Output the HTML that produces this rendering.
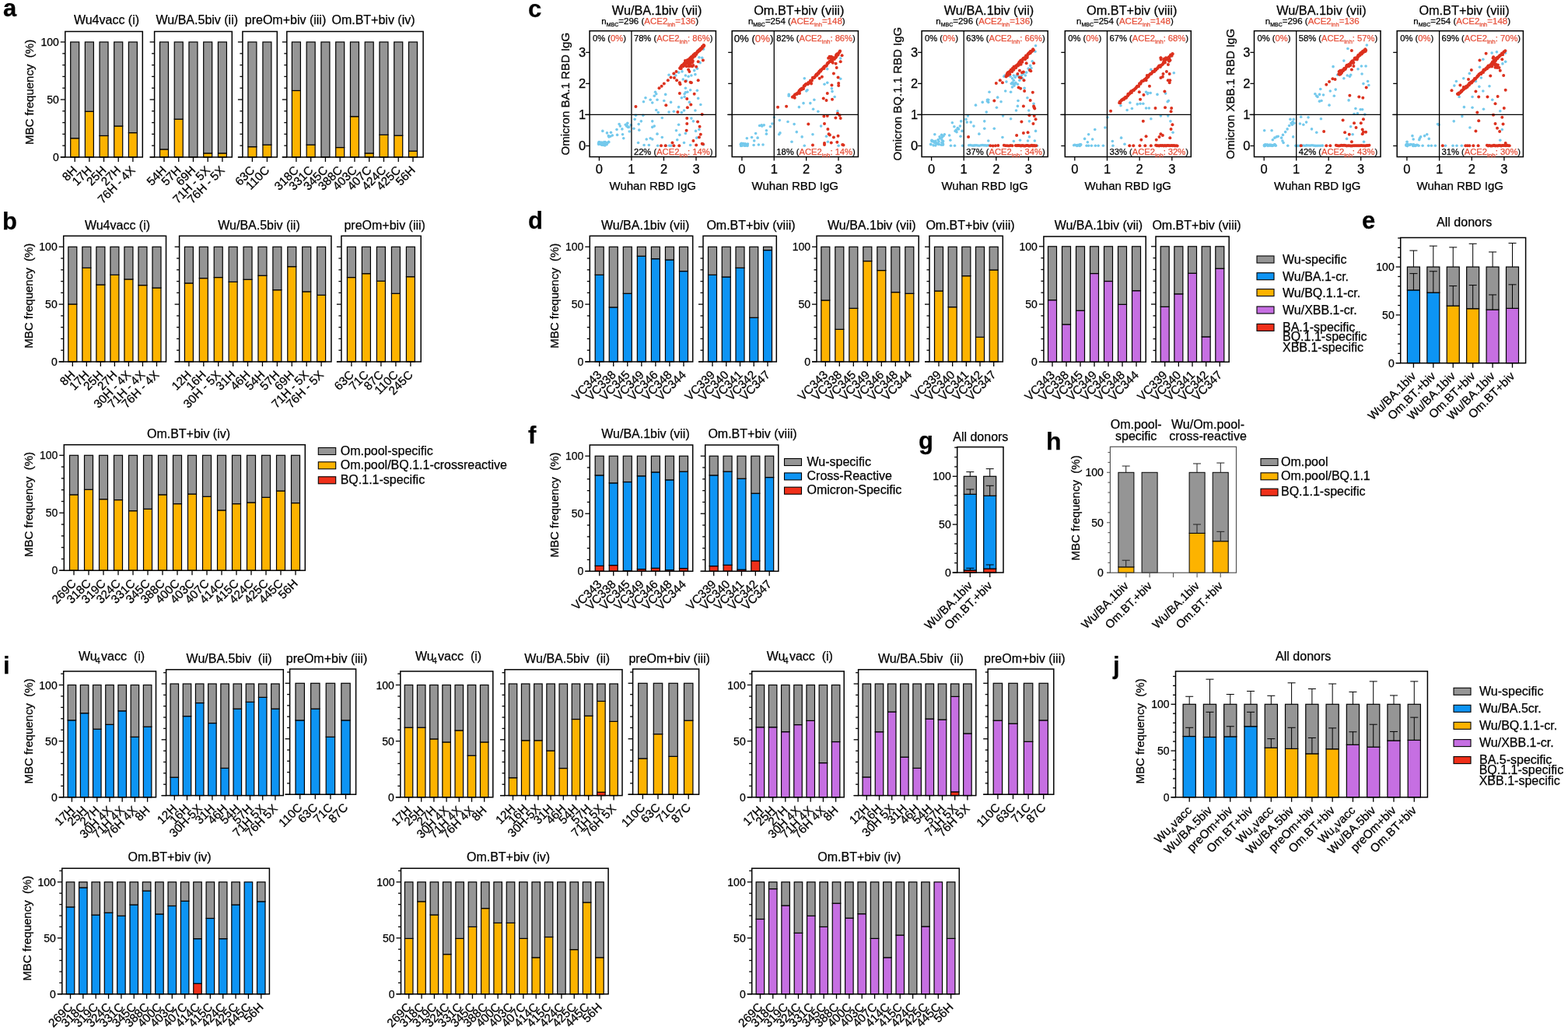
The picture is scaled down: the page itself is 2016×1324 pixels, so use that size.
<!DOCTYPE html>
<html><head><meta charset="utf-8"><title>Figure</title>
<style>html,body{margin:0;padding:0;background:#fff;overflow:hidden;width:2016px;height:1324px;} svg{display:block;} text{font-family:'Liberation Sans', Arial, sans-serif;stroke:#000;stroke-width:0.25px;} tspan[fill]{stroke:#e6503a;}</style>
</head><body>
<svg width="2016" height="1324" viewBox="0 0 2016 1324">
<rect width="2016" height="1324" fill="#fff"/>
<text x="4" y="21" font-size="31" font-weight="bold">a</text>
<rect x="90.7" y="177.73" width="11" height="24.27" fill="#fdb300" stroke="#000" stroke-width="1.2"/>
<rect x="90.7" y="54" width="11" height="123.73" fill="#959595" stroke="#000" stroke-width="1.2"/>
<rect x="109.37" y="143.24" width="11" height="58.76" fill="#fdb300" stroke="#000" stroke-width="1.2"/>
<rect x="109.37" y="54" width="11" height="89.24" fill="#959595" stroke="#000" stroke-width="1.2"/>
<rect x="128.04" y="174.47" width="11" height="27.53" fill="#fdb300" stroke="#000" stroke-width="1.2"/>
<rect x="128.04" y="54" width="11" height="120.47" fill="#959595" stroke="#000" stroke-width="1.2"/>
<rect x="146.71" y="162.04" width="11" height="39.96" fill="#fdb300" stroke="#000" stroke-width="1.2"/>
<rect x="146.71" y="54" width="11" height="108.04" fill="#959595" stroke="#000" stroke-width="1.2"/>
<rect x="165.38" y="170.62" width="11" height="31.38" fill="#fdb300" stroke="#000" stroke-width="1.2"/>
<rect x="165.38" y="54" width="11" height="116.62" fill="#959595" stroke="#000" stroke-width="1.2"/>
<rect x="83.8" y="40.5" width="99.5" height="161.5" fill="none" stroke="#000" stroke-width="1.5"/>
<line x1="77.8" y1="202" x2="83.8" y2="202" stroke="#000" stroke-width="1.3"/>
<text x="75.8" y="207.04" font-size="14" text-anchor="end">0</text>
<line x1="80.3" y1="187.2" x2="83.8" y2="187.2" stroke="#000" stroke-width="1.3"/>
<line x1="80.3" y1="172.4" x2="83.8" y2="172.4" stroke="#000" stroke-width="1.3"/>
<line x1="80.3" y1="157.6" x2="83.8" y2="157.6" stroke="#000" stroke-width="1.3"/>
<line x1="80.3" y1="142.8" x2="83.8" y2="142.8" stroke="#000" stroke-width="1.3"/>
<line x1="77.8" y1="128" x2="83.8" y2="128" stroke="#000" stroke-width="1.3"/>
<text x="75.8" y="133.04" font-size="14" text-anchor="end">50</text>
<line x1="80.3" y1="113.2" x2="83.8" y2="113.2" stroke="#000" stroke-width="1.3"/>
<line x1="80.3" y1="98.4" x2="83.8" y2="98.4" stroke="#000" stroke-width="1.3"/>
<line x1="80.3" y1="83.6" x2="83.8" y2="83.6" stroke="#000" stroke-width="1.3"/>
<line x1="80.3" y1="68.8" x2="83.8" y2="68.8" stroke="#000" stroke-width="1.3"/>
<line x1="77.8" y1="54" x2="83.8" y2="54" stroke="#000" stroke-width="1.3"/>
<text x="75.8" y="59.04" font-size="14" text-anchor="end">100</text>
<line x1="77.8" y1="202" x2="83.8" y2="202" stroke="#000" stroke-width="1.3"/>
<line x1="96.2" y1="202" x2="96.2" y2="208" stroke="#000" stroke-width="1.3"/>
<line x1="114.87" y1="202" x2="114.87" y2="208" stroke="#000" stroke-width="1.3"/>
<line x1="133.54" y1="202" x2="133.54" y2="208" stroke="#000" stroke-width="1.3"/>
<line x1="152.21" y1="202" x2="152.21" y2="208" stroke="#000" stroke-width="1.3"/>
<line x1="170.88" y1="202" x2="170.88" y2="208" stroke="#000" stroke-width="1.3"/>
<text transform="translate(100.1,219.7) rotate(-45)" font-size="15.3" text-anchor="end">8H</text>
<text transform="translate(118.77,219.7) rotate(-45)" font-size="15.3" text-anchor="end">17H</text>
<text transform="translate(137.44,219.7) rotate(-45)" font-size="15.3" text-anchor="end">25H</text>
<text transform="translate(156.11,219.7) rotate(-45)" font-size="15.3" text-anchor="end">27H</text>
<text transform="translate(174.78,219.7) rotate(-45)" font-size="15.3" text-anchor="end">76H - 4X</text>
<rect x="205.5" y="191.94" width="11" height="10.06" fill="#fdb300" stroke="#000" stroke-width="1.2"/>
<rect x="205.5" y="54" width="11" height="137.94" fill="#959595" stroke="#000" stroke-width="1.2"/>
<rect x="224.23" y="153.16" width="11" height="48.84" fill="#fdb300" stroke="#000" stroke-width="1.2"/>
<rect x="224.23" y="54" width="11" height="99.16" fill="#959595" stroke="#000" stroke-width="1.2"/>
<rect x="242.96" y="54" width="11" height="148" fill="#959595" stroke="#000" stroke-width="1.2"/>
<rect x="261.69" y="196.97" width="11" height="5.03" fill="#fdb300" stroke="#000" stroke-width="1.2"/>
<rect x="261.69" y="54" width="11" height="142.97" fill="#959595" stroke="#000" stroke-width="1.2"/>
<rect x="280.42" y="196.97" width="11" height="5.03" fill="#fdb300" stroke="#000" stroke-width="1.2"/>
<rect x="280.42" y="54" width="11" height="142.97" fill="#959595" stroke="#000" stroke-width="1.2"/>
<rect x="198.6" y="40.5" width="99.7" height="161.5" fill="none" stroke="#000" stroke-width="1.5"/>
<line x1="192.6" y1="202" x2="198.6" y2="202" stroke="#000" stroke-width="1.3"/>
<line x1="195.1" y1="187.2" x2="198.6" y2="187.2" stroke="#000" stroke-width="1.3"/>
<line x1="195.1" y1="172.4" x2="198.6" y2="172.4" stroke="#000" stroke-width="1.3"/>
<line x1="195.1" y1="157.6" x2="198.6" y2="157.6" stroke="#000" stroke-width="1.3"/>
<line x1="195.1" y1="142.8" x2="198.6" y2="142.8" stroke="#000" stroke-width="1.3"/>
<line x1="192.6" y1="128" x2="198.6" y2="128" stroke="#000" stroke-width="1.3"/>
<line x1="195.1" y1="113.2" x2="198.6" y2="113.2" stroke="#000" stroke-width="1.3"/>
<line x1="195.1" y1="98.4" x2="198.6" y2="98.4" stroke="#000" stroke-width="1.3"/>
<line x1="195.1" y1="83.6" x2="198.6" y2="83.6" stroke="#000" stroke-width="1.3"/>
<line x1="195.1" y1="68.8" x2="198.6" y2="68.8" stroke="#000" stroke-width="1.3"/>
<line x1="192.6" y1="54" x2="198.6" y2="54" stroke="#000" stroke-width="1.3"/>
<line x1="192.6" y1="202" x2="198.6" y2="202" stroke="#000" stroke-width="1.3"/>
<line x1="211" y1="202" x2="211" y2="208" stroke="#000" stroke-width="1.3"/>
<line x1="229.73" y1="202" x2="229.73" y2="208" stroke="#000" stroke-width="1.3"/>
<line x1="248.46" y1="202" x2="248.46" y2="208" stroke="#000" stroke-width="1.3"/>
<line x1="267.19" y1="202" x2="267.19" y2="208" stroke="#000" stroke-width="1.3"/>
<line x1="285.92" y1="202" x2="285.92" y2="208" stroke="#000" stroke-width="1.3"/>
<text transform="translate(214.9,219.7) rotate(-45)" font-size="15.3" text-anchor="end">54H</text>
<text transform="translate(233.63,219.7) rotate(-45)" font-size="15.3" text-anchor="end">57H</text>
<text transform="translate(252.36,219.7) rotate(-45)" font-size="15.3" text-anchor="end">69H</text>
<text transform="translate(271.09,219.7) rotate(-45)" font-size="15.3" text-anchor="end">71H - 5X</text>
<text transform="translate(289.82,219.7) rotate(-45)" font-size="15.3" text-anchor="end">76H - 5X</text>
<rect x="318.9" y="188.68" width="11" height="13.32" fill="#fdb300" stroke="#000" stroke-width="1.2"/>
<rect x="318.9" y="54" width="11" height="134.68" fill="#959595" stroke="#000" stroke-width="1.2"/>
<rect x="337.9" y="186.16" width="11" height="15.84" fill="#fdb300" stroke="#000" stroke-width="1.2"/>
<rect x="337.9" y="54" width="11" height="132.16" fill="#959595" stroke="#000" stroke-width="1.2"/>
<rect x="311.9" y="40.5" width="44.4" height="161.5" fill="none" stroke="#000" stroke-width="1.5"/>
<line x1="305.9" y1="202" x2="311.9" y2="202" stroke="#000" stroke-width="1.3"/>
<line x1="308.4" y1="187.2" x2="311.9" y2="187.2" stroke="#000" stroke-width="1.3"/>
<line x1="308.4" y1="172.4" x2="311.9" y2="172.4" stroke="#000" stroke-width="1.3"/>
<line x1="308.4" y1="157.6" x2="311.9" y2="157.6" stroke="#000" stroke-width="1.3"/>
<line x1="308.4" y1="142.8" x2="311.9" y2="142.8" stroke="#000" stroke-width="1.3"/>
<line x1="305.9" y1="128" x2="311.9" y2="128" stroke="#000" stroke-width="1.3"/>
<line x1="308.4" y1="113.2" x2="311.9" y2="113.2" stroke="#000" stroke-width="1.3"/>
<line x1="308.4" y1="98.4" x2="311.9" y2="98.4" stroke="#000" stroke-width="1.3"/>
<line x1="308.4" y1="83.6" x2="311.9" y2="83.6" stroke="#000" stroke-width="1.3"/>
<line x1="308.4" y1="68.8" x2="311.9" y2="68.8" stroke="#000" stroke-width="1.3"/>
<line x1="305.9" y1="54" x2="311.9" y2="54" stroke="#000" stroke-width="1.3"/>
<line x1="305.9" y1="202" x2="311.9" y2="202" stroke="#000" stroke-width="1.3"/>
<line x1="324.4" y1="202" x2="324.4" y2="208" stroke="#000" stroke-width="1.3"/>
<line x1="343.4" y1="202" x2="343.4" y2="208" stroke="#000" stroke-width="1.3"/>
<text transform="translate(328.3,219.7) rotate(-45)" font-size="15.3" text-anchor="end">63C</text>
<text transform="translate(347.3,219.7) rotate(-45)" font-size="15.3" text-anchor="end">110C</text>
<rect x="375.4" y="116.46" width="11" height="85.54" fill="#fdb300" stroke="#000" stroke-width="1.2"/>
<rect x="375.4" y="54" width="11" height="62.46" fill="#959595" stroke="#000" stroke-width="1.2"/>
<rect x="394.16" y="186.16" width="11" height="15.84" fill="#fdb300" stroke="#000" stroke-width="1.2"/>
<rect x="394.16" y="54" width="11" height="132.16" fill="#959595" stroke="#000" stroke-width="1.2"/>
<rect x="412.92" y="54" width="11" height="148" fill="#959595" stroke="#000" stroke-width="1.2"/>
<rect x="431.68" y="189.57" width="11" height="12.43" fill="#fdb300" stroke="#000" stroke-width="1.2"/>
<rect x="431.68" y="54" width="11" height="135.57" fill="#959595" stroke="#000" stroke-width="1.2"/>
<rect x="450.44" y="149.76" width="11" height="52.24" fill="#fdb300" stroke="#000" stroke-width="1.2"/>
<rect x="450.44" y="54" width="11" height="95.76" fill="#959595" stroke="#000" stroke-width="1.2"/>
<rect x="469.2" y="196.97" width="11" height="5.03" fill="#fdb300" stroke="#000" stroke-width="1.2"/>
<rect x="469.2" y="54" width="11" height="142.97" fill="#959595" stroke="#000" stroke-width="1.2"/>
<rect x="487.96" y="173.29" width="11" height="28.71" fill="#fdb300" stroke="#000" stroke-width="1.2"/>
<rect x="487.96" y="54" width="11" height="119.29" fill="#959595" stroke="#000" stroke-width="1.2"/>
<rect x="506.72" y="174.18" width="11" height="27.82" fill="#fdb300" stroke="#000" stroke-width="1.2"/>
<rect x="506.72" y="54" width="11" height="120.18" fill="#959595" stroke="#000" stroke-width="1.2"/>
<rect x="525.48" y="194.16" width="11" height="7.84" fill="#fdb300" stroke="#000" stroke-width="1.2"/>
<rect x="525.48" y="54" width="11" height="140.16" fill="#959595" stroke="#000" stroke-width="1.2"/>
<rect x="368.8" y="40.5" width="175.3" height="161.5" fill="none" stroke="#000" stroke-width="1.5"/>
<line x1="362.8" y1="202" x2="368.8" y2="202" stroke="#000" stroke-width="1.3"/>
<line x1="365.3" y1="187.2" x2="368.8" y2="187.2" stroke="#000" stroke-width="1.3"/>
<line x1="365.3" y1="172.4" x2="368.8" y2="172.4" stroke="#000" stroke-width="1.3"/>
<line x1="365.3" y1="157.6" x2="368.8" y2="157.6" stroke="#000" stroke-width="1.3"/>
<line x1="365.3" y1="142.8" x2="368.8" y2="142.8" stroke="#000" stroke-width="1.3"/>
<line x1="362.8" y1="128" x2="368.8" y2="128" stroke="#000" stroke-width="1.3"/>
<line x1="365.3" y1="113.2" x2="368.8" y2="113.2" stroke="#000" stroke-width="1.3"/>
<line x1="365.3" y1="98.4" x2="368.8" y2="98.4" stroke="#000" stroke-width="1.3"/>
<line x1="365.3" y1="83.6" x2="368.8" y2="83.6" stroke="#000" stroke-width="1.3"/>
<line x1="365.3" y1="68.8" x2="368.8" y2="68.8" stroke="#000" stroke-width="1.3"/>
<line x1="362.8" y1="54" x2="368.8" y2="54" stroke="#000" stroke-width="1.3"/>
<line x1="362.8" y1="202" x2="368.8" y2="202" stroke="#000" stroke-width="1.3"/>
<line x1="380.9" y1="202" x2="380.9" y2="208" stroke="#000" stroke-width="1.3"/>
<line x1="399.66" y1="202" x2="399.66" y2="208" stroke="#000" stroke-width="1.3"/>
<line x1="418.42" y1="202" x2="418.42" y2="208" stroke="#000" stroke-width="1.3"/>
<line x1="437.18" y1="202" x2="437.18" y2="208" stroke="#000" stroke-width="1.3"/>
<line x1="455.94" y1="202" x2="455.94" y2="208" stroke="#000" stroke-width="1.3"/>
<line x1="474.7" y1="202" x2="474.7" y2="208" stroke="#000" stroke-width="1.3"/>
<line x1="493.46" y1="202" x2="493.46" y2="208" stroke="#000" stroke-width="1.3"/>
<line x1="512.22" y1="202" x2="512.22" y2="208" stroke="#000" stroke-width="1.3"/>
<line x1="530.98" y1="202" x2="530.98" y2="208" stroke="#000" stroke-width="1.3"/>
<text transform="translate(384.8,219.7) rotate(-45)" font-size="15.3" text-anchor="end">318C</text>
<text transform="translate(403.56,219.7) rotate(-45)" font-size="15.3" text-anchor="end">331C</text>
<text transform="translate(422.32,219.7) rotate(-45)" font-size="15.3" text-anchor="end">345C</text>
<text transform="translate(441.08,219.7) rotate(-45)" font-size="15.3" text-anchor="end">388C</text>
<text transform="translate(459.84,219.7) rotate(-45)" font-size="15.3" text-anchor="end">403C</text>
<text transform="translate(478.6,219.7) rotate(-45)" font-size="15.3" text-anchor="end">407C</text>
<text transform="translate(497.36,219.7) rotate(-45)" font-size="15.3" text-anchor="end">424C</text>
<text transform="translate(516.12,219.7) rotate(-45)" font-size="15.3" text-anchor="end">425C</text>
<text transform="translate(534.88,219.7) rotate(-45)" font-size="15.3" text-anchor="end">56H</text>
<text x="137" y="31" font-size="16" text-anchor="middle">Wu4vacc (i)</text>
<text x="253.3" y="31" font-size="16" text-anchor="middle">Wu/BA.5biv (ii)</text>
<text x="367" y="31" font-size="16" text-anchor="middle">preOm+biv (iii)</text>
<text x="480" y="31" font-size="16" text-anchor="middle">Om.BT+biv (iv)</text>
<text transform="translate(42.5,118.4) rotate(-90)" font-size="15" text-anchor="middle" xml:space="preserve">MBC frequency  (%)</text>
<text x="3" y="295" font-size="31" font-weight="bold">b</text>
<rect x="87.8" y="391" width="11" height="74" fill="#fdb300" stroke="#000" stroke-width="1.2"/>
<rect x="87.8" y="317.3" width="11" height="73.7" fill="#959595" stroke="#000" stroke-width="1.2"/>
<rect x="105.83" y="344.33" width="11" height="120.67" fill="#fdb300" stroke="#000" stroke-width="1.2"/>
<rect x="105.83" y="317.3" width="11" height="27.03" fill="#959595" stroke="#000" stroke-width="1.2"/>
<rect x="123.86" y="366.04" width="11" height="98.96" fill="#fdb300" stroke="#000" stroke-width="1.2"/>
<rect x="123.86" y="317.3" width="11" height="48.74" fill="#959595" stroke="#000" stroke-width="1.2"/>
<rect x="141.89" y="353.34" width="11" height="111.66" fill="#fdb300" stroke="#000" stroke-width="1.2"/>
<rect x="141.89" y="317.3" width="11" height="36.04" fill="#959595" stroke="#000" stroke-width="1.2"/>
<rect x="159.92" y="358.95" width="11" height="106.05" fill="#fdb300" stroke="#000" stroke-width="1.2"/>
<rect x="159.92" y="317.3" width="11" height="41.65" fill="#959595" stroke="#000" stroke-width="1.2"/>
<rect x="177.95" y="366.63" width="11" height="98.37" fill="#fdb300" stroke="#000" stroke-width="1.2"/>
<rect x="177.95" y="317.3" width="11" height="49.33" fill="#959595" stroke="#000" stroke-width="1.2"/>
<rect x="195.98" y="370.03" width="11" height="94.97" fill="#fdb300" stroke="#000" stroke-width="1.2"/>
<rect x="195.98" y="317.3" width="11" height="52.73" fill="#959595" stroke="#000" stroke-width="1.2"/>
<rect x="81.7" y="303.3" width="131.8" height="161.7" fill="none" stroke="#000" stroke-width="1.5"/>
<line x1="75.7" y1="465" x2="81.7" y2="465" stroke="#000" stroke-width="1.3"/>
<text x="73.7" y="470.04" font-size="14" text-anchor="end">0</text>
<line x1="78.2" y1="450.23" x2="81.7" y2="450.23" stroke="#000" stroke-width="1.3"/>
<line x1="78.2" y1="435.46" x2="81.7" y2="435.46" stroke="#000" stroke-width="1.3"/>
<line x1="78.2" y1="420.69" x2="81.7" y2="420.69" stroke="#000" stroke-width="1.3"/>
<line x1="78.2" y1="405.92" x2="81.7" y2="405.92" stroke="#000" stroke-width="1.3"/>
<line x1="75.7" y1="391.15" x2="81.7" y2="391.15" stroke="#000" stroke-width="1.3"/>
<text x="73.7" y="396.19" font-size="14" text-anchor="end">50</text>
<line x1="78.2" y1="376.38" x2="81.7" y2="376.38" stroke="#000" stroke-width="1.3"/>
<line x1="78.2" y1="361.61" x2="81.7" y2="361.61" stroke="#000" stroke-width="1.3"/>
<line x1="78.2" y1="346.84" x2="81.7" y2="346.84" stroke="#000" stroke-width="1.3"/>
<line x1="78.2" y1="332.07" x2="81.7" y2="332.07" stroke="#000" stroke-width="1.3"/>
<line x1="75.7" y1="317.3" x2="81.7" y2="317.3" stroke="#000" stroke-width="1.3"/>
<text x="73.7" y="322.34" font-size="14" text-anchor="end">100</text>
<line x1="75.7" y1="465" x2="81.7" y2="465" stroke="#000" stroke-width="1.3"/>
<line x1="93.3" y1="465" x2="93.3" y2="471" stroke="#000" stroke-width="1.3"/>
<line x1="111.33" y1="465" x2="111.33" y2="471" stroke="#000" stroke-width="1.3"/>
<line x1="129.36" y1="465" x2="129.36" y2="471" stroke="#000" stroke-width="1.3"/>
<line x1="147.39" y1="465" x2="147.39" y2="471" stroke="#000" stroke-width="1.3"/>
<line x1="165.42" y1="465" x2="165.42" y2="471" stroke="#000" stroke-width="1.3"/>
<line x1="183.45" y1="465" x2="183.45" y2="471" stroke="#000" stroke-width="1.3"/>
<line x1="201.48" y1="465" x2="201.48" y2="471" stroke="#000" stroke-width="1.3"/>
<text transform="translate(97.2,482.7) rotate(-45)" font-size="15.3" text-anchor="end">8H</text>
<text transform="translate(115.23,482.7) rotate(-45)" font-size="15.3" text-anchor="end">17H</text>
<text transform="translate(133.26,482.7) rotate(-45)" font-size="15.3" text-anchor="end">25H</text>
<text transform="translate(151.29,482.7) rotate(-45)" font-size="15.3" text-anchor="end">27H</text>
<text transform="translate(169.32,482.7) rotate(-45)" font-size="15.3" text-anchor="end">30H - 4X</text>
<text transform="translate(187.35,482.7) rotate(-45)" font-size="15.3" text-anchor="end">71H - 4X</text>
<text transform="translate(205.38,482.7) rotate(-45)" font-size="15.3" text-anchor="end">76H - 4X</text>
<rect x="237.4" y="363.97" width="11" height="101.03" fill="#fdb300" stroke="#000" stroke-width="1.2"/>
<rect x="237.4" y="317.3" width="11" height="46.67" fill="#959595" stroke="#000" stroke-width="1.2"/>
<rect x="256.31" y="357.62" width="11" height="107.38" fill="#fdb300" stroke="#000" stroke-width="1.2"/>
<rect x="256.31" y="317.3" width="11" height="40.32" fill="#959595" stroke="#000" stroke-width="1.2"/>
<rect x="275.22" y="356.59" width="11" height="108.41" fill="#fdb300" stroke="#000" stroke-width="1.2"/>
<rect x="275.22" y="317.3" width="11" height="39.29" fill="#959595" stroke="#000" stroke-width="1.2"/>
<rect x="294.13" y="362.35" width="11" height="102.65" fill="#fdb300" stroke="#000" stroke-width="1.2"/>
<rect x="294.13" y="317.3" width="11" height="45.05" fill="#959595" stroke="#000" stroke-width="1.2"/>
<rect x="313.04" y="359.25" width="11" height="105.75" fill="#fdb300" stroke="#000" stroke-width="1.2"/>
<rect x="313.04" y="317.3" width="11" height="41.95" fill="#959595" stroke="#000" stroke-width="1.2"/>
<rect x="331.95" y="354.23" width="11" height="110.77" fill="#fdb300" stroke="#000" stroke-width="1.2"/>
<rect x="331.95" y="317.3" width="11" height="36.93" fill="#959595" stroke="#000" stroke-width="1.2"/>
<rect x="350.86" y="372.69" width="11" height="92.31" fill="#fdb300" stroke="#000" stroke-width="1.2"/>
<rect x="350.86" y="317.3" width="11" height="55.39" fill="#959595" stroke="#000" stroke-width="1.2"/>
<rect x="369.77" y="342.7" width="11" height="122.3" fill="#fdb300" stroke="#000" stroke-width="1.2"/>
<rect x="369.77" y="317.3" width="11" height="25.4" fill="#959595" stroke="#000" stroke-width="1.2"/>
<rect x="388.68" y="374.9" width="11" height="90.1" fill="#fdb300" stroke="#000" stroke-width="1.2"/>
<rect x="388.68" y="317.3" width="11" height="57.6" fill="#959595" stroke="#000" stroke-width="1.2"/>
<rect x="407.59" y="379.33" width="11" height="85.67" fill="#fdb300" stroke="#000" stroke-width="1.2"/>
<rect x="407.59" y="317.3" width="11" height="62.03" fill="#959595" stroke="#000" stroke-width="1.2"/>
<rect x="230.6" y="303.3" width="195.3" height="161.7" fill="none" stroke="#000" stroke-width="1.5"/>
<line x1="224.6" y1="465" x2="230.6" y2="465" stroke="#000" stroke-width="1.3"/>
<line x1="227.1" y1="450.23" x2="230.6" y2="450.23" stroke="#000" stroke-width="1.3"/>
<line x1="227.1" y1="435.46" x2="230.6" y2="435.46" stroke="#000" stroke-width="1.3"/>
<line x1="227.1" y1="420.69" x2="230.6" y2="420.69" stroke="#000" stroke-width="1.3"/>
<line x1="227.1" y1="405.92" x2="230.6" y2="405.92" stroke="#000" stroke-width="1.3"/>
<line x1="224.6" y1="391.15" x2="230.6" y2="391.15" stroke="#000" stroke-width="1.3"/>
<line x1="227.1" y1="376.38" x2="230.6" y2="376.38" stroke="#000" stroke-width="1.3"/>
<line x1="227.1" y1="361.61" x2="230.6" y2="361.61" stroke="#000" stroke-width="1.3"/>
<line x1="227.1" y1="346.84" x2="230.6" y2="346.84" stroke="#000" stroke-width="1.3"/>
<line x1="227.1" y1="332.07" x2="230.6" y2="332.07" stroke="#000" stroke-width="1.3"/>
<line x1="224.6" y1="317.3" x2="230.6" y2="317.3" stroke="#000" stroke-width="1.3"/>
<line x1="224.6" y1="465" x2="230.6" y2="465" stroke="#000" stroke-width="1.3"/>
<line x1="242.9" y1="465" x2="242.9" y2="471" stroke="#000" stroke-width="1.3"/>
<line x1="261.81" y1="465" x2="261.81" y2="471" stroke="#000" stroke-width="1.3"/>
<line x1="280.72" y1="465" x2="280.72" y2="471" stroke="#000" stroke-width="1.3"/>
<line x1="299.63" y1="465" x2="299.63" y2="471" stroke="#000" stroke-width="1.3"/>
<line x1="318.54" y1="465" x2="318.54" y2="471" stroke="#000" stroke-width="1.3"/>
<line x1="337.45" y1="465" x2="337.45" y2="471" stroke="#000" stroke-width="1.3"/>
<line x1="356.36" y1="465" x2="356.36" y2="471" stroke="#000" stroke-width="1.3"/>
<line x1="375.27" y1="465" x2="375.27" y2="471" stroke="#000" stroke-width="1.3"/>
<line x1="394.18" y1="465" x2="394.18" y2="471" stroke="#000" stroke-width="1.3"/>
<line x1="413.09" y1="465" x2="413.09" y2="471" stroke="#000" stroke-width="1.3"/>
<text transform="translate(246.8,482.7) rotate(-45)" font-size="15.3" text-anchor="end">12H</text>
<text transform="translate(265.71,482.7) rotate(-45)" font-size="15.3" text-anchor="end">16H</text>
<text transform="translate(284.62,482.7) rotate(-45)" font-size="15.3" text-anchor="end">30H - 5X</text>
<text transform="translate(303.53,482.7) rotate(-45)" font-size="15.3" text-anchor="end">31H</text>
<text transform="translate(322.44,482.7) rotate(-45)" font-size="15.3" text-anchor="end">46H</text>
<text transform="translate(341.35,482.7) rotate(-45)" font-size="15.3" text-anchor="end">54H</text>
<text transform="translate(360.26,482.7) rotate(-45)" font-size="15.3" text-anchor="end">57H</text>
<text transform="translate(379.17,482.7) rotate(-45)" font-size="15.3" text-anchor="end">69H</text>
<text transform="translate(398.08,482.7) rotate(-45)" font-size="15.3" text-anchor="end">71H - 5X</text>
<text transform="translate(416.99,482.7) rotate(-45)" font-size="15.3" text-anchor="end">76H - 5X</text>
<rect x="446.4" y="356.59" width="11" height="108.41" fill="#fdb300" stroke="#000" stroke-width="1.2"/>
<rect x="446.4" y="317.3" width="11" height="39.29" fill="#959595" stroke="#000" stroke-width="1.2"/>
<rect x="465.4" y="351.71" width="11" height="113.29" fill="#fdb300" stroke="#000" stroke-width="1.2"/>
<rect x="465.4" y="317.3" width="11" height="34.41" fill="#959595" stroke="#000" stroke-width="1.2"/>
<rect x="484.4" y="361.31" width="11" height="103.69" fill="#fdb300" stroke="#000" stroke-width="1.2"/>
<rect x="484.4" y="317.3" width="11" height="44.01" fill="#959595" stroke="#000" stroke-width="1.2"/>
<rect x="503.4" y="377.27" width="11" height="87.73" fill="#fdb300" stroke="#000" stroke-width="1.2"/>
<rect x="503.4" y="317.3" width="11" height="59.97" fill="#959595" stroke="#000" stroke-width="1.2"/>
<rect x="522.4" y="355.7" width="11" height="109.3" fill="#fdb300" stroke="#000" stroke-width="1.2"/>
<rect x="522.4" y="317.3" width="11" height="38.4" fill="#959595" stroke="#000" stroke-width="1.2"/>
<rect x="438.9" y="303.3" width="102.3" height="161.7" fill="none" stroke="#000" stroke-width="1.5"/>
<line x1="432.9" y1="465" x2="438.9" y2="465" stroke="#000" stroke-width="1.3"/>
<line x1="435.4" y1="450.23" x2="438.9" y2="450.23" stroke="#000" stroke-width="1.3"/>
<line x1="435.4" y1="435.46" x2="438.9" y2="435.46" stroke="#000" stroke-width="1.3"/>
<line x1="435.4" y1="420.69" x2="438.9" y2="420.69" stroke="#000" stroke-width="1.3"/>
<line x1="435.4" y1="405.92" x2="438.9" y2="405.92" stroke="#000" stroke-width="1.3"/>
<line x1="432.9" y1="391.15" x2="438.9" y2="391.15" stroke="#000" stroke-width="1.3"/>
<line x1="435.4" y1="376.38" x2="438.9" y2="376.38" stroke="#000" stroke-width="1.3"/>
<line x1="435.4" y1="361.61" x2="438.9" y2="361.61" stroke="#000" stroke-width="1.3"/>
<line x1="435.4" y1="346.84" x2="438.9" y2="346.84" stroke="#000" stroke-width="1.3"/>
<line x1="435.4" y1="332.07" x2="438.9" y2="332.07" stroke="#000" stroke-width="1.3"/>
<line x1="432.9" y1="317.3" x2="438.9" y2="317.3" stroke="#000" stroke-width="1.3"/>
<line x1="432.9" y1="465" x2="438.9" y2="465" stroke="#000" stroke-width="1.3"/>
<line x1="451.9" y1="465" x2="451.9" y2="471" stroke="#000" stroke-width="1.3"/>
<line x1="470.9" y1="465" x2="470.9" y2="471" stroke="#000" stroke-width="1.3"/>
<line x1="489.9" y1="465" x2="489.9" y2="471" stroke="#000" stroke-width="1.3"/>
<line x1="508.9" y1="465" x2="508.9" y2="471" stroke="#000" stroke-width="1.3"/>
<line x1="527.9" y1="465" x2="527.9" y2="471" stroke="#000" stroke-width="1.3"/>
<text transform="translate(455.8,482.7) rotate(-45)" font-size="15.3" text-anchor="end">63C</text>
<text transform="translate(474.8,482.7) rotate(-45)" font-size="15.3" text-anchor="end">71C</text>
<text transform="translate(493.8,482.7) rotate(-45)" font-size="15.3" text-anchor="end">87C</text>
<text transform="translate(512.8,482.7) rotate(-45)" font-size="15.3" text-anchor="end">110C</text>
<text transform="translate(531.8,482.7) rotate(-45)" font-size="15.3" text-anchor="end">245C</text>
<text x="151" y="295" font-size="16" text-anchor="middle">Wu4vacc (i)</text>
<text x="333" y="295" font-size="16" text-anchor="middle">Wu/BA.5biv (ii)</text>
<text x="494.7" y="295" font-size="16" text-anchor="middle">preOm+biv (iii)</text>
<text transform="translate(41.5,380.2) rotate(-90)" font-size="15" text-anchor="middle" xml:space="preserve">MBC frequency  (%)</text>
<rect x="89.5" y="635.92" width="11" height="97.38" fill="#fdb300" stroke="#000" stroke-width="1.2"/>
<rect x="89.5" y="585.3" width="11" height="50.62" fill="#959595" stroke="#000" stroke-width="1.2"/>
<rect x="108.5" y="629.26" width="11" height="104.04" fill="#fdb300" stroke="#000" stroke-width="1.2"/>
<rect x="108.5" y="585.3" width="11" height="43.96" fill="#959595" stroke="#000" stroke-width="1.2"/>
<rect x="127.5" y="641.69" width="11" height="91.61" fill="#fdb300" stroke="#000" stroke-width="1.2"/>
<rect x="127.5" y="585.3" width="11" height="56.39" fill="#959595" stroke="#000" stroke-width="1.2"/>
<rect x="146.5" y="642.58" width="11" height="90.72" fill="#fdb300" stroke="#000" stroke-width="1.2"/>
<rect x="146.5" y="585.3" width="11" height="57.28" fill="#959595" stroke="#000" stroke-width="1.2"/>
<rect x="165.5" y="656.64" width="11" height="76.66" fill="#fdb300" stroke="#000" stroke-width="1.2"/>
<rect x="165.5" y="585.3" width="11" height="71.34" fill="#959595" stroke="#000" stroke-width="1.2"/>
<rect x="184.5" y="654.27" width="11" height="79.03" fill="#fdb300" stroke="#000" stroke-width="1.2"/>
<rect x="184.5" y="585.3" width="11" height="68.97" fill="#959595" stroke="#000" stroke-width="1.2"/>
<rect x="203.5" y="635.92" width="11" height="97.38" fill="#fdb300" stroke="#000" stroke-width="1.2"/>
<rect x="203.5" y="585.3" width="11" height="50.62" fill="#959595" stroke="#000" stroke-width="1.2"/>
<rect x="222.5" y="647.61" width="11" height="85.69" fill="#fdb300" stroke="#000" stroke-width="1.2"/>
<rect x="222.5" y="585.3" width="11" height="62.31" fill="#959595" stroke="#000" stroke-width="1.2"/>
<rect x="241.5" y="635.03" width="11" height="98.27" fill="#fdb300" stroke="#000" stroke-width="1.2"/>
<rect x="241.5" y="585.3" width="11" height="49.73" fill="#959595" stroke="#000" stroke-width="1.2"/>
<rect x="260.5" y="638.28" width="11" height="95.02" fill="#fdb300" stroke="#000" stroke-width="1.2"/>
<rect x="260.5" y="585.3" width="11" height="52.98" fill="#959595" stroke="#000" stroke-width="1.2"/>
<rect x="279.5" y="655.9" width="11" height="77.4" fill="#fdb300" stroke="#000" stroke-width="1.2"/>
<rect x="279.5" y="585.3" width="11" height="70.6" fill="#959595" stroke="#000" stroke-width="1.2"/>
<rect x="298.5" y="647.61" width="11" height="85.69" fill="#fdb300" stroke="#000" stroke-width="1.2"/>
<rect x="298.5" y="585.3" width="11" height="62.31" fill="#959595" stroke="#000" stroke-width="1.2"/>
<rect x="317.5" y="645.98" width="11" height="87.32" fill="#fdb300" stroke="#000" stroke-width="1.2"/>
<rect x="317.5" y="585.3" width="11" height="60.68" fill="#959595" stroke="#000" stroke-width="1.2"/>
<rect x="336.5" y="639.32" width="11" height="93.98" fill="#fdb300" stroke="#000" stroke-width="1.2"/>
<rect x="336.5" y="585.3" width="11" height="54.02" fill="#959595" stroke="#000" stroke-width="1.2"/>
<rect x="355.5" y="631.03" width="11" height="102.27" fill="#fdb300" stroke="#000" stroke-width="1.2"/>
<rect x="355.5" y="585.3" width="11" height="45.73" fill="#959595" stroke="#000" stroke-width="1.2"/>
<rect x="374.5" y="646.57" width="11" height="86.73" fill="#fdb300" stroke="#000" stroke-width="1.2"/>
<rect x="374.5" y="585.3" width="11" height="61.27" fill="#959595" stroke="#000" stroke-width="1.2"/>
<rect x="82.3" y="571.7" width="310" height="161.6" fill="none" stroke="#000" stroke-width="1.5"/>
<line x1="76.3" y1="733.3" x2="82.3" y2="733.3" stroke="#000" stroke-width="1.3"/>
<text x="74.3" y="738.34" font-size="14" text-anchor="end">0</text>
<line x1="78.8" y1="718.5" x2="82.3" y2="718.5" stroke="#000" stroke-width="1.3"/>
<line x1="78.8" y1="703.7" x2="82.3" y2="703.7" stroke="#000" stroke-width="1.3"/>
<line x1="78.8" y1="688.9" x2="82.3" y2="688.9" stroke="#000" stroke-width="1.3"/>
<line x1="78.8" y1="674.1" x2="82.3" y2="674.1" stroke="#000" stroke-width="1.3"/>
<line x1="76.3" y1="659.3" x2="82.3" y2="659.3" stroke="#000" stroke-width="1.3"/>
<text x="74.3" y="664.34" font-size="14" text-anchor="end">50</text>
<line x1="78.8" y1="644.5" x2="82.3" y2="644.5" stroke="#000" stroke-width="1.3"/>
<line x1="78.8" y1="629.7" x2="82.3" y2="629.7" stroke="#000" stroke-width="1.3"/>
<line x1="78.8" y1="614.9" x2="82.3" y2="614.9" stroke="#000" stroke-width="1.3"/>
<line x1="78.8" y1="600.1" x2="82.3" y2="600.1" stroke="#000" stroke-width="1.3"/>
<line x1="76.3" y1="585.3" x2="82.3" y2="585.3" stroke="#000" stroke-width="1.3"/>
<text x="74.3" y="590.34" font-size="14" text-anchor="end">100</text>
<line x1="76.3" y1="733.3" x2="82.3" y2="733.3" stroke="#000" stroke-width="1.3"/>
<line x1="95" y1="733.3" x2="95" y2="739.3" stroke="#000" stroke-width="1.3"/>
<line x1="114" y1="733.3" x2="114" y2="739.3" stroke="#000" stroke-width="1.3"/>
<line x1="133" y1="733.3" x2="133" y2="739.3" stroke="#000" stroke-width="1.3"/>
<line x1="152" y1="733.3" x2="152" y2="739.3" stroke="#000" stroke-width="1.3"/>
<line x1="171" y1="733.3" x2="171" y2="739.3" stroke="#000" stroke-width="1.3"/>
<line x1="190" y1="733.3" x2="190" y2="739.3" stroke="#000" stroke-width="1.3"/>
<line x1="209" y1="733.3" x2="209" y2="739.3" stroke="#000" stroke-width="1.3"/>
<line x1="228" y1="733.3" x2="228" y2="739.3" stroke="#000" stroke-width="1.3"/>
<line x1="247" y1="733.3" x2="247" y2="739.3" stroke="#000" stroke-width="1.3"/>
<line x1="266" y1="733.3" x2="266" y2="739.3" stroke="#000" stroke-width="1.3"/>
<line x1="285" y1="733.3" x2="285" y2="739.3" stroke="#000" stroke-width="1.3"/>
<line x1="304" y1="733.3" x2="304" y2="739.3" stroke="#000" stroke-width="1.3"/>
<line x1="323" y1="733.3" x2="323" y2="739.3" stroke="#000" stroke-width="1.3"/>
<line x1="342" y1="733.3" x2="342" y2="739.3" stroke="#000" stroke-width="1.3"/>
<line x1="361" y1="733.3" x2="361" y2="739.3" stroke="#000" stroke-width="1.3"/>
<line x1="380" y1="733.3" x2="380" y2="739.3" stroke="#000" stroke-width="1.3"/>
<text transform="translate(98.9,751) rotate(-45)" font-size="15.3" text-anchor="end">269C</text>
<text transform="translate(117.9,751) rotate(-45)" font-size="15.3" text-anchor="end">318C</text>
<text transform="translate(136.9,751) rotate(-45)" font-size="15.3" text-anchor="end">319C</text>
<text transform="translate(155.9,751) rotate(-45)" font-size="15.3" text-anchor="end">324C</text>
<text transform="translate(174.9,751) rotate(-45)" font-size="15.3" text-anchor="end">331C</text>
<text transform="translate(193.9,751) rotate(-45)" font-size="15.3" text-anchor="end">345C</text>
<text transform="translate(212.9,751) rotate(-45)" font-size="15.3" text-anchor="end">388C</text>
<text transform="translate(231.9,751) rotate(-45)" font-size="15.3" text-anchor="end">400C</text>
<text transform="translate(250.9,751) rotate(-45)" font-size="15.3" text-anchor="end">403C</text>
<text transform="translate(269.9,751) rotate(-45)" font-size="15.3" text-anchor="end">407C</text>
<text transform="translate(288.9,751) rotate(-45)" font-size="15.3" text-anchor="end">414C</text>
<text transform="translate(307.9,751) rotate(-45)" font-size="15.3" text-anchor="end">415C</text>
<text transform="translate(326.9,751) rotate(-45)" font-size="15.3" text-anchor="end">424C</text>
<text transform="translate(345.9,751) rotate(-45)" font-size="15.3" text-anchor="end">425C</text>
<text transform="translate(364.9,751) rotate(-45)" font-size="15.3" text-anchor="end">445C</text>
<text transform="translate(383.9,751) rotate(-45)" font-size="15.3" text-anchor="end">56H</text>
<text x="242.5" y="563" font-size="16" text-anchor="middle">Om.BT+biv (iv)</text>
<text transform="translate(42.1,648.5) rotate(-90)" font-size="15" text-anchor="middle" xml:space="preserve">MBC frequency  (%)</text>
<rect x="409.3" y="575.5" width="22.4" height="9" fill="#959595" stroke="#000" stroke-width="1.1"/>
<text x="437.7" y="584.5" font-size="16">Om.pool-specific</text>
<rect x="409.3" y="593.8" width="22.4" height="9" fill="#fdb300" stroke="#000" stroke-width="1.1"/>
<text x="437.7" y="602.8" font-size="16">Om.pool/BQ.1.1-crossreactive</text>
<rect x="409.3" y="612.8" width="22.4" height="9" fill="#f0301a" stroke="#000" stroke-width="1.1"/>
<text x="437.7" y="621.8" font-size="16">BQ.1.1-specific</text>
<text x="679" y="21.5" font-size="31" font-weight="bold">c</text>
<circle cx="774.81" cy="168.39" r="1.8" fill="#74c9ec"/>
<circle cx="780.45" cy="170.9" r="1.8" fill="#74c9ec"/>
<circle cx="785.46" cy="170.27" r="1.8" fill="#74c9ec"/>
<circle cx="782.96" cy="175.91" r="1.8" fill="#74c9ec"/>
<circle cx="787.34" cy="174.03" r="1.8" fill="#74c9ec"/>
<circle cx="793.61" cy="173.41" r="1.8" fill="#74c9ec"/>
<circle cx="792.99" cy="166.51" r="1.8" fill="#74c9ec"/>
<circle cx="796.12" cy="159.61" r="1.8" fill="#74c9ec"/>
<circle cx="799.88" cy="165.88" r="1.8" fill="#74c9ec"/>
<circle cx="800.51" cy="172.78" r="1.8" fill="#74c9ec"/>
<circle cx="801.76" cy="177.79" r="1.8" fill="#74c9ec"/>
<circle cx="804.27" cy="160.24" r="1.8" fill="#74c9ec"/>
<circle cx="806.78" cy="158.36" r="1.8" fill="#74c9ec"/>
<circle cx="808.66" cy="163.38" r="1.8" fill="#74c9ec"/>
<circle cx="809.28" cy="169.02" r="1.8" fill="#74c9ec"/>
<circle cx="811.17" cy="160.87" r="1.8" fill="#74c9ec"/>
<circle cx="816.18" cy="153.35" r="1.8" fill="#74c9ec"/>
<circle cx="817.43" cy="148.33" r="1.8" fill="#74c9ec"/>
<circle cx="814.93" cy="165.26" r="1.8" fill="#74c9ec"/>
<circle cx="821.2" cy="159.61" r="1.8" fill="#74c9ec"/>
<circle cx="821.82" cy="167.14" r="1.8" fill="#74c9ec"/>
<circle cx="824.33" cy="155.85" r="1.8" fill="#74c9ec"/>
<circle cx="826.84" cy="148.33" r="1.8" fill="#74c9ec"/>
<circle cx="820.57" cy="183.44" r="1.8" fill="#74c9ec"/>
<circle cx="828.09" cy="186.57" r="1.8" fill="#74c9ec"/>
<circle cx="831.23" cy="179.05" r="1.8" fill="#74c9ec"/>
<circle cx="834.36" cy="186.57" r="1.8" fill="#74c9ec"/>
<circle cx="836.24" cy="177.79" r="1.8" fill="#74c9ec"/>
<circle cx="838.75" cy="179.05" r="1.8" fill="#74c9ec"/>
<circle cx="838.75" cy="155.85" r="1.8" fill="#74c9ec"/>
<circle cx="841.26" cy="162.12" r="1.8" fill="#74c9ec"/>
<circle cx="838.75" cy="163.38" r="1.8" fill="#74c9ec"/>
<circle cx="845.02" cy="172.15" r="1.8" fill="#74c9ec"/>
<circle cx="845.64" cy="187.2" r="1.8" fill="#74c9ec"/>
<circle cx="851.29" cy="151.47" r="1.8" fill="#74c9ec"/>
<circle cx="851.29" cy="176.54" r="1.8" fill="#74c9ec"/>
<circle cx="856.3" cy="187.2" r="1.8" fill="#74c9ec"/>
<circle cx="860.69" cy="187.2" r="1.8" fill="#74c9ec"/>
<circle cx="862.57" cy="187.2" r="1.8" fill="#74c9ec"/>
<circle cx="869.47" cy="167.76" r="1.8" fill="#74c9ec"/>
<circle cx="872.6" cy="160.24" r="1.8" fill="#74c9ec"/>
<circle cx="873.85" cy="173.41" r="1.8" fill="#74c9ec"/>
<circle cx="870.72" cy="179.68" r="1.8" fill="#74c9ec"/>
<circle cx="879.5" cy="183.44" r="1.8" fill="#74c9ec"/>
<circle cx="881.38" cy="171.53" r="1.8" fill="#74c9ec"/>
<circle cx="887.64" cy="186.57" r="1.8" fill="#74c9ec"/>
<circle cx="888.9" cy="152.09" r="1.8" fill="#74c9ec"/>
<circle cx="891.41" cy="155.85" r="1.8" fill="#74c9ec"/>
<circle cx="894.54" cy="168.39" r="1.8" fill="#74c9ec"/>
<circle cx="895.79" cy="177.17" r="1.8" fill="#74c9ec"/>
<circle cx="898.93" cy="166.51" r="1.8" fill="#74c9ec"/>
<circle cx="904.57" cy="185.94" r="1.8" fill="#74c9ec"/>
<circle cx="827.46" cy="130.78" r="1.8" fill="#74c9ec"/>
<circle cx="829.97" cy="125.76" r="1.8" fill="#74c9ec"/>
<circle cx="836.24" cy="128.27" r="1.8" fill="#74c9ec"/>
<circle cx="838.75" cy="132.03" r="1.8" fill="#74c9ec"/>
<circle cx="841.26" cy="123.26" r="1.8" fill="#74c9ec"/>
<circle cx="842.51" cy="118.24" r="1.8" fill="#74c9ec"/>
<circle cx="843.76" cy="120.75" r="1.8" fill="#74c9ec"/>
<circle cx="845.02" cy="128.27" r="1.8" fill="#74c9ec"/>
<circle cx="843.76" cy="141.44" r="1.8" fill="#74c9ec"/>
<circle cx="846.27" cy="144.57" r="1.8" fill="#74c9ec"/>
<circle cx="853.79" cy="129.52" r="1.8" fill="#74c9ec"/>
<circle cx="855.67" cy="121.38" r="1.8" fill="#74c9ec"/>
<circle cx="862.57" cy="131.41" r="1.8" fill="#74c9ec"/>
<circle cx="860.06" cy="143.94" r="1.8" fill="#74c9ec"/>
<circle cx="866.33" cy="143.32" r="1.8" fill="#74c9ec"/>
<circle cx="872.6" cy="137.67" r="1.8" fill="#74c9ec"/>
<circle cx="876.36" cy="144.57" r="1.8" fill="#74c9ec"/>
<circle cx="879.5" cy="142.06" r="1.8" fill="#74c9ec"/>
<circle cx="880.12" cy="120.75" r="1.8" fill="#74c9ec"/>
<circle cx="881.38" cy="118.87" r="1.8" fill="#74c9ec"/>
<circle cx="880.12" cy="124.51" r="1.8" fill="#74c9ec"/>
<circle cx="883.88" cy="118.24" r="1.8" fill="#74c9ec"/>
<circle cx="886.39" cy="131.41" r="1.8" fill="#74c9ec"/>
<circle cx="896.42" cy="116.36" r="1.8" fill="#74c9ec"/>
<circle cx="897.68" cy="126.39" r="1.8" fill="#74c9ec"/>
<circle cx="900.81" cy="134.54" r="1.8" fill="#74c9ec"/>
<circle cx="860.06" cy="96.3" r="1.8" fill="#74c9ec"/>
<circle cx="868.84" cy="96.93" r="1.8" fill="#74c9ec"/>
<circle cx="876.99" cy="91.91" r="1.8" fill="#74c9ec"/>
<circle cx="878.24" cy="101.94" r="1.8" fill="#74c9ec"/>
<circle cx="882.63" cy="103.82" r="1.8" fill="#74c9ec"/>
<circle cx="885.14" cy="98.18" r="1.8" fill="#74c9ec"/>
<circle cx="893.91" cy="95.67" r="1.8" fill="#74c9ec"/>
<circle cx="898.93" cy="73.73" r="1.8" fill="#74c9ec"/>
<circle cx="902.69" cy="74.36" r="1.8" fill="#74c9ec"/>
<circle cx="904.57" cy="63.08" r="1.8" fill="#74c9ec"/>
<circle cx="806.15" cy="161.5" r="1.8" fill="#74c9ec"/>
<circle cx="807.4" cy="163.38" r="1.8" fill="#74c9ec"/>
<circle cx="805.52" cy="162.12" r="1.8" fill="#74c9ec"/>
<circle cx="797.37" cy="162.12" r="1.8" fill="#74c9ec"/>
<circle cx="782.33" cy="174.66" r="1.8" fill="#74c9ec"/>
<circle cx="784.84" cy="175.29" r="1.8" fill="#74c9ec"/>
<circle cx="773.63" cy="182.94" r="1.8" fill="#74c9ec"/>
<circle cx="778.14" cy="182.55" r="1.8" fill="#74c9ec"/>
<circle cx="776.56" cy="184.02" r="1.8" fill="#74c9ec"/>
<circle cx="769.96" cy="184.73" r="1.8" fill="#74c9ec"/>
<circle cx="769.68" cy="184.36" r="1.8" fill="#74c9ec"/>
<circle cx="770.13" cy="182.64" r="1.8" fill="#74c9ec"/>
<circle cx="775.02" cy="186.33" r="1.8" fill="#74c9ec"/>
<circle cx="770.87" cy="183.3" r="1.8" fill="#74c9ec"/>
<circle cx="777.82" cy="186.94" r="1.8" fill="#74c9ec"/>
<circle cx="777.12" cy="184.17" r="1.8" fill="#74c9ec"/>
<circle cx="782.63" cy="182.42" r="1.8" fill="#74c9ec"/>
<circle cx="781" cy="183.63" r="1.8" fill="#74c9ec"/>
<circle cx="771.15" cy="182.77" r="1.8" fill="#74c9ec"/>
<circle cx="773.42" cy="186.28" r="1.8" fill="#74c9ec"/>
<circle cx="771.66" cy="185.1" r="1.8" fill="#74c9ec"/>
<circle cx="777.98" cy="184.05" r="1.8" fill="#74c9ec"/>
<circle cx="776.72" cy="182.5" r="1.8" fill="#74c9ec"/>
<circle cx="769.99" cy="183.22" r="1.8" fill="#74c9ec"/>
<circle cx="778.55" cy="184.33" r="1.8" fill="#74c9ec"/>
<circle cx="773.5" cy="185.12" r="1.8" fill="#74c9ec"/>
<circle cx="775.41" cy="183.69" r="1.8" fill="#74c9ec"/>
<circle cx="780.12" cy="185.69" r="1.8" fill="#74c9ec"/>
<circle cx="772.53" cy="185.06" r="1.8" fill="#74c9ec"/>
<circle cx="776.41" cy="186.57" r="1.8" fill="#74c9ec"/>
<circle cx="779.22" cy="183.63" r="1.8" fill="#74c9ec"/>
<circle cx="782.68" cy="182.77" r="1.8" fill="#74c9ec"/>
<circle cx="774.93" cy="185.98" r="1.8" fill="#74c9ec"/>
<circle cx="771.26" cy="184.63" r="1.8" fill="#74c9ec"/>
<circle cx="769.71" cy="185.53" r="1.8" fill="#74c9ec"/>
<circle cx="779.71" cy="185.06" r="1.8" fill="#74c9ec"/>
<circle cx="866.33" cy="95.05" r="1.8" fill="#74c9ec"/>
<circle cx="872.6" cy="93.17" r="1.8" fill="#74c9ec"/>
<circle cx="881.38" cy="96.93" r="1.8" fill="#74c9ec"/>
<circle cx="888.9" cy="96.93" r="1.8" fill="#74c9ec"/>
<circle cx="892.66" cy="90.66" r="1.8" fill="#74c9ec"/>
<circle cx="896.42" cy="88.15" r="1.8" fill="#74c9ec"/>
<circle cx="900.18" cy="80.63" r="1.8" fill="#74c9ec"/>
<circle cx="881.38" cy="113.23" r="1.8" fill="#74c9ec"/>
<circle cx="887.64" cy="115.73" r="1.8" fill="#74c9ec"/>
<circle cx="876.36" cy="125.76" r="1.8" fill="#74c9ec"/>
<circle cx="893.91" cy="142.06" r="1.8" fill="#74c9ec"/>
<circle cx="817.43" cy="137.05" r="2.0" fill="#dc311e"/>
<circle cx="847.52" cy="113.23" r="2.0" fill="#dc311e"/>
<circle cx="850.66" cy="110.72" r="2.0" fill="#dc311e"/>
<circle cx="853.79" cy="107.58" r="2.0" fill="#dc311e"/>
<circle cx="858.81" cy="103.2" r="2.0" fill="#dc311e"/>
<circle cx="862.57" cy="99.43" r="2.0" fill="#dc311e"/>
<circle cx="866.96" cy="100.06" r="2.0" fill="#dc311e"/>
<circle cx="870.09" cy="103.2" r="2.0" fill="#dc311e"/>
<circle cx="873.85" cy="106.33" r="2.0" fill="#dc311e"/>
<circle cx="874.48" cy="108.21" r="2.0" fill="#dc311e"/>
<circle cx="881.38" cy="104.45" r="2.0" fill="#dc311e"/>
<circle cx="887.64" cy="105.7" r="2.0" fill="#dc311e"/>
<circle cx="888.9" cy="106.33" r="2.0" fill="#dc311e"/>
<circle cx="897.68" cy="103.2" r="2.0" fill="#dc311e"/>
<circle cx="886.39" cy="91.91" r="2.0" fill="#dc311e"/>
<circle cx="885.14" cy="89.4" r="2.0" fill="#dc311e"/>
<circle cx="895.17" cy="85.64" r="2.0" fill="#dc311e"/>
<circle cx="897.68" cy="79.37" r="2.0" fill="#dc311e"/>
<circle cx="903.94" cy="77.49" r="2.0" fill="#dc311e"/>
<circle cx="873.85" cy="120.12" r="2.0" fill="#dc311e"/>
<circle cx="883.26" cy="127.02" r="2.0" fill="#dc311e"/>
<circle cx="892.66" cy="120.75" r="2.0" fill="#dc311e"/>
<circle cx="856.3" cy="135.17" r="2.0" fill="#dc311e"/>
<circle cx="883.88" cy="138.3" r="2.0" fill="#dc311e"/>
<circle cx="888.27" cy="134.54" r="2.0" fill="#dc311e"/>
<circle cx="871.35" cy="143.94" r="2.0" fill="#dc311e"/>
<circle cx="902.69" cy="147.08" r="2.0" fill="#dc311e"/>
<circle cx="883.26" cy="152.09" r="2.0" fill="#dc311e"/>
<circle cx="883.26" cy="158.99" r="2.0" fill="#dc311e"/>
<circle cx="882.63" cy="167.76" r="2.0" fill="#dc311e"/>
<circle cx="897.05" cy="156.48" r="2.0" fill="#dc311e"/>
<circle cx="899.56" cy="162.75" r="2.0" fill="#dc311e"/>
<circle cx="900.81" cy="172.78" r="2.0" fill="#dc311e"/>
<circle cx="898.93" cy="176.54" r="2.0" fill="#dc311e"/>
<circle cx="891.41" cy="180.93" r="2.0" fill="#dc311e"/>
<circle cx="902.69" cy="184.69" r="2.0" fill="#dc311e"/>
<circle cx="903.94" cy="185.32" r="2.0" fill="#dc311e"/>
<circle cx="895.17" cy="186.57" r="2.0" fill="#dc311e"/>
<circle cx="850.03" cy="187.2" r="2.0" fill="#dc311e"/>
<circle cx="855.67" cy="187.2" r="2.0" fill="#dc311e"/>
<circle cx="864.45" cy="183.44" r="2.0" fill="#dc311e"/>
<circle cx="866.33" cy="187.2" r="2.0" fill="#dc311e"/>
<circle cx="873.23" cy="187.2" r="2.0" fill="#dc311e"/>
<circle cx="904.57" cy="58.06" r="2.0" fill="#dc311e"/>
<circle cx="866.33" cy="94.42" r="2.0" fill="#dc311e"/>
<circle cx="869.47" cy="91.91" r="2.0" fill="#dc311e"/>
<circle cx="874.23" cy="87.67" r="2.0" fill="#dc311e"/>
<circle cx="874.4" cy="87.6" r="2.0" fill="#dc311e"/>
<circle cx="875.1" cy="87.93" r="2.0" fill="#dc311e"/>
<circle cx="875.38" cy="85.79" r="2.0" fill="#dc311e"/>
<circle cx="875.82" cy="87.95" r="2.0" fill="#dc311e"/>
<circle cx="875.91" cy="85.74" r="2.0" fill="#dc311e"/>
<circle cx="876.1" cy="84.99" r="2.0" fill="#dc311e"/>
<circle cx="876.65" cy="84.13" r="2.0" fill="#dc311e"/>
<circle cx="877.12" cy="84" r="2.0" fill="#dc311e"/>
<circle cx="878.31" cy="83.29" r="2.0" fill="#dc311e"/>
<circle cx="878.45" cy="85.14" r="2.0" fill="#dc311e"/>
<circle cx="879.22" cy="82.82" r="2.0" fill="#dc311e"/>
<circle cx="879.16" cy="84.57" r="2.0" fill="#dc311e"/>
<circle cx="879.41" cy="81.72" r="2.0" fill="#dc311e"/>
<circle cx="879.95" cy="82.13" r="2.0" fill="#dc311e"/>
<circle cx="880.43" cy="80.64" r="2.0" fill="#dc311e"/>
<circle cx="880.99" cy="81.93" r="2.0" fill="#dc311e"/>
<circle cx="881.77" cy="80.98" r="2.0" fill="#dc311e"/>
<circle cx="882.21" cy="79.53" r="2.0" fill="#dc311e"/>
<circle cx="882.77" cy="81.31" r="2.0" fill="#dc311e"/>
<circle cx="882.83" cy="79" r="2.0" fill="#dc311e"/>
<circle cx="883.53" cy="78.19" r="2.0" fill="#dc311e"/>
<circle cx="883.56" cy="77.98" r="2.0" fill="#dc311e"/>
<circle cx="883.85" cy="77.28" r="2.0" fill="#dc311e"/>
<circle cx="884.36" cy="77.23" r="2.0" fill="#dc311e"/>
<circle cx="885.59" cy="77.23" r="2.0" fill="#dc311e"/>
<circle cx="885.42" cy="76.63" r="2.0" fill="#dc311e"/>
<circle cx="885.74" cy="78.26" r="2.0" fill="#dc311e"/>
<circle cx="886.54" cy="75.74" r="2.0" fill="#dc311e"/>
<circle cx="886.63" cy="75.3" r="2.0" fill="#dc311e"/>
<circle cx="887.81" cy="74.52" r="2.0" fill="#dc311e"/>
<circle cx="888.39" cy="74.61" r="2.0" fill="#dc311e"/>
<circle cx="888.43" cy="73.58" r="2.0" fill="#dc311e"/>
<circle cx="889.32" cy="75.24" r="2.0" fill="#dc311e"/>
<circle cx="889.06" cy="73.17" r="2.0" fill="#dc311e"/>
<circle cx="890.03" cy="73.68" r="2.0" fill="#dc311e"/>
<circle cx="890.04" cy="72.46" r="2.0" fill="#dc311e"/>
<circle cx="891.15" cy="73.74" r="2.0" fill="#dc311e"/>
<circle cx="891.43" cy="72.08" r="2.0" fill="#dc311e"/>
<circle cx="891.59" cy="70.95" r="2.0" fill="#dc311e"/>
<circle cx="891.55" cy="70.6" r="2.0" fill="#dc311e"/>
<circle cx="892.67" cy="71.6" r="2.0" fill="#dc311e"/>
<circle cx="893.37" cy="72.34" r="2.0" fill="#dc311e"/>
<circle cx="893.25" cy="69.24" r="2.0" fill="#dc311e"/>
<circle cx="893.54" cy="68.98" r="2.0" fill="#dc311e"/>
<circle cx="894.7" cy="69.76" r="2.0" fill="#dc311e"/>
<circle cx="894.9" cy="68.57" r="2.0" fill="#dc311e"/>
<circle cx="895.36" cy="69.67" r="2.0" fill="#dc311e"/>
<circle cx="895.91" cy="67.47" r="2.0" fill="#dc311e"/>
<circle cx="896.4" cy="67.32" r="2.0" fill="#dc311e"/>
<circle cx="897.04" cy="66.72" r="2.0" fill="#dc311e"/>
<circle cx="897.47" cy="66.53" r="2.0" fill="#dc311e"/>
<circle cx="897.1" cy="65.61" r="2.0" fill="#dc311e"/>
<circle cx="898.24" cy="65.15" r="2.0" fill="#dc311e"/>
<circle cx="898.87" cy="65.45" r="2.0" fill="#dc311e"/>
<circle cx="898.89" cy="64.04" r="2.0" fill="#dc311e"/>
<circle cx="899.76" cy="64.85" r="2.0" fill="#dc311e"/>
<circle cx="900.18" cy="64.31" r="2.0" fill="#dc311e"/>
<circle cx="900.53" cy="62.97" r="2.0" fill="#dc311e"/>
<circle cx="900.45" cy="62.78" r="2.0" fill="#dc311e"/>
<circle cx="900.87" cy="62.34" r="2.0" fill="#dc311e"/>
<circle cx="901.97" cy="62.09" r="2.0" fill="#dc311e"/>
<circle cx="902.1" cy="62.67" r="2.0" fill="#dc311e"/>
<circle cx="902.89" cy="61.62" r="2.0" fill="#dc311e"/>
<circle cx="902.95" cy="60.19" r="2.0" fill="#dc311e"/>
<circle cx="903.06" cy="59.74" r="2.0" fill="#dc311e"/>
<circle cx="903.51" cy="60.51" r="2.0" fill="#dc311e"/>
<circle cx="904.35" cy="59.57" r="2.0" fill="#dc311e"/>
<circle cx="904.8" cy="59.4" r="2.0" fill="#dc311e"/>
<circle cx="905.26" cy="58.44" r="2.0" fill="#dc311e"/>
<circle cx="888.84" cy="80.71" r="2.0" fill="#dc311e"/>
<circle cx="886.46" cy="83.24" r="2.0" fill="#dc311e"/>
<circle cx="890.42" cy="80.06" r="2.0" fill="#dc311e"/>
<circle cx="887.03" cy="80.68" r="2.0" fill="#dc311e"/>
<circle cx="885.9" cy="82.56" r="2.0" fill="#dc311e"/>
<circle cx="885.23" cy="80.96" r="2.0" fill="#dc311e"/>
<circle cx="885.52" cy="85.06" r="2.0" fill="#dc311e"/>
<circle cx="888.01" cy="84.4" r="2.0" fill="#dc311e"/>
<circle cx="890.75" cy="78.22" r="2.0" fill="#dc311e"/>
<circle cx="886.44" cy="85.07" r="2.0" fill="#dc311e"/>
<circle cx="889.6" cy="76.99" r="2.0" fill="#dc311e"/>
<circle cx="881.49" cy="80.05" r="2.0" fill="#dc311e"/>
<circle cx="880.94" cy="78.03" r="2.0" fill="#dc311e"/>
<circle cx="880.95" cy="82.33" r="2.0" fill="#dc311e"/>
<circle cx="888.97" cy="84.61" r="2.0" fill="#dc311e"/>
<circle cx="881.87" cy="82.8" r="2.0" fill="#dc311e"/>
<circle cx="887.57" cy="77.05" r="2.0" fill="#dc311e"/>
<circle cx="890.08" cy="85.32" r="2.0" fill="#dc311e"/>
<circle cx="882.6" cy="85.17" r="2.0" fill="#dc311e"/>
<circle cx="884.62" cy="80.5" r="2.0" fill="#dc311e"/>
<circle cx="891.29" cy="83.96" r="2.0" fill="#dc311e"/>
<circle cx="881.94" cy="79.94" r="2.0" fill="#dc311e"/>
<circle cx="885.94" cy="79.01" r="2.0" fill="#dc311e"/>
<circle cx="882.33" cy="78.81" r="2.0" fill="#dc311e"/>
<circle cx="888.27" cy="75.81" r="2.0" fill="#dc311e"/>
<rect x="758.1" y="39.7" width="162.3" height="161.9" fill="none" stroke="#000" stroke-width="1.5"/>
<line x1="811.93" y1="39.7" x2="811.93" y2="201.6" stroke="#000" stroke-width="1.3"/>
<line x1="752.1" y1="147.47" x2="920.4" y2="147.47" stroke="#000" stroke-width="1.3"/>
<line x1="753.1" y1="187.5" x2="758.1" y2="187.5" stroke="#000" stroke-width="1.3"/>
<text x="753.1" y="193" font-size="16.5" text-anchor="end">0</text>
<line x1="770.4" y1="201.6" x2="770.4" y2="206.6" stroke="#000" stroke-width="1.3"/>
<text x="770.4" y="222.6" font-size="16.5" text-anchor="middle">0</text>
<line x1="753.1" y1="147.47" x2="758.1" y2="147.47" stroke="#000" stroke-width="1.3"/>
<text x="753.1" y="152.97" font-size="16.5" text-anchor="end">1</text>
<line x1="811.93" y1="201.6" x2="811.93" y2="206.6" stroke="#000" stroke-width="1.3"/>
<text x="811.93" y="222.6" font-size="16.5" text-anchor="middle">1</text>
<line x1="753.1" y1="107.43" x2="758.1" y2="107.43" stroke="#000" stroke-width="1.3"/>
<text x="753.1" y="112.93" font-size="16.5" text-anchor="end">2</text>
<line x1="853.47" y1="201.6" x2="853.47" y2="206.6" stroke="#000" stroke-width="1.3"/>
<text x="853.47" y="222.6" font-size="16.5" text-anchor="middle">2</text>
<line x1="753.1" y1="67.4" x2="758.1" y2="67.4" stroke="#000" stroke-width="1.3"/>
<text x="753.1" y="72.9" font-size="16.5" text-anchor="end">3</text>
<line x1="895" y1="201.6" x2="895" y2="206.6" stroke="#000" stroke-width="1.3"/>
<text x="895" y="222.6" font-size="16.5" text-anchor="middle">3</text>
<text x="839.25" y="243.5" font-size="15" text-anchor="middle">Wuhan RBD IgG</text>
<text x="844.6" y="19" font-size="16.3" text-anchor="middle">Wu/BA.1biv (vii)</text>
<text x="835.7" y="31" font-size="11.5" text-anchor="middle">n<tspan font-size="7" dy="3">MBC</tspan><tspan dy="-3">=296 (</tspan><tspan fill="#e6503a">ACE2<tspan font-size="7.5" dy="3">inh</tspan><tspan dy="-3">=136</tspan></tspan>)</text>
<text x="762.1" y="52.5" font-size="11.2" xml:space="preserve">0% (<tspan fill="#e6503a">0%</tspan>)</text>
<text x="814.93" y="52.5" font-size="11.2">78% (<tspan fill="#e6503a">ACE2<tspan font-size="8" dy="3">inh</tspan><tspan dy="-3">: 86%</tspan></tspan>)</text>
<text x="814.93" y="198.5" font-size="11.2">22% (<tspan fill="#e6503a">ACE2<tspan font-size="8" dy="3">inh</tspan><tspan dy="-3">: 14%</tspan></tspan>)</text>
<text transform="translate(732.1,120.65) rotate(-90)" font-size="15" text-anchor="middle">Omicron BA.1 RBD IgG</text>
<circle cx="960.31" cy="177.79" r="1.8" fill="#74c9ec"/>
<circle cx="966.58" cy="176.54" r="1.8" fill="#74c9ec"/>
<circle cx="969.72" cy="180.93" r="1.8" fill="#74c9ec"/>
<circle cx="969.09" cy="186.57" r="1.8" fill="#74c9ec"/>
<circle cx="974.11" cy="177.17" r="1.8" fill="#74c9ec"/>
<circle cx="975.36" cy="185.94" r="1.8" fill="#74c9ec"/>
<circle cx="981" cy="185.94" r="1.8" fill="#74c9ec"/>
<circle cx="971.6" cy="171.53" r="1.8" fill="#74c9ec"/>
<circle cx="976.61" cy="161.5" r="1.8" fill="#74c9ec"/>
<circle cx="979.12" cy="160.87" r="1.8" fill="#74c9ec"/>
<circle cx="982.25" cy="160.87" r="1.8" fill="#74c9ec"/>
<circle cx="985.39" cy="167.76" r="1.8" fill="#74c9ec"/>
<circle cx="985.39" cy="172.15" r="1.8" fill="#74c9ec"/>
<circle cx="990.4" cy="162.75" r="1.8" fill="#74c9ec"/>
<circle cx="992.91" cy="158.99" r="1.8" fill="#74c9ec"/>
<circle cx="995.42" cy="150.84" r="1.8" fill="#74c9ec"/>
<circle cx="1002.31" cy="154.6" r="1.8" fill="#74c9ec"/>
<circle cx="1002.94" cy="170.9" r="1.8" fill="#74c9ec"/>
<circle cx="1012.97" cy="156.48" r="1.8" fill="#74c9ec"/>
<circle cx="1021.12" cy="159.61" r="1.8" fill="#74c9ec"/>
<circle cx="1017.99" cy="182.18" r="1.8" fill="#74c9ec"/>
<circle cx="1024.26" cy="169.64" r="1.8" fill="#74c9ec"/>
<circle cx="1031.15" cy="175.91" r="1.8" fill="#74c9ec"/>
<circle cx="1034.29" cy="187.2" r="1.8" fill="#74c9ec"/>
<circle cx="1044.94" cy="172.78" r="1.8" fill="#74c9ec"/>
<circle cx="1055.6" cy="162.12" r="1.8" fill="#74c9ec"/>
<circle cx="1062.5" cy="175.29" r="1.8" fill="#74c9ec"/>
<circle cx="1064.38" cy="182.18" r="1.8" fill="#74c9ec"/>
<circle cx="1078.17" cy="187.2" r="1.8" fill="#74c9ec"/>
<circle cx="1027.39" cy="137.67" r="1.8" fill="#74c9ec"/>
<circle cx="1033.03" cy="132.66" r="1.8" fill="#74c9ec"/>
<circle cx="1041.81" cy="132.66" r="1.8" fill="#74c9ec"/>
<circle cx="1046.82" cy="128.27" r="1.8" fill="#74c9ec"/>
<circle cx="1045.57" cy="140.18" r="1.8" fill="#74c9ec"/>
<circle cx="1051.84" cy="143.32" r="1.8" fill="#74c9ec"/>
<circle cx="1076.91" cy="142.69" r="1.8" fill="#74c9ec"/>
<circle cx="1073.15" cy="124.51" r="1.8" fill="#74c9ec"/>
<circle cx="1069.39" cy="113.85" r="1.8" fill="#74c9ec"/>
<circle cx="1070.02" cy="117.61" r="1.8" fill="#74c9ec"/>
<circle cx="1059.99" cy="108.21" r="1.8" fill="#74c9ec"/>
<circle cx="1063.75" cy="106.33" r="1.8" fill="#74c9ec"/>
<circle cx="1063.75" cy="88.78" r="1.8" fill="#74c9ec"/>
<circle cx="1080.68" cy="101.31" r="1.8" fill="#74c9ec"/>
<circle cx="1080.68" cy="74.99" r="1.8" fill="#74c9ec"/>
<circle cx="1034.29" cy="100.69" r="1.8" fill="#74c9ec"/>
<circle cx="1038.05" cy="115.73" r="1.8" fill="#74c9ec"/>
<circle cx="1014.23" cy="123.26" r="1.8" fill="#74c9ec"/>
<circle cx="1014.23" cy="121.38" r="1.8" fill="#74c9ec"/>
<circle cx="979.75" cy="162.12" r="1.8" fill="#74c9ec"/>
<circle cx="1001.69" cy="172.78" r="1.8" fill="#74c9ec"/>
<circle cx="1036.79" cy="116.99" r="1.8" fill="#74c9ec"/>
<circle cx="958.42" cy="185.55" r="1.8" fill="#74c9ec"/>
<circle cx="952.37" cy="185.19" r="1.8" fill="#74c9ec"/>
<circle cx="959.2" cy="185.8" r="1.8" fill="#74c9ec"/>
<circle cx="952.89" cy="187.4" r="1.8" fill="#74c9ec"/>
<circle cx="961.06" cy="187.35" r="1.8" fill="#74c9ec"/>
<circle cx="953.35" cy="184.96" r="1.8" fill="#74c9ec"/>
<circle cx="952.61" cy="186.7" r="1.8" fill="#74c9ec"/>
<circle cx="955.22" cy="184.5" r="1.8" fill="#74c9ec"/>
<circle cx="956.93" cy="187.15" r="1.8" fill="#74c9ec"/>
<circle cx="961.41" cy="184.94" r="1.8" fill="#74c9ec"/>
<circle cx="953.85" cy="187.17" r="1.8" fill="#74c9ec"/>
<circle cx="958.6" cy="186.43" r="1.8" fill="#74c9ec"/>
<circle cx="953.17" cy="184.26" r="1.8" fill="#74c9ec"/>
<circle cx="959.93" cy="185.5" r="1.8" fill="#74c9ec"/>
<circle cx="952.98" cy="187.24" r="1.8" fill="#74c9ec"/>
<circle cx="959.32" cy="186.78" r="1.8" fill="#74c9ec"/>
<circle cx="953.11" cy="186.96" r="1.8" fill="#74c9ec"/>
<circle cx="952.92" cy="186.98" r="1.8" fill="#74c9ec"/>
<circle cx="957.28" cy="185.21" r="1.8" fill="#74c9ec"/>
<circle cx="958.41" cy="187.2" r="1.8" fill="#74c9ec"/>
<circle cx="955.19" cy="184.5" r="1.8" fill="#74c9ec"/>
<circle cx="958.11" cy="184.87" r="1.8" fill="#74c9ec"/>
<circle cx="1000.06" cy="137.67" r="2.0" fill="#dc311e"/>
<circle cx="1011.09" cy="136.8" r="2.0" fill="#dc311e"/>
<circle cx="1021.75" cy="125.76" r="2.0" fill="#dc311e"/>
<circle cx="1025.51" cy="119.49" r="2.0" fill="#dc311e"/>
<circle cx="1043.06" cy="107.58" r="2.0" fill="#dc311e"/>
<circle cx="1053.72" cy="100.69" r="2.0" fill="#dc311e"/>
<circle cx="1056.85" cy="98.81" r="2.0" fill="#dc311e"/>
<circle cx="1071.9" cy="94.42" r="2.0" fill="#dc311e"/>
<circle cx="1075.66" cy="86.9" r="2.0" fill="#dc311e"/>
<circle cx="1077.54" cy="99.43" r="2.0" fill="#dc311e"/>
<circle cx="1078.17" cy="106.96" r="2.0" fill="#dc311e"/>
<circle cx="1078.17" cy="110.09" r="2.0" fill="#dc311e"/>
<circle cx="1080.68" cy="79.37" r="2.0" fill="#dc311e"/>
<circle cx="1082.56" cy="71.22" r="2.0" fill="#dc311e"/>
<circle cx="1080.05" cy="65.58" r="2.0" fill="#dc311e"/>
<circle cx="1069.39" cy="109.46" r="2.0" fill="#dc311e"/>
<circle cx="1063.75" cy="120.12" r="2.0" fill="#dc311e"/>
<circle cx="1058.73" cy="126.39" r="2.0" fill="#dc311e"/>
<circle cx="1062.5" cy="128.9" r="2.0" fill="#dc311e"/>
<circle cx="1070.02" cy="127.64" r="2.0" fill="#dc311e"/>
<circle cx="1059.36" cy="149.58" r="2.0" fill="#dc311e"/>
<circle cx="1063.75" cy="148.96" r="2.0" fill="#dc311e"/>
<circle cx="1074.41" cy="151.47" r="2.0" fill="#dc311e"/>
<circle cx="1076.91" cy="145.82" r="2.0" fill="#dc311e"/>
<circle cx="1080.68" cy="152.09" r="2.0" fill="#dc311e"/>
<circle cx="1059.99" cy="158.99" r="2.0" fill="#dc311e"/>
<circle cx="1064.38" cy="165.88" r="2.0" fill="#dc311e"/>
<circle cx="1065.63" cy="172.15" r="2.0" fill="#dc311e"/>
<circle cx="1066.88" cy="173.41" r="2.0" fill="#dc311e"/>
<circle cx="1071.9" cy="176.54" r="2.0" fill="#dc311e"/>
<circle cx="1077.54" cy="174.66" r="2.0" fill="#dc311e"/>
<circle cx="1039.3" cy="159.61" r="2.0" fill="#dc311e"/>
<circle cx="1076.29" cy="182.81" r="2.0" fill="#dc311e"/>
<circle cx="1068.76" cy="183.44" r="2.0" fill="#dc311e"/>
<circle cx="1059.99" cy="184.06" r="2.0" fill="#dc311e"/>
<circle cx="1059.99" cy="185.94" r="2.0" fill="#dc311e"/>
<circle cx="1044.94" cy="186.57" r="2.0" fill="#dc311e"/>
<circle cx="1083.18" cy="185.94" r="2.0" fill="#dc311e"/>
<circle cx="1084.44" cy="186.57" r="2.0" fill="#dc311e"/>
<circle cx="1028.02" cy="120.12" r="2.0" fill="#dc311e"/>
<circle cx="1079.42" cy="148.33" r="2.0" fill="#dc311e"/>
<circle cx="1018.85" cy="124.71" r="2.0" fill="#dc311e"/>
<circle cx="1019.71" cy="124.37" r="2.0" fill="#dc311e"/>
<circle cx="1021.04" cy="123.73" r="2.0" fill="#dc311e"/>
<circle cx="1021.23" cy="122.68" r="2.0" fill="#dc311e"/>
<circle cx="1022.07" cy="121.57" r="2.0" fill="#dc311e"/>
<circle cx="1023.14" cy="121.23" r="2.0" fill="#dc311e"/>
<circle cx="1024.29" cy="120.38" r="2.0" fill="#dc311e"/>
<circle cx="1024.56" cy="120.93" r="2.0" fill="#dc311e"/>
<circle cx="1025.29" cy="120.03" r="2.0" fill="#dc311e"/>
<circle cx="1026.65" cy="118.93" r="2.0" fill="#dc311e"/>
<circle cx="1027.15" cy="118.45" r="2.0" fill="#dc311e"/>
<circle cx="1027.55" cy="116.38" r="2.0" fill="#dc311e"/>
<circle cx="1028.05" cy="116.89" r="2.0" fill="#dc311e"/>
<circle cx="1028.91" cy="115.1" r="2.0" fill="#dc311e"/>
<circle cx="1030.39" cy="115.32" r="2.0" fill="#dc311e"/>
<circle cx="1030.53" cy="114.01" r="2.0" fill="#dc311e"/>
<circle cx="1031.21" cy="113.39" r="2.0" fill="#dc311e"/>
<circle cx="1032.79" cy="114.33" r="2.0" fill="#dc311e"/>
<circle cx="1032.84" cy="112.96" r="2.0" fill="#dc311e"/>
<circle cx="1033.72" cy="110.34" r="2.0" fill="#dc311e"/>
<circle cx="1034.61" cy="110.42" r="2.0" fill="#dc311e"/>
<circle cx="1035.41" cy="108.85" r="2.0" fill="#dc311e"/>
<circle cx="1035.76" cy="108.59" r="2.0" fill="#dc311e"/>
<circle cx="1036.47" cy="107.88" r="2.0" fill="#dc311e"/>
<circle cx="1037.8" cy="108.25" r="2.0" fill="#dc311e"/>
<circle cx="1038.64" cy="108.33" r="2.0" fill="#dc311e"/>
<circle cx="1039.14" cy="106.33" r="2.0" fill="#dc311e"/>
<circle cx="1039.67" cy="106.41" r="2.0" fill="#dc311e"/>
<circle cx="1040.34" cy="106.53" r="2.0" fill="#dc311e"/>
<circle cx="1041.69" cy="105.28" r="2.0" fill="#dc311e"/>
<circle cx="1041.97" cy="103.42" r="2.0" fill="#dc311e"/>
<circle cx="1043.44" cy="104.05" r="2.0" fill="#dc311e"/>
<circle cx="1043.96" cy="103.25" r="2.0" fill="#dc311e"/>
<circle cx="1044.84" cy="100.17" r="2.0" fill="#dc311e"/>
<circle cx="1045.04" cy="99.66" r="2.0" fill="#dc311e"/>
<circle cx="1046.52" cy="99.96" r="2.0" fill="#dc311e"/>
<circle cx="1047.08" cy="99.3" r="2.0" fill="#dc311e"/>
<circle cx="1047.22" cy="99.38" r="2.0" fill="#dc311e"/>
<circle cx="1048.49" cy="97.7" r="2.0" fill="#dc311e"/>
<circle cx="1048.82" cy="96.74" r="2.0" fill="#dc311e"/>
<circle cx="1049.6" cy="95.48" r="2.0" fill="#dc311e"/>
<circle cx="1050.5" cy="96.66" r="2.0" fill="#dc311e"/>
<circle cx="1051.56" cy="94.1" r="2.0" fill="#dc311e"/>
<circle cx="1052.52" cy="94.55" r="2.0" fill="#dc311e"/>
<circle cx="1053.25" cy="91.81" r="2.0" fill="#dc311e"/>
<circle cx="1053.63" cy="92.38" r="2.0" fill="#dc311e"/>
<circle cx="1054.72" cy="90.21" r="2.0" fill="#dc311e"/>
<circle cx="1055.19" cy="91.43" r="2.0" fill="#dc311e"/>
<circle cx="1056.36" cy="89.43" r="2.0" fill="#dc311e"/>
<circle cx="1056.92" cy="88.63" r="2.0" fill="#dc311e"/>
<circle cx="1058.12" cy="87.95" r="2.0" fill="#dc311e"/>
<circle cx="1058.93" cy="86.51" r="2.0" fill="#dc311e"/>
<circle cx="1059.59" cy="87.96" r="2.0" fill="#dc311e"/>
<circle cx="1059.8" cy="85.74" r="2.0" fill="#dc311e"/>
<circle cx="1060.52" cy="85.1" r="2.0" fill="#dc311e"/>
<circle cx="1061.6" cy="84.89" r="2.0" fill="#dc311e"/>
<circle cx="1062.67" cy="84.5" r="2.0" fill="#dc311e"/>
<circle cx="1063.32" cy="82.8" r="2.0" fill="#dc311e"/>
<circle cx="1063.87" cy="81.28" r="2.0" fill="#dc311e"/>
<circle cx="1064.65" cy="81.37" r="2.0" fill="#dc311e"/>
<circle cx="1065.06" cy="80.43" r="2.0" fill="#dc311e"/>
<circle cx="1066.53" cy="79.01" r="2.0" fill="#dc311e"/>
<circle cx="1067.3" cy="78.69" r="2.0" fill="#dc311e"/>
<circle cx="1067.95" cy="79.22" r="2.0" fill="#dc311e"/>
<circle cx="1068.37" cy="78.25" r="2.0" fill="#dc311e"/>
<circle cx="1069.36" cy="76.84" r="2.0" fill="#dc311e"/>
<circle cx="1069.82" cy="75.35" r="2.0" fill="#dc311e"/>
<circle cx="1071.15" cy="75.56" r="2.0" fill="#dc311e"/>
<circle cx="1071.33" cy="74.45" r="2.0" fill="#dc311e"/>
<circle cx="1072.04" cy="74.4" r="2.0" fill="#dc311e"/>
<circle cx="1073.51" cy="74.56" r="2.0" fill="#dc311e"/>
<circle cx="1074.31" cy="73.97" r="2.0" fill="#dc311e"/>
<circle cx="1074.88" cy="70.96" r="2.0" fill="#dc311e"/>
<circle cx="1075.38" cy="72.18" r="2.0" fill="#dc311e"/>
<circle cx="1075.99" cy="69.49" r="2.0" fill="#dc311e"/>
<circle cx="1076.6" cy="69.53" r="2.0" fill="#dc311e"/>
<circle cx="1077.54" cy="70.55" r="2.0" fill="#dc311e"/>
<circle cx="1078.27" cy="68.33" r="2.0" fill="#dc311e"/>
<circle cx="1079.34" cy="66.95" r="2.0" fill="#dc311e"/>
<circle cx="1079.71" cy="66.31" r="2.0" fill="#dc311e"/>
<circle cx="1069.99" cy="74.06" r="2.0" fill="#dc311e"/>
<circle cx="1074.6" cy="81.85" r="2.0" fill="#dc311e"/>
<circle cx="1069.45" cy="73.25" r="2.0" fill="#dc311e"/>
<circle cx="1066.55" cy="72.76" r="2.0" fill="#dc311e"/>
<circle cx="1068.23" cy="72.77" r="2.0" fill="#dc311e"/>
<circle cx="1067.07" cy="74.44" r="2.0" fill="#dc311e"/>
<circle cx="1070.8" cy="80.75" r="2.0" fill="#dc311e"/>
<circle cx="1072.84" cy="75.99" r="2.0" fill="#dc311e"/>
<circle cx="1069.05" cy="77.11" r="2.0" fill="#dc311e"/>
<circle cx="1068.63" cy="75.24" r="2.0" fill="#dc311e"/>
<circle cx="1065.08" cy="74.64" r="2.0" fill="#dc311e"/>
<circle cx="1075.3" cy="73.11" r="2.0" fill="#dc311e"/>
<circle cx="1070.06" cy="78.17" r="2.0" fill="#dc311e"/>
<circle cx="1074.11" cy="74.02" r="2.0" fill="#dc311e"/>
<circle cx="1067.43" cy="74.34" r="2.0" fill="#dc311e"/>
<rect x="941.2" y="39.7" width="162.2" height="161.9" fill="none" stroke="#000" stroke-width="1.5"/>
<line x1="995.27" y1="39.7" x2="995.27" y2="201.6" stroke="#000" stroke-width="1.3"/>
<line x1="935.2" y1="147.47" x2="1103.4" y2="147.47" stroke="#000" stroke-width="1.3"/>
<line x1="936.2" y1="187.5" x2="941.2" y2="187.5" stroke="#000" stroke-width="1.3"/>
<line x1="953.9" y1="201.6" x2="953.9" y2="206.6" stroke="#000" stroke-width="1.3"/>
<text x="953.9" y="222.6" font-size="16.5" text-anchor="middle">0</text>
<line x1="936.2" y1="147.47" x2="941.2" y2="147.47" stroke="#000" stroke-width="1.3"/>
<line x1="995.27" y1="201.6" x2="995.27" y2="206.6" stroke="#000" stroke-width="1.3"/>
<text x="995.27" y="222.6" font-size="16.5" text-anchor="middle">1</text>
<line x1="936.2" y1="107.43" x2="941.2" y2="107.43" stroke="#000" stroke-width="1.3"/>
<line x1="1036.63" y1="201.6" x2="1036.63" y2="206.6" stroke="#000" stroke-width="1.3"/>
<text x="1036.63" y="222.6" font-size="16.5" text-anchor="middle">2</text>
<line x1="936.2" y1="67.4" x2="941.2" y2="67.4" stroke="#000" stroke-width="1.3"/>
<line x1="1078" y1="201.6" x2="1078" y2="206.6" stroke="#000" stroke-width="1.3"/>
<text x="1078" y="222.6" font-size="16.5" text-anchor="middle">3</text>
<text x="1022.3" y="243.5" font-size="15" text-anchor="middle">Wuhan RBD IgG</text>
<text x="1027.3" y="19" font-size="16.3" text-anchor="middle">Om.BT+biv (viii)</text>
<text x="1024.3" y="31" font-size="11.5" text-anchor="middle">n<tspan font-size="7" dy="3">MBC</tspan><tspan dy="-3">=254 (</tspan><tspan fill="#e6503a">ACE2<tspan font-size="7.5" dy="3">inh</tspan><tspan dy="-3">=148</tspan></tspan>)</text>
<text x="943.7" y="53.5" font-size="13.2" xml:space="preserve">0% (<tspan fill="#e6503a">0%</tspan>)</text>
<text x="998.27" y="52.5" font-size="11.2">82% (<tspan fill="#e6503a">ACE2<tspan font-size="8" dy="3">inh</tspan><tspan dy="-3">: 86%</tspan></tspan>)</text>
<text x="998.27" y="198.5" font-size="11.2">18% (<tspan fill="#e6503a">ACE2<tspan font-size="8" dy="3">inh</tspan><tspan dy="-3">: 14%</tspan></tspan>)</text>
<circle cx="1201.81" cy="172.78" r="1.8" fill="#74c9ec"/>
<circle cx="1208.08" cy="175.91" r="1.8" fill="#74c9ec"/>
<circle cx="1210.58" cy="173.41" r="1.8" fill="#74c9ec"/>
<circle cx="1213.09" cy="174.66" r="1.8" fill="#74c9ec"/>
<circle cx="1214.34" cy="172.78" r="1.8" fill="#74c9ec"/>
<circle cx="1220.61" cy="174.03" r="1.8" fill="#74c9ec"/>
<circle cx="1221.87" cy="180.3" r="1.8" fill="#74c9ec"/>
<circle cx="1222.49" cy="187.2" r="1.8" fill="#74c9ec"/>
<circle cx="1227.51" cy="187.2" r="1.8" fill="#74c9ec"/>
<circle cx="1224.37" cy="157.73" r="1.8" fill="#74c9ec"/>
<circle cx="1226.88" cy="162.75" r="1.8" fill="#74c9ec"/>
<circle cx="1228.14" cy="168.39" r="1.8" fill="#74c9ec"/>
<circle cx="1230.02" cy="169.64" r="1.8" fill="#74c9ec"/>
<circle cx="1232.52" cy="165.88" r="1.8" fill="#74c9ec"/>
<circle cx="1234.4" cy="162.12" r="1.8" fill="#74c9ec"/>
<circle cx="1235.66" cy="155.85" r="1.8" fill="#74c9ec"/>
<circle cx="1236.91" cy="168.39" r="1.8" fill="#74c9ec"/>
<circle cx="1235.03" cy="175.29" r="1.8" fill="#74c9ec"/>
<circle cx="1237.54" cy="187.2" r="1.8" fill="#74c9ec"/>
<circle cx="1241.93" cy="153.35" r="1.8" fill="#74c9ec"/>
<circle cx="1243.18" cy="157.11" r="1.8" fill="#74c9ec"/>
<circle cx="1244.43" cy="148.96" r="1.8" fill="#74c9ec"/>
<circle cx="1248.2" cy="157.11" r="1.8" fill="#74c9ec"/>
<circle cx="1251.96" cy="162.12" r="1.8" fill="#74c9ec"/>
<circle cx="1258.85" cy="172.15" r="1.8" fill="#74c9ec"/>
<circle cx="1265.75" cy="155.85" r="1.8" fill="#74c9ec"/>
<circle cx="1265.75" cy="165.26" r="1.8" fill="#74c9ec"/>
<circle cx="1270.76" cy="180.93" r="1.8" fill="#74c9ec"/>
<circle cx="1278.29" cy="165.26" r="1.8" fill="#74c9ec"/>
<circle cx="1288.94" cy="176.54" r="1.8" fill="#74c9ec"/>
<circle cx="1299.6" cy="152.72" r="1.8" fill="#74c9ec"/>
<circle cx="1303.36" cy="181.56" r="1.8" fill="#74c9ec"/>
<circle cx="1311.51" cy="180.3" r="1.8" fill="#74c9ec"/>
<circle cx="1323.42" cy="155.85" r="1.8" fill="#74c9ec"/>
<circle cx="1323.42" cy="175.91" r="1.8" fill="#74c9ec"/>
<circle cx="1321.54" cy="180.93" r="1.8" fill="#74c9ec"/>
<circle cx="1331.57" cy="168.39" r="1.8" fill="#74c9ec"/>
<circle cx="1330.32" cy="180.93" r="1.8" fill="#74c9ec"/>
<circle cx="1333.45" cy="187.2" r="1.8" fill="#74c9ec"/>
<circle cx="1254.46" cy="135.17" r="1.8" fill="#74c9ec"/>
<circle cx="1263.24" cy="131.41" r="1.8" fill="#74c9ec"/>
<circle cx="1269.51" cy="130.15" r="1.8" fill="#74c9ec"/>
<circle cx="1270.76" cy="128.27" r="1.8" fill="#74c9ec"/>
<circle cx="1272.02" cy="118.24" r="1.8" fill="#74c9ec"/>
<circle cx="1268.26" cy="143.94" r="1.8" fill="#74c9ec"/>
<circle cx="1281.42" cy="138.3" r="1.8" fill="#74c9ec"/>
<circle cx="1282.67" cy="125.14" r="1.8" fill="#74c9ec"/>
<circle cx="1287.06" cy="130.78" r="1.8" fill="#74c9ec"/>
<circle cx="1289.57" cy="148.96" r="1.8" fill="#74c9ec"/>
<circle cx="1292.7" cy="116.99" r="1.8" fill="#74c9ec"/>
<circle cx="1299.6" cy="118.24" r="1.8" fill="#74c9ec"/>
<circle cx="1301.48" cy="111.97" r="1.8" fill="#74c9ec"/>
<circle cx="1302.11" cy="106.33" r="1.8" fill="#74c9ec"/>
<circle cx="1303.36" cy="103.2" r="1.8" fill="#74c9ec"/>
<circle cx="1304.61" cy="108.21" r="1.8" fill="#74c9ec"/>
<circle cx="1306.5" cy="142.06" r="1.8" fill="#74c9ec"/>
<circle cx="1308.38" cy="136.42" r="1.8" fill="#74c9ec"/>
<circle cx="1309" cy="129.52" r="1.8" fill="#74c9ec"/>
<circle cx="1322.79" cy="142.06" r="1.8" fill="#74c9ec"/>
<circle cx="1329.06" cy="133.29" r="1.8" fill="#74c9ec"/>
<circle cx="1290.82" cy="98.18" r="1.8" fill="#74c9ec"/>
<circle cx="1293.96" cy="105.08" r="1.8" fill="#74c9ec"/>
<circle cx="1303.36" cy="96.93" r="1.8" fill="#74c9ec"/>
<circle cx="1318.41" cy="96.93" r="1.8" fill="#74c9ec"/>
<circle cx="1322.17" cy="88.15" r="1.8" fill="#74c9ec"/>
<circle cx="1327.18" cy="78.75" r="1.8" fill="#74c9ec"/>
<circle cx="1330.94" cy="66.21" r="1.8" fill="#74c9ec"/>
<circle cx="1331.57" cy="58.69" r="1.8" fill="#74c9ec"/>
<circle cx="1269.51" cy="128.27" r="1.8" fill="#74c9ec"/>
<circle cx="1270.76" cy="131.41" r="1.8" fill="#74c9ec"/>
<circle cx="1229.39" cy="167.14" r="1.8" fill="#74c9ec"/>
<circle cx="1231.27" cy="164.63" r="1.8" fill="#74c9ec"/>
<circle cx="1211.21" cy="176.54" r="1.8" fill="#74c9ec"/>
<circle cx="1208.7" cy="177.79" r="1.8" fill="#74c9ec"/>
<circle cx="1202.93" cy="183.14" r="1.8" fill="#74c9ec"/>
<circle cx="1212.31" cy="186.27" r="1.8" fill="#74c9ec"/>
<circle cx="1210.94" cy="179.84" r="1.8" fill="#74c9ec"/>
<circle cx="1196.71" cy="185.19" r="1.8" fill="#74c9ec"/>
<circle cx="1211.32" cy="183.35" r="1.8" fill="#74c9ec"/>
<circle cx="1206.1" cy="179.68" r="1.8" fill="#74c9ec"/>
<circle cx="1202.79" cy="186.88" r="1.8" fill="#74c9ec"/>
<circle cx="1210.14" cy="186.32" r="1.8" fill="#74c9ec"/>
<circle cx="1212.62" cy="181.61" r="1.8" fill="#74c9ec"/>
<circle cx="1198.01" cy="180.88" r="1.8" fill="#74c9ec"/>
<circle cx="1205.01" cy="184.98" r="1.8" fill="#74c9ec"/>
<circle cx="1212.1" cy="185.29" r="1.8" fill="#74c9ec"/>
<circle cx="1207.12" cy="185.62" r="1.8" fill="#74c9ec"/>
<circle cx="1203.91" cy="183.96" r="1.8" fill="#74c9ec"/>
<circle cx="1196.83" cy="185.76" r="1.8" fill="#74c9ec"/>
<circle cx="1200.1" cy="186.83" r="1.8" fill="#74c9ec"/>
<circle cx="1207.09" cy="182.04" r="1.8" fill="#74c9ec"/>
<circle cx="1198.33" cy="181.63" r="1.8" fill="#74c9ec"/>
<circle cx="1206.93" cy="185.11" r="1.8" fill="#74c9ec"/>
<circle cx="1198.06" cy="180.22" r="1.8" fill="#74c9ec"/>
<circle cx="1205.04" cy="184.21" r="1.8" fill="#74c9ec"/>
<circle cx="1202.73" cy="181.41" r="1.8" fill="#74c9ec"/>
<circle cx="1206.34" cy="179.76" r="1.8" fill="#74c9ec"/>
<circle cx="1201.27" cy="183.26" r="1.8" fill="#74c9ec"/>
<circle cx="1212.4" cy="184.69" r="1.8" fill="#74c9ec"/>
<circle cx="1211.12" cy="183.37" r="1.8" fill="#74c9ec"/>
<circle cx="1200.14" cy="181.6" r="1.8" fill="#74c9ec"/>
<circle cx="1212.42" cy="185.15" r="1.8" fill="#74c9ec"/>
<circle cx="1245.69" cy="186.8" r="1.8" fill="#74c9ec"/>
<circle cx="1247.62" cy="186.59" r="1.8" fill="#74c9ec"/>
<circle cx="1249.55" cy="186.95" r="1.8" fill="#74c9ec"/>
<circle cx="1251.47" cy="187.08" r="1.8" fill="#74c9ec"/>
<circle cx="1253.4" cy="186.89" r="1.8" fill="#74c9ec"/>
<circle cx="1255.33" cy="186.76" r="1.8" fill="#74c9ec"/>
<circle cx="1257.26" cy="187.07" r="1.8" fill="#74c9ec"/>
<circle cx="1259.19" cy="187.27" r="1.8" fill="#74c9ec"/>
<circle cx="1261.12" cy="186.74" r="1.8" fill="#74c9ec"/>
<circle cx="1263.05" cy="186.6" r="1.8" fill="#74c9ec"/>
<circle cx="1264.98" cy="186.83" r="1.8" fill="#74c9ec"/>
<circle cx="1266.91" cy="186.89" r="1.8" fill="#74c9ec"/>
<circle cx="1268.83" cy="187.08" r="1.8" fill="#74c9ec"/>
<circle cx="1270.76" cy="186.72" r="1.8" fill="#74c9ec"/>
<circle cx="1292.08" cy="96.93" r="1.8" fill="#74c9ec"/>
<circle cx="1295.84" cy="95.05" r="1.8" fill="#74c9ec"/>
<circle cx="1298.97" cy="98.18" r="1.8" fill="#74c9ec"/>
<circle cx="1301.48" cy="100.69" r="1.8" fill="#74c9ec"/>
<circle cx="1305.24" cy="99.43" r="1.8" fill="#74c9ec"/>
<circle cx="1307.12" cy="96.93" r="1.8" fill="#74c9ec"/>
<circle cx="1309.63" cy="98.18" r="1.8" fill="#74c9ec"/>
<circle cx="1313.39" cy="96.93" r="1.8" fill="#74c9ec"/>
<circle cx="1315.9" cy="95.05" r="1.8" fill="#74c9ec"/>
<circle cx="1319.66" cy="93.17" r="1.8" fill="#74c9ec"/>
<circle cx="1323.42" cy="90.66" r="1.8" fill="#74c9ec"/>
<circle cx="1325.93" cy="87.52" r="1.8" fill="#74c9ec"/>
<circle cx="1324.68" cy="84.39" r="1.8" fill="#74c9ec"/>
<circle cx="1301.48" cy="106.33" r="1.8" fill="#74c9ec"/>
<circle cx="1302.73" cy="108.21" r="1.8" fill="#74c9ec"/>
<circle cx="1303.99" cy="110.09" r="1.8" fill="#74c9ec"/>
<circle cx="1300.23" cy="107.58" r="1.8" fill="#74c9ec"/>
<circle cx="1305.87" cy="106.33" r="1.8" fill="#74c9ec"/>
<circle cx="1310.88" cy="103.2" r="1.8" fill="#74c9ec"/>
<circle cx="1314.64" cy="100.69" r="1.8" fill="#74c9ec"/>
<circle cx="1308.38" cy="108.21" r="1.8" fill="#74c9ec"/>
<circle cx="1317.15" cy="113.23" r="1.8" fill="#74c9ec"/>
<circle cx="1320.91" cy="125.76" r="1.8" fill="#74c9ec"/>
<circle cx="1278.29" cy="129.52" r="2.0" fill="#dc311e"/>
<circle cx="1280.79" cy="106.96" r="2.0" fill="#dc311e"/>
<circle cx="1285.81" cy="103.2" r="2.0" fill="#dc311e"/>
<circle cx="1288.94" cy="106.33" r="2.0" fill="#dc311e"/>
<circle cx="1308.38" cy="95.05" r="2.0" fill="#dc311e"/>
<circle cx="1310.88" cy="90.66" r="2.0" fill="#dc311e"/>
<circle cx="1314.02" cy="93.17" r="2.0" fill="#dc311e"/>
<circle cx="1315.9" cy="92.54" r="2.0" fill="#dc311e"/>
<circle cx="1310.88" cy="99.43" r="2.0" fill="#dc311e"/>
<circle cx="1312.76" cy="100.06" r="2.0" fill="#dc311e"/>
<circle cx="1316.53" cy="103.2" r="2.0" fill="#dc311e"/>
<circle cx="1319.66" cy="81.25" r="2.0" fill="#dc311e"/>
<circle cx="1324.05" cy="90.03" r="2.0" fill="#dc311e"/>
<circle cx="1325.3" cy="91.28" r="2.0" fill="#dc311e"/>
<circle cx="1329.06" cy="81.25" r="2.0" fill="#dc311e"/>
<circle cx="1309.63" cy="112.6" r="2.0" fill="#dc311e"/>
<circle cx="1312.14" cy="113.85" r="2.0" fill="#dc311e"/>
<circle cx="1317.15" cy="116.99" r="2.0" fill="#dc311e"/>
<circle cx="1327.81" cy="118.87" r="2.0" fill="#dc311e"/>
<circle cx="1324.68" cy="128.9" r="2.0" fill="#dc311e"/>
<circle cx="1315.9" cy="136.42" r="2.0" fill="#dc311e"/>
<circle cx="1329.06" cy="136.42" r="2.0" fill="#dc311e"/>
<circle cx="1329.69" cy="138.3" r="2.0" fill="#dc311e"/>
<circle cx="1330.32" cy="139.55" r="2.0" fill="#dc311e"/>
<circle cx="1323.42" cy="148.33" r="2.0" fill="#dc311e"/>
<circle cx="1329.69" cy="148.96" r="2.0" fill="#dc311e"/>
<circle cx="1331.57" cy="153.35" r="2.0" fill="#dc311e"/>
<circle cx="1313.39" cy="156.48" r="2.0" fill="#dc311e"/>
<circle cx="1328.44" cy="158.99" r="2.0" fill="#dc311e"/>
<circle cx="1245.06" cy="175.91" r="2.0" fill="#dc311e"/>
<circle cx="1307.12" cy="174.03" r="2.0" fill="#dc311e"/>
<circle cx="1315.9" cy="170.9" r="2.0" fill="#dc311e"/>
<circle cx="1321.54" cy="170.27" r="2.0" fill="#dc311e"/>
<circle cx="1295.84" cy="93.17" r="2.0" fill="#dc311e"/>
<circle cx="1298.35" cy="91.91" r="2.0" fill="#dc311e"/>
<circle cx="1293.63" cy="98.4" r="2.0" fill="#dc311e"/>
<circle cx="1293.54" cy="98.03" r="2.0" fill="#dc311e"/>
<circle cx="1294.67" cy="95.3" r="2.0" fill="#dc311e"/>
<circle cx="1295.12" cy="95.84" r="2.0" fill="#dc311e"/>
<circle cx="1295.36" cy="94.23" r="2.0" fill="#dc311e"/>
<circle cx="1295.79" cy="96.88" r="2.0" fill="#dc311e"/>
<circle cx="1296.03" cy="93.78" r="2.0" fill="#dc311e"/>
<circle cx="1297.37" cy="92.57" r="2.0" fill="#dc311e"/>
<circle cx="1296.96" cy="93.88" r="2.0" fill="#dc311e"/>
<circle cx="1298.29" cy="95.47" r="2.0" fill="#dc311e"/>
<circle cx="1298.85" cy="91.66" r="2.0" fill="#dc311e"/>
<circle cx="1299.36" cy="91.73" r="2.0" fill="#dc311e"/>
<circle cx="1299.6" cy="91.09" r="2.0" fill="#dc311e"/>
<circle cx="1299.78" cy="89.7" r="2.0" fill="#dc311e"/>
<circle cx="1300.23" cy="90.85" r="2.0" fill="#dc311e"/>
<circle cx="1300.59" cy="90.87" r="2.0" fill="#dc311e"/>
<circle cx="1301.33" cy="92.03" r="2.0" fill="#dc311e"/>
<circle cx="1301.91" cy="87.66" r="2.0" fill="#dc311e"/>
<circle cx="1302.36" cy="89.26" r="2.0" fill="#dc311e"/>
<circle cx="1302.86" cy="88.15" r="2.0" fill="#dc311e"/>
<circle cx="1303.42" cy="89.87" r="2.0" fill="#dc311e"/>
<circle cx="1303.55" cy="85.63" r="2.0" fill="#dc311e"/>
<circle cx="1304.95" cy="86.27" r="2.0" fill="#dc311e"/>
<circle cx="1305.43" cy="85.54" r="2.0" fill="#dc311e"/>
<circle cx="1306" cy="85.8" r="2.0" fill="#dc311e"/>
<circle cx="1306.27" cy="84.52" r="2.0" fill="#dc311e"/>
<circle cx="1306.06" cy="87.17" r="2.0" fill="#dc311e"/>
<circle cx="1307.2" cy="84.36" r="2.0" fill="#dc311e"/>
<circle cx="1307.31" cy="84.79" r="2.0" fill="#dc311e"/>
<circle cx="1308.54" cy="82.75" r="2.0" fill="#dc311e"/>
<circle cx="1308.52" cy="83.87" r="2.0" fill="#dc311e"/>
<circle cx="1308.78" cy="84.45" r="2.0" fill="#dc311e"/>
<circle cx="1309.94" cy="83.43" r="2.0" fill="#dc311e"/>
<circle cx="1309.95" cy="80.78" r="2.0" fill="#dc311e"/>
<circle cx="1310.91" cy="79.5" r="2.0" fill="#dc311e"/>
<circle cx="1311.39" cy="79.3" r="2.0" fill="#dc311e"/>
<circle cx="1311.18" cy="79.98" r="2.0" fill="#dc311e"/>
<circle cx="1312.64" cy="82.8" r="2.0" fill="#dc311e"/>
<circle cx="1312.43" cy="77.55" r="2.0" fill="#dc311e"/>
<circle cx="1313.17" cy="79.35" r="2.0" fill="#dc311e"/>
<circle cx="1313.42" cy="78.14" r="2.0" fill="#dc311e"/>
<circle cx="1314.37" cy="79.7" r="2.0" fill="#dc311e"/>
<circle cx="1314.86" cy="76.06" r="2.0" fill="#dc311e"/>
<circle cx="1315" cy="76.76" r="2.0" fill="#dc311e"/>
<circle cx="1315.96" cy="75.02" r="2.0" fill="#dc311e"/>
<circle cx="1315.97" cy="74.8" r="2.0" fill="#dc311e"/>
<circle cx="1316.81" cy="74.59" r="2.0" fill="#dc311e"/>
<circle cx="1317.74" cy="74.36" r="2.0" fill="#dc311e"/>
<circle cx="1318.06" cy="76.22" r="2.0" fill="#dc311e"/>
<circle cx="1317.86" cy="74.42" r="2.0" fill="#dc311e"/>
<circle cx="1319.11" cy="73.29" r="2.0" fill="#dc311e"/>
<circle cx="1319.07" cy="71.41" r="2.0" fill="#dc311e"/>
<circle cx="1320.26" cy="73.76" r="2.0" fill="#dc311e"/>
<circle cx="1320.17" cy="73.15" r="2.0" fill="#dc311e"/>
<circle cx="1320.56" cy="73.89" r="2.0" fill="#dc311e"/>
<circle cx="1320.92" cy="71.66" r="2.0" fill="#dc311e"/>
<circle cx="1321.54" cy="69.54" r="2.0" fill="#dc311e"/>
<circle cx="1322.03" cy="69.26" r="2.0" fill="#dc311e"/>
<circle cx="1322.99" cy="68.1" r="2.0" fill="#dc311e"/>
<circle cx="1323.18" cy="68.91" r="2.0" fill="#dc311e"/>
<circle cx="1323.67" cy="67.77" r="2.0" fill="#dc311e"/>
<circle cx="1324.41" cy="66.43" r="2.0" fill="#dc311e"/>
<circle cx="1324.77" cy="68.14" r="2.0" fill="#dc311e"/>
<circle cx="1324.97" cy="66.06" r="2.0" fill="#dc311e"/>
<circle cx="1325.8" cy="65.68" r="2.0" fill="#dc311e"/>
<circle cx="1326.86" cy="65.6" r="2.0" fill="#dc311e"/>
<circle cx="1326.77" cy="66.02" r="2.0" fill="#dc311e"/>
<circle cx="1327.92" cy="64.31" r="2.0" fill="#dc311e"/>
<circle cx="1328.16" cy="63.28" r="2.0" fill="#dc311e"/>
<circle cx="1328.84" cy="64.54" r="2.0" fill="#dc311e"/>
<circle cx="1273.27" cy="187.13" r="2.0" fill="#dc311e"/>
<circle cx="1276.61" cy="187.49" r="2.0" fill="#dc311e"/>
<circle cx="1279.96" cy="187.17" r="2.0" fill="#dc311e"/>
<circle cx="1283.3" cy="186.94" r="2.0" fill="#dc311e"/>
<circle cx="1290.82" cy="186.83" r="2.0" fill="#dc311e"/>
<circle cx="1292.95" cy="187.24" r="2.0" fill="#dc311e"/>
<circle cx="1295.09" cy="187.3" r="2.0" fill="#dc311e"/>
<circle cx="1297.22" cy="187.51" r="2.0" fill="#dc311e"/>
<circle cx="1299.35" cy="186.89" r="2.0" fill="#dc311e"/>
<circle cx="1301.48" cy="187.29" r="2.0" fill="#dc311e"/>
<circle cx="1305.87" cy="187.1" r="2.0" fill="#dc311e"/>
<circle cx="1307.25" cy="187.2" r="2.0" fill="#dc311e"/>
<circle cx="1308.64" cy="186.93" r="2.0" fill="#dc311e"/>
<circle cx="1310.03" cy="187.03" r="2.0" fill="#dc311e"/>
<circle cx="1311.41" cy="187.21" r="2.0" fill="#dc311e"/>
<circle cx="1312.8" cy="187.52" r="2.0" fill="#dc311e"/>
<circle cx="1314.18" cy="186.9" r="2.0" fill="#dc311e"/>
<circle cx="1315.57" cy="187.19" r="2.0" fill="#dc311e"/>
<circle cx="1316.95" cy="187.43" r="2.0" fill="#dc311e"/>
<circle cx="1318.34" cy="187.55" r="2.0" fill="#dc311e"/>
<circle cx="1319.73" cy="186.97" r="2.0" fill="#dc311e"/>
<circle cx="1321.11" cy="186.92" r="2.0" fill="#dc311e"/>
<circle cx="1322.5" cy="187.53" r="2.0" fill="#dc311e"/>
<circle cx="1323.88" cy="187.56" r="2.0" fill="#dc311e"/>
<circle cx="1325.27" cy="187.18" r="2.0" fill="#dc311e"/>
<circle cx="1326.65" cy="186.86" r="2.0" fill="#dc311e"/>
<circle cx="1328.04" cy="187.52" r="2.0" fill="#dc311e"/>
<circle cx="1329.43" cy="187.11" r="2.0" fill="#dc311e"/>
<circle cx="1330.81" cy="187.5" r="2.0" fill="#dc311e"/>
<circle cx="1332.2" cy="187.29" r="2.0" fill="#dc311e"/>
<rect x="1185.1" y="39.7" width="162.1" height="161.9" fill="none" stroke="#000" stroke-width="1.5"/>
<line x1="1239.2" y1="39.7" x2="1239.2" y2="201.6" stroke="#000" stroke-width="1.3"/>
<line x1="1179.1" y1="147.47" x2="1347.2" y2="147.47" stroke="#000" stroke-width="1.3"/>
<line x1="1180.1" y1="187.5" x2="1185.1" y2="187.5" stroke="#000" stroke-width="1.3"/>
<text x="1180.1" y="193" font-size="16.5" text-anchor="end">0</text>
<line x1="1197.6" y1="201.6" x2="1197.6" y2="206.6" stroke="#000" stroke-width="1.3"/>
<text x="1197.6" y="222.6" font-size="16.5" text-anchor="middle">0</text>
<line x1="1180.1" y1="147.47" x2="1185.1" y2="147.47" stroke="#000" stroke-width="1.3"/>
<text x="1180.1" y="152.97" font-size="16.5" text-anchor="end">1</text>
<line x1="1239.2" y1="201.6" x2="1239.2" y2="206.6" stroke="#000" stroke-width="1.3"/>
<text x="1239.2" y="222.6" font-size="16.5" text-anchor="middle">1</text>
<line x1="1180.1" y1="107.43" x2="1185.1" y2="107.43" stroke="#000" stroke-width="1.3"/>
<text x="1180.1" y="112.93" font-size="16.5" text-anchor="end">2</text>
<line x1="1280.8" y1="201.6" x2="1280.8" y2="206.6" stroke="#000" stroke-width="1.3"/>
<text x="1280.8" y="222.6" font-size="16.5" text-anchor="middle">2</text>
<line x1="1180.1" y1="67.4" x2="1185.1" y2="67.4" stroke="#000" stroke-width="1.3"/>
<text x="1180.1" y="72.9" font-size="16.5" text-anchor="end">3</text>
<line x1="1322.4" y1="201.6" x2="1322.4" y2="206.6" stroke="#000" stroke-width="1.3"/>
<text x="1322.4" y="222.6" font-size="16.5" text-anchor="middle">3</text>
<text x="1266.15" y="243.5" font-size="15" text-anchor="middle">Wuhan RBD IgG</text>
<text x="1271.5" y="19" font-size="16.3" text-anchor="middle">Wu/BA.1biv (vii)</text>
<text x="1265.6" y="31" font-size="11.5" text-anchor="middle">n<tspan font-size="7" dy="3">MBC</tspan><tspan dy="-3">=296 (</tspan><tspan fill="#e6503a">ACE2<tspan font-size="7.5" dy="3">inh</tspan><tspan dy="-3">=136</tspan></tspan>)</text>
<text x="1189.1" y="52.5" font-size="11.2" xml:space="preserve">0% (<tspan fill="#e6503a">0%</tspan>)</text>
<text x="1242.2" y="52.5" font-size="11.2">63% (<tspan fill="#e6503a">ACE2<tspan font-size="8" dy="3">inh</tspan><tspan dy="-3">: 66%</tspan></tspan>)</text>
<text x="1242.2" y="198.5" font-size="11.2">37% (<tspan fill="#e6503a">ACE2<tspan font-size="8" dy="3">inh</tspan><tspan dy="-3">: 34%</tspan></tspan>)</text>
<text transform="translate(1159.1,120.65) rotate(-90)" font-size="15" text-anchor="middle">Omicron BQ.1.1 RBD IgG</text>
<circle cx="1394.58" cy="178.42" r="1.8" fill="#74c9ec"/>
<circle cx="1398.34" cy="182.81" r="1.8" fill="#74c9ec"/>
<circle cx="1399.6" cy="172.78" r="1.8" fill="#74c9ec"/>
<circle cx="1404.61" cy="179.05" r="1.8" fill="#74c9ec"/>
<circle cx="1407.75" cy="166.51" r="1.8" fill="#74c9ec"/>
<circle cx="1397.09" cy="187.2" r="1.8" fill="#74c9ec"/>
<circle cx="1403.36" cy="187.2" r="1.8" fill="#74c9ec"/>
<circle cx="1408.37" cy="187.2" r="1.8" fill="#74c9ec"/>
<circle cx="1412.14" cy="187.2" r="1.8" fill="#74c9ec"/>
<circle cx="1418.4" cy="187.2" r="1.8" fill="#74c9ec"/>
<circle cx="1420.91" cy="164" r="1.8" fill="#74c9ec"/>
<circle cx="1424.05" cy="150.84" r="1.8" fill="#74c9ec"/>
<circle cx="1430.31" cy="181.56" r="1.8" fill="#74c9ec"/>
<circle cx="1430.94" cy="187.2" r="1.8" fill="#74c9ec"/>
<circle cx="1441.6" cy="177.17" r="1.8" fill="#74c9ec"/>
<circle cx="1445.99" cy="185.32" r="1.8" fill="#74c9ec"/>
<circle cx="1440.97" cy="135.79" r="1.8" fill="#74c9ec"/>
<circle cx="1442.85" cy="127.64" r="1.8" fill="#74c9ec"/>
<circle cx="1449.12" cy="141.44" r="1.8" fill="#74c9ec"/>
<circle cx="1452.88" cy="132.03" r="1.8" fill="#74c9ec"/>
<circle cx="1455.39" cy="139.55" r="1.8" fill="#74c9ec"/>
<circle cx="1462.29" cy="133.91" r="1.8" fill="#74c9ec"/>
<circle cx="1466.05" cy="133.29" r="1.8" fill="#74c9ec"/>
<circle cx="1469.81" cy="133.29" r="1.8" fill="#74c9ec"/>
<circle cx="1473.57" cy="138.93" r="1.8" fill="#74c9ec"/>
<circle cx="1477.33" cy="138.93" r="1.8" fill="#74c9ec"/>
<circle cx="1473.57" cy="118.24" r="1.8" fill="#74c9ec"/>
<circle cx="1476.08" cy="119.49" r="1.8" fill="#74c9ec"/>
<circle cx="1479.21" cy="119.49" r="1.8" fill="#74c9ec"/>
<circle cx="1487.99" cy="121.38" r="1.8" fill="#74c9ec"/>
<circle cx="1479.84" cy="152.72" r="1.8" fill="#74c9ec"/>
<circle cx="1492.38" cy="148.96" r="1.8" fill="#74c9ec"/>
<circle cx="1501.78" cy="148.96" r="1.8" fill="#74c9ec"/>
<circle cx="1498.64" cy="120.12" r="1.8" fill="#74c9ec"/>
<circle cx="1501.15" cy="130.78" r="1.8" fill="#74c9ec"/>
<circle cx="1502.41" cy="129.52" r="1.8" fill="#74c9ec"/>
<circle cx="1504.91" cy="155.85" r="1.8" fill="#74c9ec"/>
<circle cx="1508.05" cy="170.27" r="1.8" fill="#74c9ec"/>
<circle cx="1479.84" cy="89.4" r="1.8" fill="#74c9ec"/>
<circle cx="1509.3" cy="93.79" r="1.8" fill="#74c9ec"/>
<circle cx="1504.29" cy="78.12" r="1.8" fill="#74c9ec"/>
<circle cx="1504.29" cy="73.11" r="1.8" fill="#74c9ec"/>
<circle cx="1475.45" cy="120.75" r="1.8" fill="#74c9ec"/>
<circle cx="1399.6" cy="187.2" r="1.8" fill="#74c9ec"/>
<circle cx="1389.47" cy="186.01" r="1.8" fill="#74c9ec"/>
<circle cx="1389.03" cy="186.14" r="1.8" fill="#74c9ec"/>
<circle cx="1384.73" cy="187.39" r="1.8" fill="#74c9ec"/>
<circle cx="1389.52" cy="186.06" r="1.8" fill="#74c9ec"/>
<circle cx="1382.63" cy="186.49" r="1.8" fill="#74c9ec"/>
<circle cx="1386.01" cy="186.46" r="1.8" fill="#74c9ec"/>
<circle cx="1381.55" cy="186.19" r="1.8" fill="#74c9ec"/>
<circle cx="1388.34" cy="187.49" r="1.8" fill="#74c9ec"/>
<circle cx="1380.63" cy="186.82" r="1.8" fill="#74c9ec"/>
<circle cx="1388.71" cy="185.77" r="1.8" fill="#74c9ec"/>
<circle cx="1389.62" cy="185.93" r="1.8" fill="#74c9ec"/>
<circle cx="1386.93" cy="186.8" r="1.8" fill="#74c9ec"/>
<circle cx="1387.24" cy="186.31" r="1.8" fill="#74c9ec"/>
<circle cx="1384.9" cy="186.86" r="1.8" fill="#74c9ec"/>
<circle cx="1384.97" cy="187.01" r="1.8" fill="#74c9ec"/>
<circle cx="1385.21" cy="186.57" r="1.8" fill="#74c9ec"/>
<circle cx="1428.06" cy="142.69" r="2.0" fill="#dc311e"/>
<circle cx="1439.72" cy="130.78" r="2.0" fill="#dc311e"/>
<circle cx="1447.24" cy="125.76" r="2.0" fill="#dc311e"/>
<circle cx="1450.38" cy="120.75" r="2.0" fill="#dc311e"/>
<circle cx="1453.51" cy="119.49" r="2.0" fill="#dc311e"/>
<circle cx="1464.79" cy="118.24" r="2.0" fill="#dc311e"/>
<circle cx="1466.05" cy="127.64" r="2.0" fill="#dc311e"/>
<circle cx="1470.44" cy="122" r="2.0" fill="#dc311e"/>
<circle cx="1477.96" cy="110.72" r="2.0" fill="#dc311e"/>
<circle cx="1492.38" cy="100.06" r="2.0" fill="#dc311e"/>
<circle cx="1494.88" cy="98.81" r="2.0" fill="#dc311e"/>
<circle cx="1495.51" cy="95.05" r="2.0" fill="#dc311e"/>
<circle cx="1499.9" cy="91.91" r="2.0" fill="#dc311e"/>
<circle cx="1503.66" cy="95.05" r="2.0" fill="#dc311e"/>
<circle cx="1501.78" cy="103.2" r="2.0" fill="#dc311e"/>
<circle cx="1504.29" cy="103.2" r="2.0" fill="#dc311e"/>
<circle cx="1503.66" cy="106.33" r="2.0" fill="#dc311e"/>
<circle cx="1497.39" cy="117.61" r="2.0" fill="#dc311e"/>
<circle cx="1485.48" cy="138.93" r="2.0" fill="#dc311e"/>
<circle cx="1498.02" cy="138.3" r="2.0" fill="#dc311e"/>
<circle cx="1506.17" cy="138.93" r="2.0" fill="#dc311e"/>
<circle cx="1505.54" cy="143.32" r="2.0" fill="#dc311e"/>
<circle cx="1469.81" cy="155.85" r="2.0" fill="#dc311e"/>
<circle cx="1507.42" cy="160.24" r="2.0" fill="#dc311e"/>
<circle cx="1505.54" cy="165.88" r="2.0" fill="#dc311e"/>
<circle cx="1492.38" cy="172.15" r="2.0" fill="#dc311e"/>
<circle cx="1494.88" cy="174.03" r="2.0" fill="#dc311e"/>
<circle cx="1490.5" cy="175.91" r="2.0" fill="#dc311e"/>
<circle cx="1486.73" cy="179.68" r="2.0" fill="#dc311e"/>
<circle cx="1473.57" cy="175.29" r="2.0" fill="#dc311e"/>
<circle cx="1467.3" cy="179.68" r="2.0" fill="#dc311e"/>
<circle cx="1504.29" cy="177.17" r="2.0" fill="#dc311e"/>
<circle cx="1452.26" cy="187.2" r="2.0" fill="#dc311e"/>
<circle cx="1457.27" cy="187.2" r="2.0" fill="#dc311e"/>
<circle cx="1465.42" cy="187.2" r="2.0" fill="#dc311e"/>
<circle cx="1472.32" cy="187.2" r="2.0" fill="#dc311e"/>
<circle cx="1479.84" cy="187.2" r="2.0" fill="#dc311e"/>
<circle cx="1474.82" cy="96.93" r="2.0" fill="#dc311e"/>
<circle cx="1473.57" cy="103.2" r="2.0" fill="#dc311e"/>
<circle cx="1439.24" cy="132.17" r="2.0" fill="#dc311e"/>
<circle cx="1440.32" cy="132.25" r="2.0" fill="#dc311e"/>
<circle cx="1441.41" cy="129.59" r="2.0" fill="#dc311e"/>
<circle cx="1441.92" cy="128.67" r="2.0" fill="#dc311e"/>
<circle cx="1442.77" cy="128.62" r="2.0" fill="#dc311e"/>
<circle cx="1443.58" cy="127.61" r="2.0" fill="#dc311e"/>
<circle cx="1445.14" cy="127.81" r="2.0" fill="#dc311e"/>
<circle cx="1445.33" cy="126.22" r="2.0" fill="#dc311e"/>
<circle cx="1447.09" cy="124.86" r="2.0" fill="#dc311e"/>
<circle cx="1448" cy="125.87" r="2.0" fill="#dc311e"/>
<circle cx="1448.06" cy="125.06" r="2.0" fill="#dc311e"/>
<circle cx="1449.69" cy="123.39" r="2.0" fill="#dc311e"/>
<circle cx="1450.39" cy="122.39" r="2.0" fill="#dc311e"/>
<circle cx="1450.81" cy="121.55" r="2.0" fill="#dc311e"/>
<circle cx="1452.22" cy="120.51" r="2.0" fill="#dc311e"/>
<circle cx="1452.33" cy="120.54" r="2.0" fill="#dc311e"/>
<circle cx="1453.26" cy="118.69" r="2.0" fill="#dc311e"/>
<circle cx="1454.24" cy="117.34" r="2.0" fill="#dc311e"/>
<circle cx="1454.95" cy="119.05" r="2.0" fill="#dc311e"/>
<circle cx="1456.55" cy="116.2" r="2.0" fill="#dc311e"/>
<circle cx="1456.63" cy="116.3" r="2.0" fill="#dc311e"/>
<circle cx="1457.74" cy="116.22" r="2.0" fill="#dc311e"/>
<circle cx="1458.83" cy="114.48" r="2.0" fill="#dc311e"/>
<circle cx="1460.11" cy="113.8" r="2.0" fill="#dc311e"/>
<circle cx="1460.78" cy="112.66" r="2.0" fill="#dc311e"/>
<circle cx="1461.42" cy="112" r="2.0" fill="#dc311e"/>
<circle cx="1462.15" cy="110.66" r="2.0" fill="#dc311e"/>
<circle cx="1462.62" cy="110.73" r="2.0" fill="#dc311e"/>
<circle cx="1464.08" cy="111.01" r="2.0" fill="#dc311e"/>
<circle cx="1464.97" cy="108.1" r="2.0" fill="#dc311e"/>
<circle cx="1465.2" cy="107.36" r="2.0" fill="#dc311e"/>
<circle cx="1466.46" cy="107.85" r="2.0" fill="#dc311e"/>
<circle cx="1467.03" cy="105.99" r="2.0" fill="#dc311e"/>
<circle cx="1467.78" cy="104.6" r="2.0" fill="#dc311e"/>
<circle cx="1468.73" cy="104.37" r="2.0" fill="#dc311e"/>
<circle cx="1470.07" cy="103.92" r="2.0" fill="#dc311e"/>
<circle cx="1470.98" cy="102.87" r="2.0" fill="#dc311e"/>
<circle cx="1472.16" cy="101.76" r="2.0" fill="#dc311e"/>
<circle cx="1472.18" cy="102.66" r="2.0" fill="#dc311e"/>
<circle cx="1473.73" cy="100.52" r="2.0" fill="#dc311e"/>
<circle cx="1473.83" cy="100.61" r="2.0" fill="#dc311e"/>
<circle cx="1475.03" cy="99.63" r="2.0" fill="#dc311e"/>
<circle cx="1476.48" cy="98.67" r="2.0" fill="#dc311e"/>
<circle cx="1477.32" cy="96.76" r="2.0" fill="#dc311e"/>
<circle cx="1477.68" cy="96.15" r="2.0" fill="#dc311e"/>
<circle cx="1478.92" cy="95.1" r="2.0" fill="#dc311e"/>
<circle cx="1479.95" cy="94.5" r="2.0" fill="#dc311e"/>
<circle cx="1480.48" cy="94.82" r="2.0" fill="#dc311e"/>
<circle cx="1481.55" cy="93.01" r="2.0" fill="#dc311e"/>
<circle cx="1481.9" cy="92.05" r="2.0" fill="#dc311e"/>
<circle cx="1483.25" cy="91.87" r="2.0" fill="#dc311e"/>
<circle cx="1484.18" cy="91.95" r="2.0" fill="#dc311e"/>
<circle cx="1484.94" cy="90.24" r="2.0" fill="#dc311e"/>
<circle cx="1485.16" cy="88.99" r="2.0" fill="#dc311e"/>
<circle cx="1486.26" cy="90" r="2.0" fill="#dc311e"/>
<circle cx="1487.64" cy="88.35" r="2.0" fill="#dc311e"/>
<circle cx="1488.21" cy="87.65" r="2.0" fill="#dc311e"/>
<circle cx="1489.04" cy="86.25" r="2.0" fill="#dc311e"/>
<circle cx="1490.35" cy="85.45" r="2.0" fill="#dc311e"/>
<circle cx="1490.26" cy="84.39" r="2.0" fill="#dc311e"/>
<circle cx="1491.86" cy="85.89" r="2.0" fill="#dc311e"/>
<circle cx="1492.31" cy="84.01" r="2.0" fill="#dc311e"/>
<circle cx="1493.08" cy="83.94" r="2.0" fill="#dc311e"/>
<circle cx="1494.4" cy="83.09" r="2.0" fill="#dc311e"/>
<circle cx="1495.04" cy="82.32" r="2.0" fill="#dc311e"/>
<circle cx="1496.3" cy="80.44" r="2.0" fill="#dc311e"/>
<circle cx="1496.87" cy="78.89" r="2.0" fill="#dc311e"/>
<circle cx="1497.79" cy="77.87" r="2.0" fill="#dc311e"/>
<circle cx="1498.18" cy="76.85" r="2.0" fill="#dc311e"/>
<circle cx="1499.83" cy="76.51" r="2.0" fill="#dc311e"/>
<circle cx="1499.79" cy="75.35" r="2.0" fill="#dc311e"/>
<circle cx="1501.26" cy="76.43" r="2.0" fill="#dc311e"/>
<circle cx="1501.56" cy="74.79" r="2.0" fill="#dc311e"/>
<circle cx="1503.18" cy="75.51" r="2.0" fill="#dc311e"/>
<circle cx="1503.29" cy="74.92" r="2.0" fill="#dc311e"/>
<circle cx="1505.03" cy="71.43" r="2.0" fill="#dc311e"/>
<circle cx="1505.06" cy="70.58" r="2.0" fill="#dc311e"/>
<circle cx="1506.63" cy="71.63" r="2.0" fill="#dc311e"/>
<circle cx="1507.32" cy="69.26" r="2.0" fill="#dc311e"/>
<circle cx="1507.64" cy="69.27" r="2.0" fill="#dc311e"/>
<circle cx="1496.38" cy="76.63" r="2.0" fill="#dc311e"/>
<circle cx="1492.64" cy="74.75" r="2.0" fill="#dc311e"/>
<circle cx="1495.92" cy="79.93" r="2.0" fill="#dc311e"/>
<circle cx="1496.99" cy="75.47" r="2.0" fill="#dc311e"/>
<circle cx="1504.46" cy="77.54" r="2.0" fill="#dc311e"/>
<circle cx="1503.05" cy="78.83" r="2.0" fill="#dc311e"/>
<circle cx="1492.76" cy="76.51" r="2.0" fill="#dc311e"/>
<circle cx="1497.85" cy="80.57" r="2.0" fill="#dc311e"/>
<circle cx="1496.72" cy="79.8" r="2.0" fill="#dc311e"/>
<circle cx="1499.12" cy="74.3" r="2.0" fill="#dc311e"/>
<circle cx="1503.19" cy="72.88" r="2.0" fill="#dc311e"/>
<circle cx="1502.65" cy="73.77" r="2.0" fill="#dc311e"/>
<circle cx="1492.39" cy="74.13" r="2.0" fill="#dc311e"/>
<circle cx="1501.93" cy="82.89" r="2.0" fill="#dc311e"/>
<circle cx="1486.11" cy="186.82" r="2.0" fill="#dc311e"/>
<circle cx="1487.56" cy="187.19" r="2.0" fill="#dc311e"/>
<circle cx="1489.01" cy="187.19" r="2.0" fill="#dc311e"/>
<circle cx="1490.46" cy="187.42" r="2.0" fill="#dc311e"/>
<circle cx="1491.91" cy="186.96" r="2.0" fill="#dc311e"/>
<circle cx="1493.37" cy="187.19" r="2.0" fill="#dc311e"/>
<circle cx="1494.82" cy="187.08" r="2.0" fill="#dc311e"/>
<circle cx="1496.27" cy="187.45" r="2.0" fill="#dc311e"/>
<circle cx="1497.72" cy="187.02" r="2.0" fill="#dc311e"/>
<circle cx="1499.17" cy="187.53" r="2.0" fill="#dc311e"/>
<circle cx="1500.62" cy="187.03" r="2.0" fill="#dc311e"/>
<circle cx="1502.08" cy="186.98" r="2.0" fill="#dc311e"/>
<circle cx="1503.53" cy="187.35" r="2.0" fill="#dc311e"/>
<circle cx="1504.98" cy="187.2" r="2.0" fill="#dc311e"/>
<circle cx="1506.43" cy="186.9" r="2.0" fill="#dc311e"/>
<circle cx="1507.88" cy="187.3" r="2.0" fill="#dc311e"/>
<circle cx="1509.33" cy="186.88" r="2.0" fill="#dc311e"/>
<circle cx="1510.79" cy="187.41" r="2.0" fill="#dc311e"/>
<circle cx="1512.24" cy="187.35" r="2.0" fill="#dc311e"/>
<circle cx="1513.69" cy="187.41" r="2.0" fill="#dc311e"/>
<rect x="1369.3" y="39.7" width="162" height="161.9" fill="none" stroke="#000" stroke-width="1.5"/>
<line x1="1423.47" y1="39.7" x2="1423.47" y2="201.6" stroke="#000" stroke-width="1.3"/>
<line x1="1363.3" y1="147.47" x2="1531.3" y2="147.47" stroke="#000" stroke-width="1.3"/>
<line x1="1364.3" y1="187.5" x2="1369.3" y2="187.5" stroke="#000" stroke-width="1.3"/>
<line x1="1381.8" y1="201.6" x2="1381.8" y2="206.6" stroke="#000" stroke-width="1.3"/>
<text x="1381.8" y="222.6" font-size="16.5" text-anchor="middle">0</text>
<line x1="1364.3" y1="147.47" x2="1369.3" y2="147.47" stroke="#000" stroke-width="1.3"/>
<line x1="1423.47" y1="201.6" x2="1423.47" y2="206.6" stroke="#000" stroke-width="1.3"/>
<text x="1423.47" y="222.6" font-size="16.5" text-anchor="middle">1</text>
<line x1="1364.3" y1="107.43" x2="1369.3" y2="107.43" stroke="#000" stroke-width="1.3"/>
<line x1="1465.13" y1="201.6" x2="1465.13" y2="206.6" stroke="#000" stroke-width="1.3"/>
<text x="1465.13" y="222.6" font-size="16.5" text-anchor="middle">2</text>
<line x1="1364.3" y1="67.4" x2="1369.3" y2="67.4" stroke="#000" stroke-width="1.3"/>
<line x1="1506.8" y1="201.6" x2="1506.8" y2="206.6" stroke="#000" stroke-width="1.3"/>
<text x="1506.8" y="222.6" font-size="16.5" text-anchor="middle">3</text>
<text x="1450.3" y="243.5" font-size="15" text-anchor="middle">Wuhan RBD IgG</text>
<text x="1455.2" y="19" font-size="16.3" text-anchor="middle">Om.BT+biv (viii)</text>
<text x="1446.4" y="31" font-size="11.5" text-anchor="middle">n<tspan font-size="7" dy="3">MBC</tspan><tspan dy="-3">=254 (</tspan><tspan fill="#e6503a">ACE2<tspan font-size="7.5" dy="3">inh</tspan><tspan dy="-3">=148</tspan></tspan>)</text>
<text x="1373.3" y="52.5" font-size="11.2" xml:space="preserve">0% (<tspan fill="#e6503a">0%</tspan>)</text>
<text x="1426.47" y="52.5" font-size="11.2">67% (<tspan fill="#e6503a">ACE2<tspan font-size="8" dy="3">inh</tspan><tspan dy="-3">: 68%</tspan></tspan>)</text>
<text x="1426.47" y="198.5" font-size="11.2">33% (<tspan fill="#e6503a">ACE2<tspan font-size="8" dy="3">inh</tspan><tspan dy="-3">: 32%</tspan></tspan>)</text>
<circle cx="1625.67" cy="167.76" r="1.8" fill="#74c9ec"/>
<circle cx="1635.08" cy="167.76" r="1.8" fill="#74c9ec"/>
<circle cx="1636.33" cy="179.68" r="1.8" fill="#74c9ec"/>
<circle cx="1638.84" cy="177.17" r="1.8" fill="#74c9ec"/>
<circle cx="1641.34" cy="175.91" r="1.8" fill="#74c9ec"/>
<circle cx="1643.22" cy="175.29" r="1.8" fill="#74c9ec"/>
<circle cx="1647.61" cy="177.17" r="1.8" fill="#74c9ec"/>
<circle cx="1648.87" cy="180.93" r="1.8" fill="#74c9ec"/>
<circle cx="1650.12" cy="183.44" r="1.8" fill="#74c9ec"/>
<circle cx="1649.49" cy="173.41" r="1.8" fill="#74c9ec"/>
<circle cx="1652.63" cy="169.64" r="1.8" fill="#74c9ec"/>
<circle cx="1655.14" cy="165.88" r="1.8" fill="#74c9ec"/>
<circle cx="1657.64" cy="161.5" r="1.8" fill="#74c9ec"/>
<circle cx="1658.9" cy="153.35" r="1.8" fill="#74c9ec"/>
<circle cx="1661.4" cy="160.24" r="1.8" fill="#74c9ec"/>
<circle cx="1663.28" cy="153.35" r="1.8" fill="#74c9ec"/>
<circle cx="1663.91" cy="158.36" r="1.8" fill="#74c9ec"/>
<circle cx="1662.66" cy="175.91" r="1.8" fill="#74c9ec"/>
<circle cx="1655.76" cy="187.2" r="1.8" fill="#74c9ec"/>
<circle cx="1665.79" cy="187.2" r="1.8" fill="#74c9ec"/>
<circle cx="1671.43" cy="158.99" r="1.8" fill="#74c9ec"/>
<circle cx="1672.69" cy="150.21" r="1.8" fill="#74c9ec"/>
<circle cx="1675.82" cy="160.24" r="1.8" fill="#74c9ec"/>
<circle cx="1679.58" cy="157.11" r="1.8" fill="#74c9ec"/>
<circle cx="1682.09" cy="150.84" r="1.8" fill="#74c9ec"/>
<circle cx="1686.48" cy="165.88" r="1.8" fill="#74c9ec"/>
<circle cx="1692.75" cy="170.27" r="1.8" fill="#74c9ec"/>
<circle cx="1698.39" cy="152.72" r="1.8" fill="#74c9ec"/>
<circle cx="1731.61" cy="178.42" r="1.8" fill="#74c9ec"/>
<circle cx="1739.14" cy="172.78" r="1.8" fill="#74c9ec"/>
<circle cx="1736.63" cy="162.75" r="1.8" fill="#74c9ec"/>
<circle cx="1753.56" cy="182.18" r="1.8" fill="#74c9ec"/>
<circle cx="1690.87" cy="120.75" r="1.8" fill="#74c9ec"/>
<circle cx="1692.75" cy="123.26" r="1.8" fill="#74c9ec"/>
<circle cx="1694" cy="124.51" r="1.8" fill="#74c9ec"/>
<circle cx="1696.51" cy="121.38" r="1.8" fill="#74c9ec"/>
<circle cx="1697.76" cy="114.48" r="1.8" fill="#74c9ec"/>
<circle cx="1699.02" cy="129.52" r="1.8" fill="#74c9ec"/>
<circle cx="1701.52" cy="122" r="1.8" fill="#74c9ec"/>
<circle cx="1709.05" cy="135.17" r="1.8" fill="#74c9ec"/>
<circle cx="1710.3" cy="116.99" r="1.8" fill="#74c9ec"/>
<circle cx="1715.32" cy="123.26" r="1.8" fill="#74c9ec"/>
<circle cx="1717.2" cy="115.11" r="1.8" fill="#74c9ec"/>
<circle cx="1734.12" cy="128.9" r="1.8" fill="#74c9ec"/>
<circle cx="1742.9" cy="139.55" r="1.8" fill="#74c9ec"/>
<circle cx="1745.41" cy="145.82" r="1.8" fill="#74c9ec"/>
<circle cx="1749.17" cy="140.81" r="1.8" fill="#74c9ec"/>
<circle cx="1751.68" cy="140.81" r="1.8" fill="#74c9ec"/>
<circle cx="1754.81" cy="147.08" r="1.8" fill="#74c9ec"/>
<circle cx="1741.02" cy="146.45" r="1.8" fill="#74c9ec"/>
<circle cx="1714.06" cy="85.64" r="1.8" fill="#74c9ec"/>
<circle cx="1719.7" cy="96.3" r="1.8" fill="#74c9ec"/>
<circle cx="1727.85" cy="100.69" r="1.8" fill="#74c9ec"/>
<circle cx="1732.24" cy="96.93" r="1.8" fill="#74c9ec"/>
<circle cx="1735.38" cy="98.18" r="1.8" fill="#74c9ec"/>
<circle cx="1736.63" cy="96.3" r="1.8" fill="#74c9ec"/>
<circle cx="1727.85" cy="78.12" r="1.8" fill="#74c9ec"/>
<circle cx="1746.03" cy="88.78" r="1.8" fill="#74c9ec"/>
<circle cx="1751.05" cy="95.05" r="1.8" fill="#74c9ec"/>
<circle cx="1750.42" cy="85.02" r="1.8" fill="#74c9ec"/>
<circle cx="1756.06" cy="85.02" r="1.8" fill="#74c9ec"/>
<circle cx="1752.93" cy="107.58" r="1.8" fill="#74c9ec"/>
<circle cx="1758.57" cy="104.45" r="1.8" fill="#74c9ec"/>
<circle cx="1759.82" cy="109.46" r="1.8" fill="#74c9ec"/>
<circle cx="1732.87" cy="62.45" r="1.8" fill="#74c9ec"/>
<circle cx="1757.32" cy="58.06" r="1.8" fill="#74c9ec"/>
<circle cx="1696.51" cy="130.15" r="1.8" fill="#74c9ec"/>
<circle cx="1660.15" cy="158.36" r="1.8" fill="#74c9ec"/>
<circle cx="1662.03" cy="156.48" r="1.8" fill="#74c9ec"/>
<circle cx="1634.42" cy="186.41" r="1.8" fill="#74c9ec"/>
<circle cx="1630.58" cy="186.48" r="1.8" fill="#74c9ec"/>
<circle cx="1638.86" cy="185.87" r="1.8" fill="#74c9ec"/>
<circle cx="1638.83" cy="185.74" r="1.8" fill="#74c9ec"/>
<circle cx="1627.28" cy="186.22" r="1.8" fill="#74c9ec"/>
<circle cx="1639.05" cy="186.7" r="1.8" fill="#74c9ec"/>
<circle cx="1630.21" cy="187.47" r="1.8" fill="#74c9ec"/>
<circle cx="1627.74" cy="186.62" r="1.8" fill="#74c9ec"/>
<circle cx="1632.79" cy="187.21" r="1.8" fill="#74c9ec"/>
<circle cx="1636.54" cy="186.99" r="1.8" fill="#74c9ec"/>
<circle cx="1629.69" cy="186.35" r="1.8" fill="#74c9ec"/>
<circle cx="1626.42" cy="187.38" r="1.8" fill="#74c9ec"/>
<circle cx="1635" cy="187.18" r="1.8" fill="#74c9ec"/>
<circle cx="1626.66" cy="186.57" r="1.8" fill="#74c9ec"/>
<circle cx="1636.88" cy="186.85" r="1.8" fill="#74c9ec"/>
<circle cx="1625.92" cy="186.62" r="1.8" fill="#74c9ec"/>
<circle cx="1638.77" cy="186.17" r="1.8" fill="#74c9ec"/>
<circle cx="1627.03" cy="186.3" r="1.8" fill="#74c9ec"/>
<circle cx="1635.69" cy="187.39" r="1.8" fill="#74c9ec"/>
<circle cx="1626.41" cy="186.01" r="1.8" fill="#74c9ec"/>
<circle cx="1627.98" cy="186.35" r="1.8" fill="#74c9ec"/>
<circle cx="1632.63" cy="186.02" r="1.8" fill="#74c9ec"/>
<circle cx="1629.34" cy="186.07" r="1.8" fill="#74c9ec"/>
<circle cx="1640.3" cy="187.15" r="1.8" fill="#74c9ec"/>
<circle cx="1625.51" cy="187.62" r="1.8" fill="#74c9ec"/>
<circle cx="1625.51" cy="186.46" r="1.8" fill="#74c9ec"/>
<circle cx="1666.42" cy="187.56" r="1.8" fill="#74c9ec"/>
<circle cx="1668.68" cy="187.42" r="1.8" fill="#74c9ec"/>
<circle cx="1670.93" cy="187.37" r="1.8" fill="#74c9ec"/>
<circle cx="1673.19" cy="187.15" r="1.8" fill="#74c9ec"/>
<circle cx="1675.45" cy="186.97" r="1.8" fill="#74c9ec"/>
<circle cx="1677.7" cy="187.3" r="1.8" fill="#74c9ec"/>
<circle cx="1679.96" cy="186.9" r="1.8" fill="#74c9ec"/>
<circle cx="1682.22" cy="186.98" r="1.8" fill="#74c9ec"/>
<circle cx="1684.47" cy="187.11" r="1.8" fill="#74c9ec"/>
<circle cx="1686.73" cy="186.85" r="1.8" fill="#74c9ec"/>
<circle cx="1688.99" cy="187.12" r="1.8" fill="#74c9ec"/>
<circle cx="1691.24" cy="187.42" r="1.8" fill="#74c9ec"/>
<circle cx="1693.5" cy="187.34" r="1.8" fill="#74c9ec"/>
<circle cx="1695.76" cy="187.2" r="1.8" fill="#74c9ec"/>
<circle cx="1698.01" cy="187.3" r="1.8" fill="#74c9ec"/>
<circle cx="1700.27" cy="187.17" r="1.8" fill="#74c9ec"/>
<circle cx="1705.29" cy="108.84" r="2.0" fill="#dc311e"/>
<circle cx="1709.05" cy="105.08" r="2.0" fill="#dc311e"/>
<circle cx="1713.44" cy="101.31" r="2.0" fill="#dc311e"/>
<circle cx="1716.57" cy="101.94" r="2.0" fill="#dc311e"/>
<circle cx="1722.84" cy="91.28" r="2.0" fill="#dc311e"/>
<circle cx="1724.72" cy="93.17" r="2.0" fill="#dc311e"/>
<circle cx="1737.88" cy="64.96" r="2.0" fill="#dc311e"/>
<circle cx="1740.39" cy="85.02" r="2.0" fill="#dc311e"/>
<circle cx="1737.88" cy="89.4" r="2.0" fill="#dc311e"/>
<circle cx="1756.69" cy="112.6" r="2.0" fill="#dc311e"/>
<circle cx="1735.38" cy="122.63" r="2.0" fill="#dc311e"/>
<circle cx="1747.29" cy="124.51" r="2.0" fill="#dc311e"/>
<circle cx="1752.3" cy="125.76" r="2.0" fill="#dc311e"/>
<circle cx="1726.6" cy="154.6" r="2.0" fill="#dc311e"/>
<circle cx="1752.93" cy="153.35" r="2.0" fill="#dc311e"/>
<circle cx="1741.02" cy="158.36" r="2.0" fill="#dc311e"/>
<circle cx="1749.79" cy="158.36" r="2.0" fill="#dc311e"/>
<circle cx="1743.53" cy="164" r="2.0" fill="#dc311e"/>
<circle cx="1751.68" cy="166.51" r="2.0" fill="#dc311e"/>
<circle cx="1752.93" cy="169.64" r="2.0" fill="#dc311e"/>
<circle cx="1756.06" cy="169.64" r="2.0" fill="#dc311e"/>
<circle cx="1729.11" cy="170.27" r="2.0" fill="#dc311e"/>
<circle cx="1734.75" cy="172.78" r="2.0" fill="#dc311e"/>
<circle cx="1751.68" cy="172.15" r="2.0" fill="#dc311e"/>
<circle cx="1702.15" cy="169.02" r="2.0" fill="#dc311e"/>
<circle cx="1737.88" cy="182.18" r="2.0" fill="#dc311e"/>
<circle cx="1672.69" cy="187.2" r="2.0" fill="#dc311e"/>
<circle cx="1705.29" cy="187.2" r="2.0" fill="#dc311e"/>
<circle cx="1710.3" cy="187.2" r="2.0" fill="#dc311e"/>
<circle cx="1721.58" cy="91.91" r="2.0" fill="#dc311e"/>
<circle cx="1723.47" cy="90.66" r="2.0" fill="#dc311e"/>
<circle cx="1721.23" cy="95.15" r="2.0" fill="#dc311e"/>
<circle cx="1722.33" cy="95.79" r="2.0" fill="#dc311e"/>
<circle cx="1722.66" cy="94.77" r="2.0" fill="#dc311e"/>
<circle cx="1722.81" cy="95.54" r="2.0" fill="#dc311e"/>
<circle cx="1723.86" cy="94.89" r="2.0" fill="#dc311e"/>
<circle cx="1724.26" cy="93.13" r="2.0" fill="#dc311e"/>
<circle cx="1724.4" cy="91.75" r="2.0" fill="#dc311e"/>
<circle cx="1725" cy="93.51" r="2.0" fill="#dc311e"/>
<circle cx="1725.71" cy="90.37" r="2.0" fill="#dc311e"/>
<circle cx="1726.04" cy="91.13" r="2.0" fill="#dc311e"/>
<circle cx="1726.76" cy="90.87" r="2.0" fill="#dc311e"/>
<circle cx="1727.24" cy="90.68" r="2.0" fill="#dc311e"/>
<circle cx="1727.57" cy="89.51" r="2.0" fill="#dc311e"/>
<circle cx="1728.12" cy="88.03" r="2.0" fill="#dc311e"/>
<circle cx="1729.02" cy="87.89" r="2.0" fill="#dc311e"/>
<circle cx="1729.15" cy="88.8" r="2.0" fill="#dc311e"/>
<circle cx="1729.59" cy="89.07" r="2.0" fill="#dc311e"/>
<circle cx="1730.1" cy="87.67" r="2.0" fill="#dc311e"/>
<circle cx="1730.29" cy="87.21" r="2.0" fill="#dc311e"/>
<circle cx="1731.34" cy="85.22" r="2.0" fill="#dc311e"/>
<circle cx="1731.43" cy="84.24" r="2.0" fill="#dc311e"/>
<circle cx="1731.98" cy="83.67" r="2.0" fill="#dc311e"/>
<circle cx="1732.5" cy="85.32" r="2.0" fill="#dc311e"/>
<circle cx="1732.84" cy="83.75" r="2.0" fill="#dc311e"/>
<circle cx="1734.02" cy="83.61" r="2.0" fill="#dc311e"/>
<circle cx="1734.38" cy="82.8" r="2.0" fill="#dc311e"/>
<circle cx="1734.2" cy="85.15" r="2.0" fill="#dc311e"/>
<circle cx="1735.21" cy="82.74" r="2.0" fill="#dc311e"/>
<circle cx="1735.3" cy="83.42" r="2.0" fill="#dc311e"/>
<circle cx="1736.21" cy="84.02" r="2.0" fill="#dc311e"/>
<circle cx="1736.54" cy="80.67" r="2.0" fill="#dc311e"/>
<circle cx="1736.7" cy="81.66" r="2.0" fill="#dc311e"/>
<circle cx="1737.93" cy="79.48" r="2.0" fill="#dc311e"/>
<circle cx="1737.83" cy="79.21" r="2.0" fill="#dc311e"/>
<circle cx="1738.08" cy="79.74" r="2.0" fill="#dc311e"/>
<circle cx="1738.82" cy="78.35" r="2.0" fill="#dc311e"/>
<circle cx="1739.5" cy="79.55" r="2.0" fill="#dc311e"/>
<circle cx="1739.94" cy="81.06" r="2.0" fill="#dc311e"/>
<circle cx="1740.13" cy="80.27" r="2.0" fill="#dc311e"/>
<circle cx="1741.36" cy="76.15" r="2.0" fill="#dc311e"/>
<circle cx="1741.71" cy="75.02" r="2.0" fill="#dc311e"/>
<circle cx="1742.53" cy="76.3" r="2.0" fill="#dc311e"/>
<circle cx="1742.17" cy="74.46" r="2.0" fill="#dc311e"/>
<circle cx="1743.35" cy="74.43" r="2.0" fill="#dc311e"/>
<circle cx="1743.98" cy="75.04" r="2.0" fill="#dc311e"/>
<circle cx="1744.46" cy="75.63" r="2.0" fill="#dc311e"/>
<circle cx="1744.74" cy="76.56" r="2.0" fill="#dc311e"/>
<circle cx="1745.41" cy="72.69" r="2.0" fill="#dc311e"/>
<circle cx="1745.6" cy="73.9" r="2.0" fill="#dc311e"/>
<circle cx="1746.45" cy="72.43" r="2.0" fill="#dc311e"/>
<circle cx="1746.3" cy="70.96" r="2.0" fill="#dc311e"/>
<circle cx="1746.63" cy="71.06" r="2.0" fill="#dc311e"/>
<circle cx="1747.56" cy="71.45" r="2.0" fill="#dc311e"/>
<circle cx="1748.43" cy="69.12" r="2.0" fill="#dc311e"/>
<circle cx="1748.54" cy="71.07" r="2.0" fill="#dc311e"/>
<circle cx="1749.41" cy="69.44" r="2.0" fill="#dc311e"/>
<circle cx="1750.03" cy="68.04" r="2.0" fill="#dc311e"/>
<circle cx="1750.2" cy="67.39" r="2.0" fill="#dc311e"/>
<circle cx="1750.75" cy="69.61" r="2.0" fill="#dc311e"/>
<circle cx="1751.55" cy="68.21" r="2.0" fill="#dc311e"/>
<circle cx="1751.96" cy="66.06" r="2.0" fill="#dc311e"/>
<circle cx="1752.19" cy="67.18" r="2.0" fill="#dc311e"/>
<circle cx="1752.43" cy="66.79" r="2.0" fill="#dc311e"/>
<circle cx="1753.34" cy="65.27" r="2.0" fill="#dc311e"/>
<circle cx="1753.49" cy="66.84" r="2.0" fill="#dc311e"/>
<circle cx="1753.86" cy="66.36" r="2.0" fill="#dc311e"/>
<circle cx="1754.57" cy="64.19" r="2.0" fill="#dc311e"/>
<circle cx="1755.54" cy="65.89" r="2.0" fill="#dc311e"/>
<circle cx="1755.39" cy="63.19" r="2.0" fill="#dc311e"/>
<circle cx="1756.15" cy="64.86" r="2.0" fill="#dc311e"/>
<circle cx="1717.82" cy="186.85" r="2.0" fill="#dc311e"/>
<circle cx="1719.53" cy="187.37" r="2.0" fill="#dc311e"/>
<circle cx="1721.23" cy="187.49" r="2.0" fill="#dc311e"/>
<circle cx="1722.94" cy="187.23" r="2.0" fill="#dc311e"/>
<circle cx="1724.64" cy="186.86" r="2.0" fill="#dc311e"/>
<circle cx="1726.35" cy="187.05" r="2.0" fill="#dc311e"/>
<circle cx="1728.05" cy="186.83" r="2.0" fill="#dc311e"/>
<circle cx="1729.76" cy="186.96" r="2.0" fill="#dc311e"/>
<circle cx="1731.46" cy="187.51" r="2.0" fill="#dc311e"/>
<circle cx="1733.17" cy="187.28" r="2.0" fill="#dc311e"/>
<circle cx="1734.87" cy="187.32" r="2.0" fill="#dc311e"/>
<circle cx="1736.58" cy="187.42" r="2.0" fill="#dc311e"/>
<circle cx="1738.28" cy="187.51" r="2.0" fill="#dc311e"/>
<circle cx="1739.99" cy="187.28" r="2.0" fill="#dc311e"/>
<circle cx="1741.7" cy="187.29" r="2.0" fill="#dc311e"/>
<circle cx="1743.4" cy="187.29" r="2.0" fill="#dc311e"/>
<circle cx="1745.11" cy="187.35" r="2.0" fill="#dc311e"/>
<circle cx="1746.81" cy="187.27" r="2.0" fill="#dc311e"/>
<circle cx="1748.52" cy="187.33" r="2.0" fill="#dc311e"/>
<circle cx="1750.22" cy="186.98" r="2.0" fill="#dc311e"/>
<circle cx="1751.93" cy="187.32" r="2.0" fill="#dc311e"/>
<circle cx="1753.63" cy="187.17" r="2.0" fill="#dc311e"/>
<circle cx="1755.34" cy="187.4" r="2.0" fill="#dc311e"/>
<circle cx="1757.04" cy="186.9" r="2.0" fill="#dc311e"/>
<circle cx="1758.75" cy="186.96" r="2.0" fill="#dc311e"/>
<circle cx="1760.45" cy="186.85" r="2.0" fill="#dc311e"/>
<rect x="1612.5" y="39.7" width="162.5" height="161.9" fill="none" stroke="#000" stroke-width="1.5"/>
<line x1="1666.7" y1="39.7" x2="1666.7" y2="201.6" stroke="#000" stroke-width="1.3"/>
<line x1="1606.5" y1="147.47" x2="1775" y2="147.47" stroke="#000" stroke-width="1.3"/>
<line x1="1607.5" y1="187.5" x2="1612.5" y2="187.5" stroke="#000" stroke-width="1.3"/>
<text x="1607.5" y="193" font-size="16.5" text-anchor="end">0</text>
<line x1="1625.2" y1="201.6" x2="1625.2" y2="206.6" stroke="#000" stroke-width="1.3"/>
<text x="1625.2" y="222.6" font-size="16.5" text-anchor="middle">0</text>
<line x1="1607.5" y1="147.47" x2="1612.5" y2="147.47" stroke="#000" stroke-width="1.3"/>
<text x="1607.5" y="152.97" font-size="16.5" text-anchor="end">1</text>
<line x1="1666.7" y1="201.6" x2="1666.7" y2="206.6" stroke="#000" stroke-width="1.3"/>
<text x="1666.7" y="222.6" font-size="16.5" text-anchor="middle">1</text>
<line x1="1607.5" y1="107.43" x2="1612.5" y2="107.43" stroke="#000" stroke-width="1.3"/>
<text x="1607.5" y="112.93" font-size="16.5" text-anchor="end">2</text>
<line x1="1708.2" y1="201.6" x2="1708.2" y2="206.6" stroke="#000" stroke-width="1.3"/>
<text x="1708.2" y="222.6" font-size="16.5" text-anchor="middle">2</text>
<line x1="1607.5" y1="67.4" x2="1612.5" y2="67.4" stroke="#000" stroke-width="1.3"/>
<text x="1607.5" y="72.9" font-size="16.5" text-anchor="end">3</text>
<line x1="1749.7" y1="201.6" x2="1749.7" y2="206.6" stroke="#000" stroke-width="1.3"/>
<text x="1749.7" y="222.6" font-size="16.5" text-anchor="middle">3</text>
<text x="1693.75" y="243.5" font-size="15" text-anchor="middle">Wuhan RBD IgG</text>
<text x="1698.9" y="19" font-size="16.3" text-anchor="middle">Wu/BA.1biv (vii)</text>
<text x="1687.2" y="31" font-size="11.5" text-anchor="middle">n<tspan font-size="7" dy="3">MBC</tspan><tspan dy="-3">=296 (</tspan><tspan fill="#e6503a">ACE2<tspan font-size="7.5" dy="3">inh</tspan><tspan dy="-3">=136</tspan></tspan></text>
<text x="1616.5" y="52.5" font-size="11.2" xml:space="preserve">0% (<tspan fill="#e6503a">0%</tspan>)</text>
<text x="1669.7" y="52.5" font-size="11.2">58% (<tspan fill="#e6503a">ACE2<tspan font-size="8" dy="3">inh</tspan><tspan dy="-3">: 57%</tspan></tspan>)</text>
<text x="1669.7" y="198.5" font-size="11.2">42% (<tspan fill="#e6503a">ACE2<tspan font-size="8" dy="3">inh</tspan><tspan dy="-3">: 43%</tspan></tspan>)</text>
<text transform="translate(1586.5,120.65) rotate(-90)" font-size="15" text-anchor="middle">Omicron XBB.1 RBD IgG</text>
<circle cx="1815.94" cy="174.66" r="1.8" fill="#74c9ec"/>
<circle cx="1817.19" cy="179.05" r="1.8" fill="#74c9ec"/>
<circle cx="1824.72" cy="179.68" r="1.8" fill="#74c9ec"/>
<circle cx="1826.6" cy="175.91" r="1.8" fill="#74c9ec"/>
<circle cx="1831.61" cy="174.66" r="1.8" fill="#74c9ec"/>
<circle cx="1834.75" cy="172.78" r="1.8" fill="#74c9ec"/>
<circle cx="1837.25" cy="178.42" r="1.8" fill="#74c9ec"/>
<circle cx="1809.05" cy="182.18" r="1.8" fill="#74c9ec"/>
<circle cx="1824.09" cy="187.2" r="1.8" fill="#74c9ec"/>
<circle cx="1829.11" cy="187.2" r="1.8" fill="#74c9ec"/>
<circle cx="1836.63" cy="187.2" r="1.8" fill="#74c9ec"/>
<circle cx="1840.39" cy="187.2" r="1.8" fill="#74c9ec"/>
<circle cx="1845.4" cy="187.2" r="1.8" fill="#74c9ec"/>
<circle cx="1848.54" cy="159.61" r="1.8" fill="#74c9ec"/>
<circle cx="1858.57" cy="187.2" r="1.8" fill="#74c9ec"/>
<circle cx="1867.97" cy="187.2" r="1.8" fill="#74c9ec"/>
<circle cx="1872.99" cy="187.2" r="1.8" fill="#74c9ec"/>
<circle cx="1879.26" cy="187.2" r="1.8" fill="#74c9ec"/>
<circle cx="1869.23" cy="155.85" r="1.8" fill="#74c9ec"/>
<circle cx="1879.88" cy="149.58" r="1.8" fill="#74c9ec"/>
<circle cx="1889.91" cy="164" r="1.8" fill="#74c9ec"/>
<circle cx="1931.29" cy="166.51" r="1.8" fill="#74c9ec"/>
<circle cx="1928.78" cy="180.3" r="1.8" fill="#74c9ec"/>
<circle cx="1928.78" cy="142.69" r="1.8" fill="#74c9ec"/>
<circle cx="1918.75" cy="128.27" r="1.8" fill="#74c9ec"/>
<circle cx="1907.47" cy="140.18" r="1.8" fill="#74c9ec"/>
<circle cx="1893.05" cy="138.3" r="1.8" fill="#74c9ec"/>
<circle cx="1882.39" cy="137.67" r="1.8" fill="#74c9ec"/>
<circle cx="1893.05" cy="124.51" r="1.8" fill="#74c9ec"/>
<circle cx="1876.12" cy="124.51" r="1.8" fill="#74c9ec"/>
<circle cx="1906.84" cy="116.99" r="1.8" fill="#74c9ec"/>
<circle cx="1914.99" cy="110.72" r="1.8" fill="#74c9ec"/>
<circle cx="1901.82" cy="111.35" r="1.8" fill="#74c9ec"/>
<circle cx="1897.44" cy="104.45" r="1.8" fill="#74c9ec"/>
<circle cx="1904.33" cy="100.06" r="1.8" fill="#74c9ec"/>
<circle cx="1881.76" cy="100.69" r="1.8" fill="#74c9ec"/>
<circle cx="1872.36" cy="104.45" r="1.8" fill="#74c9ec"/>
<circle cx="1869.85" cy="110.09" r="1.8" fill="#74c9ec"/>
<circle cx="1889.29" cy="94.42" r="1.8" fill="#74c9ec"/>
<circle cx="1902.45" cy="86.27" r="1.8" fill="#74c9ec"/>
<circle cx="1906.84" cy="76.24" r="1.8" fill="#74c9ec"/>
<circle cx="1918.12" cy="68.09" r="1.8" fill="#74c9ec"/>
<circle cx="1924.39" cy="66.84" r="1.8" fill="#74c9ec"/>
<circle cx="1935.68" cy="68.09" r="1.8" fill="#74c9ec"/>
<circle cx="1935.68" cy="79.37" r="1.8" fill="#74c9ec"/>
<circle cx="1931.91" cy="81.88" r="1.8" fill="#74c9ec"/>
<circle cx="1849.79" cy="160.24" r="1.8" fill="#74c9ec"/>
<circle cx="1825.34" cy="177.79" r="1.8" fill="#74c9ec"/>
<circle cx="1819.44" cy="187.49" r="1.8" fill="#74c9ec"/>
<circle cx="1817.66" cy="186.2" r="1.8" fill="#74c9ec"/>
<circle cx="1820.17" cy="187.19" r="1.8" fill="#74c9ec"/>
<circle cx="1816.25" cy="185.93" r="1.8" fill="#74c9ec"/>
<circle cx="1812.34" cy="186.32" r="1.8" fill="#74c9ec"/>
<circle cx="1812.58" cy="186.34" r="1.8" fill="#74c9ec"/>
<circle cx="1817.45" cy="187.54" r="1.8" fill="#74c9ec"/>
<circle cx="1808.61" cy="186.67" r="1.8" fill="#74c9ec"/>
<circle cx="1808.38" cy="185.6" r="1.8" fill="#74c9ec"/>
<circle cx="1819.98" cy="186.69" r="1.8" fill="#74c9ec"/>
<circle cx="1821.61" cy="186.38" r="1.8" fill="#74c9ec"/>
<circle cx="1808" cy="186.24" r="1.8" fill="#74c9ec"/>
<circle cx="1816.7" cy="187.55" r="1.8" fill="#74c9ec"/>
<circle cx="1822.55" cy="186.45" r="1.8" fill="#74c9ec"/>
<circle cx="1814" cy="185.56" r="1.8" fill="#74c9ec"/>
<circle cx="1817.49" cy="185.82" r="1.8" fill="#74c9ec"/>
<circle cx="1810.07" cy="185.35" r="1.8" fill="#74c9ec"/>
<circle cx="1807.86" cy="186.95" r="1.8" fill="#74c9ec"/>
<circle cx="1809.62" cy="187.62" r="1.8" fill="#74c9ec"/>
<circle cx="1809.12" cy="187.39" r="1.8" fill="#74c9ec"/>
<circle cx="1866.47" cy="116.36" r="2.0" fill="#dc311e"/>
<circle cx="1877.38" cy="109.46" r="2.0" fill="#dc311e"/>
<circle cx="1881.76" cy="111.97" r="2.0" fill="#dc311e"/>
<circle cx="1888.03" cy="101.94" r="2.0" fill="#dc311e"/>
<circle cx="1891.79" cy="90.03" r="2.0" fill="#dc311e"/>
<circle cx="1902.45" cy="77.49" r="2.0" fill="#dc311e"/>
<circle cx="1910.6" cy="68.72" r="2.0" fill="#dc311e"/>
<circle cx="1916.24" cy="97.55" r="2.0" fill="#dc311e"/>
<circle cx="1923.14" cy="82.51" r="2.0" fill="#dc311e"/>
<circle cx="1925.02" cy="86.9" r="2.0" fill="#dc311e"/>
<circle cx="1927.53" cy="86.9" r="2.0" fill="#dc311e"/>
<circle cx="1928.78" cy="90.66" r="2.0" fill="#dc311e"/>
<circle cx="1931.29" cy="76.24" r="2.0" fill="#dc311e"/>
<circle cx="1933.17" cy="96.93" r="2.0" fill="#dc311e"/>
<circle cx="1935.68" cy="115.73" r="2.0" fill="#dc311e"/>
<circle cx="1897.44" cy="117.61" r="2.0" fill="#dc311e"/>
<circle cx="1901.2" cy="124.51" r="2.0" fill="#dc311e"/>
<circle cx="1912.48" cy="124.51" r="2.0" fill="#dc311e"/>
<circle cx="1925.64" cy="123.88" r="2.0" fill="#dc311e"/>
<circle cx="1922.51" cy="133.29" r="2.0" fill="#dc311e"/>
<circle cx="1933.79" cy="138.93" r="2.0" fill="#dc311e"/>
<circle cx="1899.32" cy="144.57" r="2.0" fill="#dc311e"/>
<circle cx="1920" cy="147.7" r="2.0" fill="#dc311e"/>
<circle cx="1931.29" cy="150.84" r="2.0" fill="#dc311e"/>
<circle cx="1901.2" cy="155.23" r="2.0" fill="#dc311e"/>
<circle cx="1922.51" cy="158.99" r="2.0" fill="#dc311e"/>
<circle cx="1932.54" cy="159.61" r="2.0" fill="#dc311e"/>
<circle cx="1925.02" cy="164.63" r="2.0" fill="#dc311e"/>
<circle cx="1928.15" cy="169.02" r="2.0" fill="#dc311e"/>
<circle cx="1897.44" cy="168.39" r="2.0" fill="#dc311e"/>
<circle cx="1935.68" cy="184.06" r="2.0" fill="#dc311e"/>
<circle cx="1854.81" cy="187.2" r="2.0" fill="#dc311e"/>
<circle cx="1884.27" cy="187.2" r="2.0" fill="#dc311e"/>
<circle cx="1886.78" cy="187.2" r="2.0" fill="#dc311e"/>
<circle cx="1889.29" cy="187.2" r="2.0" fill="#dc311e"/>
<circle cx="1894.3" cy="187.2" r="2.0" fill="#dc311e"/>
<circle cx="1900.57" cy="187.2" r="2.0" fill="#dc311e"/>
<circle cx="1875.49" cy="119.49" r="2.0" fill="#dc311e"/>
<circle cx="1879.26" cy="117.61" r="2.0" fill="#dc311e"/>
<circle cx="1873.87" cy="120.79" r="2.0" fill="#dc311e"/>
<circle cx="1874.71" cy="120.96" r="2.0" fill="#dc311e"/>
<circle cx="1875.24" cy="121.13" r="2.0" fill="#dc311e"/>
<circle cx="1876.77" cy="119.48" r="2.0" fill="#dc311e"/>
<circle cx="1877.27" cy="119.31" r="2.0" fill="#dc311e"/>
<circle cx="1878.29" cy="118.11" r="2.0" fill="#dc311e"/>
<circle cx="1878.8" cy="116.77" r="2.0" fill="#dc311e"/>
<circle cx="1879.46" cy="116.9" r="2.0" fill="#dc311e"/>
<circle cx="1879.84" cy="116.27" r="2.0" fill="#dc311e"/>
<circle cx="1881.12" cy="115.23" r="2.0" fill="#dc311e"/>
<circle cx="1881.35" cy="115.07" r="2.0" fill="#dc311e"/>
<circle cx="1882.38" cy="113.79" r="2.0" fill="#dc311e"/>
<circle cx="1882.79" cy="114.1" r="2.0" fill="#dc311e"/>
<circle cx="1883.57" cy="113.02" r="2.0" fill="#dc311e"/>
<circle cx="1884.82" cy="112.96" r="2.0" fill="#dc311e"/>
<circle cx="1884.89" cy="110.95" r="2.0" fill="#dc311e"/>
<circle cx="1886.03" cy="111.34" r="2.0" fill="#dc311e"/>
<circle cx="1886.65" cy="111.83" r="2.0" fill="#dc311e"/>
<circle cx="1887.37" cy="109.3" r="2.0" fill="#dc311e"/>
<circle cx="1888.38" cy="108.94" r="2.0" fill="#dc311e"/>
<circle cx="1888.82" cy="109.6" r="2.0" fill="#dc311e"/>
<circle cx="1889.23" cy="106.8" r="2.0" fill="#dc311e"/>
<circle cx="1890.09" cy="107.55" r="2.0" fill="#dc311e"/>
<circle cx="1891.28" cy="105.57" r="2.0" fill="#dc311e"/>
<circle cx="1891.93" cy="106.48" r="2.0" fill="#dc311e"/>
<circle cx="1892.11" cy="106.17" r="2.0" fill="#dc311e"/>
<circle cx="1893.25" cy="104.85" r="2.0" fill="#dc311e"/>
<circle cx="1893.37" cy="104.13" r="2.0" fill="#dc311e"/>
<circle cx="1894.21" cy="104.12" r="2.0" fill="#dc311e"/>
<circle cx="1894.97" cy="102.78" r="2.0" fill="#dc311e"/>
<circle cx="1895.92" cy="101.09" r="2.0" fill="#dc311e"/>
<circle cx="1896.93" cy="101.52" r="2.0" fill="#dc311e"/>
<circle cx="1896.99" cy="101.36" r="2.0" fill="#dc311e"/>
<circle cx="1897.86" cy="100.31" r="2.0" fill="#dc311e"/>
<circle cx="1899.24" cy="99.08" r="2.0" fill="#dc311e"/>
<circle cx="1899.67" cy="97.73" r="2.0" fill="#dc311e"/>
<circle cx="1899.98" cy="97.91" r="2.0" fill="#dc311e"/>
<circle cx="1901.09" cy="96.91" r="2.0" fill="#dc311e"/>
<circle cx="1901.4" cy="95.63" r="2.0" fill="#dc311e"/>
<circle cx="1902.35" cy="95.06" r="2.0" fill="#dc311e"/>
<circle cx="1903.48" cy="94.49" r="2.0" fill="#dc311e"/>
<circle cx="1903.76" cy="93.97" r="2.0" fill="#dc311e"/>
<circle cx="1904.18" cy="95.33" r="2.0" fill="#dc311e"/>
<circle cx="1905.35" cy="92.94" r="2.0" fill="#dc311e"/>
<circle cx="1906.37" cy="92.65" r="2.0" fill="#dc311e"/>
<circle cx="1907.08" cy="93.06" r="2.0" fill="#dc311e"/>
<circle cx="1907.29" cy="90.24" r="2.0" fill="#dc311e"/>
<circle cx="1907.94" cy="89.61" r="2.0" fill="#dc311e"/>
<circle cx="1909.05" cy="90.36" r="2.0" fill="#dc311e"/>
<circle cx="1910.16" cy="89.07" r="2.0" fill="#dc311e"/>
<circle cx="1910.53" cy="87.96" r="2.0" fill="#dc311e"/>
<circle cx="1911.62" cy="87.37" r="2.0" fill="#dc311e"/>
<circle cx="1912.02" cy="88.24" r="2.0" fill="#dc311e"/>
<circle cx="1912.5" cy="86.06" r="2.0" fill="#dc311e"/>
<circle cx="1913.8" cy="86.13" r="2.0" fill="#dc311e"/>
<circle cx="1913.59" cy="84.6" r="2.0" fill="#dc311e"/>
<circle cx="1915.18" cy="85.76" r="2.0" fill="#dc311e"/>
<circle cx="1915.05" cy="84.62" r="2.0" fill="#dc311e"/>
<circle cx="1916.37" cy="83.15" r="2.0" fill="#dc311e"/>
<circle cx="1916.59" cy="83.55" r="2.0" fill="#dc311e"/>
<circle cx="1917.85" cy="81.49" r="2.0" fill="#dc311e"/>
<circle cx="1918.66" cy="80.39" r="2.0" fill="#dc311e"/>
<circle cx="1918.88" cy="79.79" r="2.0" fill="#dc311e"/>
<circle cx="1919.51" cy="79.17" r="2.0" fill="#dc311e"/>
<circle cx="1920.75" cy="78.27" r="2.0" fill="#dc311e"/>
<circle cx="1920.99" cy="77.67" r="2.0" fill="#dc311e"/>
<circle cx="1921.74" cy="79.25" r="2.0" fill="#dc311e"/>
<circle cx="1923.13" cy="76.48" r="2.0" fill="#dc311e"/>
<circle cx="1923.06" cy="77.86" r="2.0" fill="#dc311e"/>
<circle cx="1924.32" cy="75.59" r="2.0" fill="#dc311e"/>
<circle cx="1925.24" cy="75.23" r="2.0" fill="#dc311e"/>
<circle cx="1925.28" cy="73.8" r="2.0" fill="#dc311e"/>
<circle cx="1926.58" cy="73.54" r="2.0" fill="#dc311e"/>
<circle cx="1927.46" cy="72.69" r="2.0" fill="#dc311e"/>
<circle cx="1927.46" cy="72.26" r="2.0" fill="#dc311e"/>
<circle cx="1928.37" cy="71.23" r="2.0" fill="#dc311e"/>
<circle cx="1929.07" cy="71.22" r="2.0" fill="#dc311e"/>
<circle cx="1930.46" cy="69.75" r="2.0" fill="#dc311e"/>
<circle cx="1930.87" cy="69.31" r="2.0" fill="#dc311e"/>
<circle cx="1931.21" cy="68.59" r="2.0" fill="#dc311e"/>
<circle cx="1932.02" cy="70.34" r="2.0" fill="#dc311e"/>
<circle cx="1933.3" cy="67.08" r="2.0" fill="#dc311e"/>
<circle cx="1934" cy="66.41" r="2.0" fill="#dc311e"/>
<circle cx="1934.12" cy="66.46" r="2.0" fill="#dc311e"/>
<circle cx="1935.36" cy="65.33" r="2.0" fill="#dc311e"/>
<circle cx="1918.14" cy="85.42" r="2.0" fill="#dc311e"/>
<circle cx="1923.4" cy="74.88" r="2.0" fill="#dc311e"/>
<circle cx="1922.49" cy="86.72" r="2.0" fill="#dc311e"/>
<circle cx="1920.31" cy="81.16" r="2.0" fill="#dc311e"/>
<circle cx="1919.51" cy="74.79" r="2.0" fill="#dc311e"/>
<circle cx="1925.85" cy="83.45" r="2.0" fill="#dc311e"/>
<circle cx="1920.1" cy="73.14" r="2.0" fill="#dc311e"/>
<circle cx="1919" cy="81.77" r="2.0" fill="#dc311e"/>
<circle cx="1923.09" cy="76.32" r="2.0" fill="#dc311e"/>
<circle cx="1920.19" cy="81.83" r="2.0" fill="#dc311e"/>
<circle cx="1925.22" cy="85.08" r="2.0" fill="#dc311e"/>
<circle cx="1923.97" cy="75.15" r="2.0" fill="#dc311e"/>
<circle cx="1918.78" cy="83.79" r="2.0" fill="#dc311e"/>
<circle cx="1922.22" cy="83.61" r="2.0" fill="#dc311e"/>
<circle cx="1911.85" cy="186.86" r="2.0" fill="#dc311e"/>
<circle cx="1913.37" cy="187.43" r="2.0" fill="#dc311e"/>
<circle cx="1914.89" cy="187.07" r="2.0" fill="#dc311e"/>
<circle cx="1916.41" cy="187.45" r="2.0" fill="#dc311e"/>
<circle cx="1917.92" cy="187.47" r="2.0" fill="#dc311e"/>
<circle cx="1919.44" cy="187.19" r="2.0" fill="#dc311e"/>
<circle cx="1920.96" cy="186.83" r="2.0" fill="#dc311e"/>
<circle cx="1922.48" cy="187.51" r="2.0" fill="#dc311e"/>
<circle cx="1924" cy="187.18" r="2.0" fill="#dc311e"/>
<circle cx="1925.51" cy="187.48" r="2.0" fill="#dc311e"/>
<circle cx="1927.03" cy="187.02" r="2.0" fill="#dc311e"/>
<circle cx="1928.55" cy="186.96" r="2.0" fill="#dc311e"/>
<circle cx="1930.07" cy="187.45" r="2.0" fill="#dc311e"/>
<circle cx="1931.58" cy="187.1" r="2.0" fill="#dc311e"/>
<circle cx="1933.1" cy="186.94" r="2.0" fill="#dc311e"/>
<circle cx="1934.62" cy="187.1" r="2.0" fill="#dc311e"/>
<circle cx="1936.14" cy="187.27" r="2.0" fill="#dc311e"/>
<circle cx="1937.65" cy="186.82" r="2.0" fill="#dc311e"/>
<circle cx="1939.17" cy="187.21" r="2.0" fill="#dc311e"/>
<circle cx="1940.69" cy="187.16" r="2.0" fill="#dc311e"/>
<rect x="1796.2" y="39.7" width="162.2" height="161.9" fill="none" stroke="#000" stroke-width="1.5"/>
<line x1="1850.57" y1="39.7" x2="1850.57" y2="201.6" stroke="#000" stroke-width="1.3"/>
<line x1="1790.2" y1="147.47" x2="1958.4" y2="147.47" stroke="#000" stroke-width="1.3"/>
<line x1="1791.2" y1="187.5" x2="1796.2" y2="187.5" stroke="#000" stroke-width="1.3"/>
<line x1="1808.9" y1="201.6" x2="1808.9" y2="206.6" stroke="#000" stroke-width="1.3"/>
<text x="1808.9" y="222.6" font-size="16.5" text-anchor="middle">0</text>
<line x1="1791.2" y1="147.47" x2="1796.2" y2="147.47" stroke="#000" stroke-width="1.3"/>
<line x1="1850.57" y1="201.6" x2="1850.57" y2="206.6" stroke="#000" stroke-width="1.3"/>
<text x="1850.57" y="222.6" font-size="16.5" text-anchor="middle">1</text>
<line x1="1791.2" y1="107.43" x2="1796.2" y2="107.43" stroke="#000" stroke-width="1.3"/>
<line x1="1892.23" y1="201.6" x2="1892.23" y2="206.6" stroke="#000" stroke-width="1.3"/>
<text x="1892.23" y="222.6" font-size="16.5" text-anchor="middle">2</text>
<line x1="1791.2" y1="67.4" x2="1796.2" y2="67.4" stroke="#000" stroke-width="1.3"/>
<line x1="1933.9" y1="201.6" x2="1933.9" y2="206.6" stroke="#000" stroke-width="1.3"/>
<text x="1933.9" y="222.6" font-size="16.5" text-anchor="middle">3</text>
<text x="1877.3" y="243.5" font-size="15" text-anchor="middle">Wuhan RBD IgG</text>
<text x="1882.5" y="19" font-size="16.3" text-anchor="middle">Om.BT+biv (viii)</text>
<text x="1879.7" y="31" font-size="11.5" text-anchor="middle">n<tspan font-size="7" dy="3">MBC</tspan><tspan dy="-3">=254 (</tspan><tspan fill="#e6503a">ACE2<tspan font-size="7.5" dy="3">inh</tspan><tspan dy="-3">=148</tspan></tspan>)</text>
<text x="1800.2" y="52.5" font-size="11.2" xml:space="preserve">0% (<tspan fill="#e6503a">0%</tspan>)</text>
<text x="1853.57" y="52.5" font-size="11.2">69% (<tspan fill="#e6503a">ACE2<tspan font-size="8" dy="3">inh</tspan><tspan dy="-3">: 70%</tspan></tspan>)</text>
<text x="1853.57" y="198.5" font-size="11.2">31% (<tspan fill="#e6503a">ACE2<tspan font-size="8" dy="3">inh</tspan><tspan dy="-3">: 30%</tspan></tspan>)</text>
<text x="679" y="294" font-size="31" font-weight="bold">d</text>
<rect x="765.2" y="353.34" width="11" height="111.66" fill="#0d94f4" stroke="#000" stroke-width="1.2"/>
<rect x="765.2" y="317.3" width="11" height="36.04" fill="#959595" stroke="#000" stroke-width="1.2"/>
<rect x="783.25" y="394.99" width="11" height="70.01" fill="#0d94f4" stroke="#000" stroke-width="1.2"/>
<rect x="783.25" y="317.3" width="11" height="77.69" fill="#959595" stroke="#000" stroke-width="1.2"/>
<rect x="801.3" y="377.27" width="11" height="87.73" fill="#0d94f4" stroke="#000" stroke-width="1.2"/>
<rect x="801.3" y="317.3" width="11" height="59.97" fill="#959595" stroke="#000" stroke-width="1.2"/>
<rect x="819.35" y="329.26" width="11" height="135.74" fill="#0d94f4" stroke="#000" stroke-width="1.2"/>
<rect x="819.35" y="317.3" width="11" height="11.96" fill="#959595" stroke="#000" stroke-width="1.2"/>
<rect x="837.4" y="332.66" width="11" height="132.34" fill="#0d94f4" stroke="#000" stroke-width="1.2"/>
<rect x="837.4" y="317.3" width="11" height="15.36" fill="#959595" stroke="#000" stroke-width="1.2"/>
<rect x="855.45" y="333.99" width="11" height="131.01" fill="#0d94f4" stroke="#000" stroke-width="1.2"/>
<rect x="855.45" y="317.3" width="11" height="16.69" fill="#959595" stroke="#000" stroke-width="1.2"/>
<rect x="873.5" y="348.61" width="11" height="116.39" fill="#0d94f4" stroke="#000" stroke-width="1.2"/>
<rect x="873.5" y="317.3" width="11" height="31.31" fill="#959595" stroke="#000" stroke-width="1.2"/>
<rect x="758.3" y="303.3" width="132.4" height="161.7" fill="none" stroke="#000" stroke-width="1.5"/>
<line x1="752.3" y1="465" x2="758.3" y2="465" stroke="#000" stroke-width="1.3"/>
<text x="750.3" y="470.04" font-size="14" text-anchor="end">0</text>
<line x1="754.8" y1="450.23" x2="758.3" y2="450.23" stroke="#000" stroke-width="1.3"/>
<line x1="754.8" y1="435.46" x2="758.3" y2="435.46" stroke="#000" stroke-width="1.3"/>
<line x1="754.8" y1="420.69" x2="758.3" y2="420.69" stroke="#000" stroke-width="1.3"/>
<line x1="754.8" y1="405.92" x2="758.3" y2="405.92" stroke="#000" stroke-width="1.3"/>
<line x1="752.3" y1="391.15" x2="758.3" y2="391.15" stroke="#000" stroke-width="1.3"/>
<text x="750.3" y="396.19" font-size="14" text-anchor="end">50</text>
<line x1="754.8" y1="376.38" x2="758.3" y2="376.38" stroke="#000" stroke-width="1.3"/>
<line x1="754.8" y1="361.61" x2="758.3" y2="361.61" stroke="#000" stroke-width="1.3"/>
<line x1="754.8" y1="346.84" x2="758.3" y2="346.84" stroke="#000" stroke-width="1.3"/>
<line x1="754.8" y1="332.07" x2="758.3" y2="332.07" stroke="#000" stroke-width="1.3"/>
<line x1="752.3" y1="317.3" x2="758.3" y2="317.3" stroke="#000" stroke-width="1.3"/>
<text x="750.3" y="322.34" font-size="14" text-anchor="end">100</text>
<line x1="752.3" y1="465" x2="758.3" y2="465" stroke="#000" stroke-width="1.3"/>
<line x1="770.7" y1="465" x2="770.7" y2="471" stroke="#000" stroke-width="1.3"/>
<line x1="788.75" y1="465" x2="788.75" y2="471" stroke="#000" stroke-width="1.3"/>
<line x1="806.8" y1="465" x2="806.8" y2="471" stroke="#000" stroke-width="1.3"/>
<line x1="824.85" y1="465" x2="824.85" y2="471" stroke="#000" stroke-width="1.3"/>
<line x1="842.9" y1="465" x2="842.9" y2="471" stroke="#000" stroke-width="1.3"/>
<line x1="860.95" y1="465" x2="860.95" y2="471" stroke="#000" stroke-width="1.3"/>
<line x1="879" y1="465" x2="879" y2="471" stroke="#000" stroke-width="1.3"/>
<text transform="translate(774.6,482.7) rotate(-45)" font-size="15.3" text-anchor="end">VC343</text>
<text transform="translate(792.65,482.7) rotate(-45)" font-size="15.3" text-anchor="end">VC338</text>
<text transform="translate(810.7,482.7) rotate(-45)" font-size="15.3" text-anchor="end">VC345</text>
<text transform="translate(828.75,482.7) rotate(-45)" font-size="15.3" text-anchor="end">VC349</text>
<text transform="translate(846.8,482.7) rotate(-45)" font-size="15.3" text-anchor="end">VC346</text>
<text transform="translate(864.85,482.7) rotate(-45)" font-size="15.3" text-anchor="end">VC348</text>
<text transform="translate(882.9,482.7) rotate(-45)" font-size="15.3" text-anchor="end">VC344</text>
<rect x="910.5" y="353.34" width="11" height="111.66" fill="#0d94f4" stroke="#000" stroke-width="1.2"/>
<rect x="910.5" y="317.3" width="11" height="36.04" fill="#959595" stroke="#000" stroke-width="1.2"/>
<rect x="928.25" y="356" width="11" height="109" fill="#0d94f4" stroke="#000" stroke-width="1.2"/>
<rect x="928.25" y="317.3" width="11" height="38.7" fill="#959595" stroke="#000" stroke-width="1.2"/>
<rect x="946" y="344.33" width="11" height="120.67" fill="#0d94f4" stroke="#000" stroke-width="1.2"/>
<rect x="946" y="317.3" width="11" height="27.03" fill="#959595" stroke="#000" stroke-width="1.2"/>
<rect x="963.75" y="408.28" width="11" height="56.72" fill="#0d94f4" stroke="#000" stroke-width="1.2"/>
<rect x="963.75" y="317.3" width="11" height="90.98" fill="#959595" stroke="#000" stroke-width="1.2"/>
<rect x="981.5" y="321.58" width="11" height="143.42" fill="#0d94f4" stroke="#000" stroke-width="1.2"/>
<rect x="981.5" y="317.3" width="11" height="4.28" fill="#959595" stroke="#000" stroke-width="1.2"/>
<rect x="904" y="303.3" width="94.3" height="161.7" fill="none" stroke="#000" stroke-width="1.5"/>
<line x1="898" y1="465" x2="904" y2="465" stroke="#000" stroke-width="1.3"/>
<line x1="900.5" y1="450.23" x2="904" y2="450.23" stroke="#000" stroke-width="1.3"/>
<line x1="900.5" y1="435.46" x2="904" y2="435.46" stroke="#000" stroke-width="1.3"/>
<line x1="900.5" y1="420.69" x2="904" y2="420.69" stroke="#000" stroke-width="1.3"/>
<line x1="900.5" y1="405.92" x2="904" y2="405.92" stroke="#000" stroke-width="1.3"/>
<line x1="898" y1="391.15" x2="904" y2="391.15" stroke="#000" stroke-width="1.3"/>
<line x1="900.5" y1="376.38" x2="904" y2="376.38" stroke="#000" stroke-width="1.3"/>
<line x1="900.5" y1="361.61" x2="904" y2="361.61" stroke="#000" stroke-width="1.3"/>
<line x1="900.5" y1="346.84" x2="904" y2="346.84" stroke="#000" stroke-width="1.3"/>
<line x1="900.5" y1="332.07" x2="904" y2="332.07" stroke="#000" stroke-width="1.3"/>
<line x1="898" y1="317.3" x2="904" y2="317.3" stroke="#000" stroke-width="1.3"/>
<line x1="898" y1="465" x2="904" y2="465" stroke="#000" stroke-width="1.3"/>
<line x1="916" y1="465" x2="916" y2="471" stroke="#000" stroke-width="1.3"/>
<line x1="933.75" y1="465" x2="933.75" y2="471" stroke="#000" stroke-width="1.3"/>
<line x1="951.5" y1="465" x2="951.5" y2="471" stroke="#000" stroke-width="1.3"/>
<line x1="969.25" y1="465" x2="969.25" y2="471" stroke="#000" stroke-width="1.3"/>
<line x1="987" y1="465" x2="987" y2="471" stroke="#000" stroke-width="1.3"/>
<text transform="translate(919.9,482.7) rotate(-45)" font-size="15.3" text-anchor="end">VC339</text>
<text transform="translate(937.65,482.7) rotate(-45)" font-size="15.3" text-anchor="end">VC340</text>
<text transform="translate(955.4,482.7) rotate(-45)" font-size="15.3" text-anchor="end">VC341</text>
<text transform="translate(973.15,482.7) rotate(-45)" font-size="15.3" text-anchor="end">VC342</text>
<text transform="translate(990.9,482.7) rotate(-45)" font-size="15.3" text-anchor="end">VC347</text>
<rect x="1055.8" y="385.98" width="11" height="79.02" fill="#fdb300" stroke="#000" stroke-width="1.2"/>
<rect x="1055.8" y="317.3" width="11" height="68.68" fill="#959595" stroke="#000" stroke-width="1.2"/>
<rect x="1073.8" y="423.35" width="11" height="41.65" fill="#fdb300" stroke="#000" stroke-width="1.2"/>
<rect x="1073.8" y="317.3" width="11" height="106.05" fill="#959595" stroke="#000" stroke-width="1.2"/>
<rect x="1091.8" y="396.32" width="11" height="68.68" fill="#fdb300" stroke="#000" stroke-width="1.2"/>
<rect x="1091.8" y="317.3" width="11" height="79.02" fill="#959595" stroke="#000" stroke-width="1.2"/>
<rect x="1109.8" y="335.61" width="11" height="129.39" fill="#fdb300" stroke="#000" stroke-width="1.2"/>
<rect x="1109.8" y="317.3" width="11" height="18.31" fill="#959595" stroke="#000" stroke-width="1.2"/>
<rect x="1127.8" y="347.58" width="11" height="117.42" fill="#fdb300" stroke="#000" stroke-width="1.2"/>
<rect x="1127.8" y="317.3" width="11" height="30.28" fill="#959595" stroke="#000" stroke-width="1.2"/>
<rect x="1145.8" y="375.64" width="11" height="89.36" fill="#fdb300" stroke="#000" stroke-width="1.2"/>
<rect x="1145.8" y="317.3" width="11" height="58.34" fill="#959595" stroke="#000" stroke-width="1.2"/>
<rect x="1163.8" y="377.27" width="11" height="87.73" fill="#fdb300" stroke="#000" stroke-width="1.2"/>
<rect x="1163.8" y="317.3" width="11" height="59.97" fill="#959595" stroke="#000" stroke-width="1.2"/>
<rect x="1050" y="303.3" width="131.2" height="161.7" fill="none" stroke="#000" stroke-width="1.5"/>
<line x1="1044" y1="465" x2="1050" y2="465" stroke="#000" stroke-width="1.3"/>
<text x="1042" y="470.04" font-size="14" text-anchor="end">0</text>
<line x1="1046.5" y1="450.23" x2="1050" y2="450.23" stroke="#000" stroke-width="1.3"/>
<line x1="1046.5" y1="435.46" x2="1050" y2="435.46" stroke="#000" stroke-width="1.3"/>
<line x1="1046.5" y1="420.69" x2="1050" y2="420.69" stroke="#000" stroke-width="1.3"/>
<line x1="1046.5" y1="405.92" x2="1050" y2="405.92" stroke="#000" stroke-width="1.3"/>
<line x1="1044" y1="391.15" x2="1050" y2="391.15" stroke="#000" stroke-width="1.3"/>
<text x="1042" y="396.19" font-size="14" text-anchor="end">50</text>
<line x1="1046.5" y1="376.38" x2="1050" y2="376.38" stroke="#000" stroke-width="1.3"/>
<line x1="1046.5" y1="361.61" x2="1050" y2="361.61" stroke="#000" stroke-width="1.3"/>
<line x1="1046.5" y1="346.84" x2="1050" y2="346.84" stroke="#000" stroke-width="1.3"/>
<line x1="1046.5" y1="332.07" x2="1050" y2="332.07" stroke="#000" stroke-width="1.3"/>
<line x1="1044" y1="317.3" x2="1050" y2="317.3" stroke="#000" stroke-width="1.3"/>
<text x="1042" y="322.34" font-size="14" text-anchor="end">100</text>
<line x1="1044" y1="465" x2="1050" y2="465" stroke="#000" stroke-width="1.3"/>
<line x1="1061.3" y1="465" x2="1061.3" y2="471" stroke="#000" stroke-width="1.3"/>
<line x1="1079.3" y1="465" x2="1079.3" y2="471" stroke="#000" stroke-width="1.3"/>
<line x1="1097.3" y1="465" x2="1097.3" y2="471" stroke="#000" stroke-width="1.3"/>
<line x1="1115.3" y1="465" x2="1115.3" y2="471" stroke="#000" stroke-width="1.3"/>
<line x1="1133.3" y1="465" x2="1133.3" y2="471" stroke="#000" stroke-width="1.3"/>
<line x1="1151.3" y1="465" x2="1151.3" y2="471" stroke="#000" stroke-width="1.3"/>
<line x1="1169.3" y1="465" x2="1169.3" y2="471" stroke="#000" stroke-width="1.3"/>
<text transform="translate(1065.2,482.7) rotate(-45)" font-size="15.3" text-anchor="end">VC343</text>
<text transform="translate(1083.2,482.7) rotate(-45)" font-size="15.3" text-anchor="end">VC338</text>
<text transform="translate(1101.2,482.7) rotate(-45)" font-size="15.3" text-anchor="end">VC345</text>
<text transform="translate(1119.2,482.7) rotate(-45)" font-size="15.3" text-anchor="end">VC349</text>
<text transform="translate(1137.2,482.7) rotate(-45)" font-size="15.3" text-anchor="end">VC346</text>
<text transform="translate(1155.2,482.7) rotate(-45)" font-size="15.3" text-anchor="end">VC348</text>
<text transform="translate(1173.2,482.7) rotate(-45)" font-size="15.3" text-anchor="end">VC344</text>
<rect x="1201.5" y="374.02" width="11" height="90.98" fill="#fdb300" stroke="#000" stroke-width="1.2"/>
<rect x="1201.5" y="317.3" width="11" height="56.72" fill="#959595" stroke="#000" stroke-width="1.2"/>
<rect x="1219.17" y="394.69" width="11" height="70.31" fill="#fdb300" stroke="#000" stroke-width="1.2"/>
<rect x="1219.17" y="317.3" width="11" height="77.39" fill="#959595" stroke="#000" stroke-width="1.2"/>
<rect x="1236.84" y="354.67" width="11" height="110.33" fill="#fdb300" stroke="#000" stroke-width="1.2"/>
<rect x="1236.84" y="317.3" width="11" height="37.37" fill="#959595" stroke="#000" stroke-width="1.2"/>
<rect x="1254.51" y="433.39" width="11" height="31.61" fill="#fdb300" stroke="#000" stroke-width="1.2"/>
<rect x="1254.51" y="317.3" width="11" height="116.09" fill="#959595" stroke="#000" stroke-width="1.2"/>
<rect x="1272.18" y="346.99" width="11" height="118.01" fill="#fdb300" stroke="#000" stroke-width="1.2"/>
<rect x="1272.18" y="317.3" width="11" height="29.69" fill="#959595" stroke="#000" stroke-width="1.2"/>
<rect x="1195" y="303.3" width="94.3" height="161.7" fill="none" stroke="#000" stroke-width="1.5"/>
<line x1="1189" y1="465" x2="1195" y2="465" stroke="#000" stroke-width="1.3"/>
<line x1="1191.5" y1="450.23" x2="1195" y2="450.23" stroke="#000" stroke-width="1.3"/>
<line x1="1191.5" y1="435.46" x2="1195" y2="435.46" stroke="#000" stroke-width="1.3"/>
<line x1="1191.5" y1="420.69" x2="1195" y2="420.69" stroke="#000" stroke-width="1.3"/>
<line x1="1191.5" y1="405.92" x2="1195" y2="405.92" stroke="#000" stroke-width="1.3"/>
<line x1="1189" y1="391.15" x2="1195" y2="391.15" stroke="#000" stroke-width="1.3"/>
<line x1="1191.5" y1="376.38" x2="1195" y2="376.38" stroke="#000" stroke-width="1.3"/>
<line x1="1191.5" y1="361.61" x2="1195" y2="361.61" stroke="#000" stroke-width="1.3"/>
<line x1="1191.5" y1="346.84" x2="1195" y2="346.84" stroke="#000" stroke-width="1.3"/>
<line x1="1191.5" y1="332.07" x2="1195" y2="332.07" stroke="#000" stroke-width="1.3"/>
<line x1="1189" y1="317.3" x2="1195" y2="317.3" stroke="#000" stroke-width="1.3"/>
<line x1="1189" y1="465" x2="1195" y2="465" stroke="#000" stroke-width="1.3"/>
<line x1="1207" y1="465" x2="1207" y2="471" stroke="#000" stroke-width="1.3"/>
<line x1="1224.67" y1="465" x2="1224.67" y2="471" stroke="#000" stroke-width="1.3"/>
<line x1="1242.34" y1="465" x2="1242.34" y2="471" stroke="#000" stroke-width="1.3"/>
<line x1="1260.01" y1="465" x2="1260.01" y2="471" stroke="#000" stroke-width="1.3"/>
<line x1="1277.68" y1="465" x2="1277.68" y2="471" stroke="#000" stroke-width="1.3"/>
<text transform="translate(1210.9,482.7) rotate(-45)" font-size="15.3" text-anchor="end">VC339</text>
<text transform="translate(1228.57,482.7) rotate(-45)" font-size="15.3" text-anchor="end">VC340</text>
<text transform="translate(1246.24,482.7) rotate(-45)" font-size="15.3" text-anchor="end">VC341</text>
<text transform="translate(1263.91,482.7) rotate(-45)" font-size="15.3" text-anchor="end">VC342</text>
<text transform="translate(1281.58,482.7) rotate(-45)" font-size="15.3" text-anchor="end">VC347</text>
<rect x="1347.5" y="385.7" width="11" height="79.6" fill="#c66fe2" stroke="#000" stroke-width="1.2"/>
<rect x="1347.5" y="316.8" width="11" height="68.9" fill="#959595" stroke="#000" stroke-width="1.2"/>
<rect x="1365.5" y="417.04" width="11" height="48.26" fill="#c66fe2" stroke="#000" stroke-width="1.2"/>
<rect x="1365.5" y="316.8" width="11" height="100.24" fill="#959595" stroke="#000" stroke-width="1.2"/>
<rect x="1383.5" y="399.22" width="11" height="66.08" fill="#c66fe2" stroke="#000" stroke-width="1.2"/>
<rect x="1383.5" y="316.8" width="11" height="82.42" fill="#959595" stroke="#000" stroke-width="1.2"/>
<rect x="1401.5" y="351.55" width="11" height="113.75" fill="#c66fe2" stroke="#000" stroke-width="1.2"/>
<rect x="1401.5" y="316.8" width="11" height="34.75" fill="#959595" stroke="#000" stroke-width="1.2"/>
<rect x="1419.5" y="361.5" width="11" height="103.8" fill="#c66fe2" stroke="#000" stroke-width="1.2"/>
<rect x="1419.5" y="316.8" width="11" height="44.7" fill="#959595" stroke="#000" stroke-width="1.2"/>
<rect x="1437.5" y="391.35" width="11" height="73.95" fill="#c66fe2" stroke="#000" stroke-width="1.2"/>
<rect x="1437.5" y="316.8" width="11" height="74.55" fill="#959595" stroke="#000" stroke-width="1.2"/>
<rect x="1455.5" y="373.68" width="11" height="91.62" fill="#c66fe2" stroke="#000" stroke-width="1.2"/>
<rect x="1455.5" y="316.8" width="11" height="56.88" fill="#959595" stroke="#000" stroke-width="1.2"/>
<rect x="1341.9" y="304" width="131.3" height="161.3" fill="none" stroke="#000" stroke-width="1.5"/>
<line x1="1335.9" y1="465.3" x2="1341.9" y2="465.3" stroke="#000" stroke-width="1.3"/>
<text x="1333.9" y="470.34" font-size="14" text-anchor="end">0</text>
<line x1="1338.4" y1="450.45" x2="1341.9" y2="450.45" stroke="#000" stroke-width="1.3"/>
<line x1="1338.4" y1="435.6" x2="1341.9" y2="435.6" stroke="#000" stroke-width="1.3"/>
<line x1="1338.4" y1="420.75" x2="1341.9" y2="420.75" stroke="#000" stroke-width="1.3"/>
<line x1="1338.4" y1="405.9" x2="1341.9" y2="405.9" stroke="#000" stroke-width="1.3"/>
<line x1="1335.9" y1="391.05" x2="1341.9" y2="391.05" stroke="#000" stroke-width="1.3"/>
<text x="1333.9" y="396.09" font-size="14" text-anchor="end">50</text>
<line x1="1338.4" y1="376.2" x2="1341.9" y2="376.2" stroke="#000" stroke-width="1.3"/>
<line x1="1338.4" y1="361.35" x2="1341.9" y2="361.35" stroke="#000" stroke-width="1.3"/>
<line x1="1338.4" y1="346.5" x2="1341.9" y2="346.5" stroke="#000" stroke-width="1.3"/>
<line x1="1338.4" y1="331.65" x2="1341.9" y2="331.65" stroke="#000" stroke-width="1.3"/>
<line x1="1335.9" y1="316.8" x2="1341.9" y2="316.8" stroke="#000" stroke-width="1.3"/>
<text x="1333.9" y="321.84" font-size="14" text-anchor="end">100</text>
<line x1="1335.9" y1="465.3" x2="1341.9" y2="465.3" stroke="#000" stroke-width="1.3"/>
<line x1="1353" y1="465.3" x2="1353" y2="471.3" stroke="#000" stroke-width="1.3"/>
<line x1="1371" y1="465.3" x2="1371" y2="471.3" stroke="#000" stroke-width="1.3"/>
<line x1="1389" y1="465.3" x2="1389" y2="471.3" stroke="#000" stroke-width="1.3"/>
<line x1="1407" y1="465.3" x2="1407" y2="471.3" stroke="#000" stroke-width="1.3"/>
<line x1="1425" y1="465.3" x2="1425" y2="471.3" stroke="#000" stroke-width="1.3"/>
<line x1="1443" y1="465.3" x2="1443" y2="471.3" stroke="#000" stroke-width="1.3"/>
<line x1="1461" y1="465.3" x2="1461" y2="471.3" stroke="#000" stroke-width="1.3"/>
<text transform="translate(1356.9,483) rotate(-45)" font-size="15.3" text-anchor="end">VC343</text>
<text transform="translate(1374.9,483) rotate(-45)" font-size="15.3" text-anchor="end">VC338</text>
<text transform="translate(1392.9,483) rotate(-45)" font-size="15.3" text-anchor="end">VC345</text>
<text transform="translate(1410.9,483) rotate(-45)" font-size="15.3" text-anchor="end">VC349</text>
<text transform="translate(1428.9,483) rotate(-45)" font-size="15.3" text-anchor="end">VC346</text>
<text transform="translate(1446.9,483) rotate(-45)" font-size="15.3" text-anchor="end">VC348</text>
<text transform="translate(1464.9,483) rotate(-45)" font-size="15.3" text-anchor="end">VC344</text>
<rect x="1492.2" y="394.32" width="11" height="70.98" fill="#c66fe2" stroke="#000" stroke-width="1.2"/>
<rect x="1492.2" y="316.8" width="11" height="77.52" fill="#959595" stroke="#000" stroke-width="1.2"/>
<rect x="1509.85" y="377.83" width="11" height="87.47" fill="#c66fe2" stroke="#000" stroke-width="1.2"/>
<rect x="1509.85" y="316.8" width="11" height="61.03" fill="#959595" stroke="#000" stroke-width="1.2"/>
<rect x="1527.5" y="351.25" width="11" height="114.05" fill="#c66fe2" stroke="#000" stroke-width="1.2"/>
<rect x="1527.5" y="316.8" width="11" height="34.45" fill="#959595" stroke="#000" stroke-width="1.2"/>
<rect x="1545.15" y="432.93" width="11" height="32.37" fill="#c66fe2" stroke="#000" stroke-width="1.2"/>
<rect x="1545.15" y="316.8" width="11" height="116.13" fill="#959595" stroke="#000" stroke-width="1.2"/>
<rect x="1562.8" y="345.16" width="11" height="120.14" fill="#c66fe2" stroke="#000" stroke-width="1.2"/>
<rect x="1562.8" y="316.8" width="11" height="28.36" fill="#959595" stroke="#000" stroke-width="1.2"/>
<rect x="1486" y="304" width="94.2" height="161.3" fill="none" stroke="#000" stroke-width="1.5"/>
<line x1="1480" y1="465.3" x2="1486" y2="465.3" stroke="#000" stroke-width="1.3"/>
<line x1="1482.5" y1="450.45" x2="1486" y2="450.45" stroke="#000" stroke-width="1.3"/>
<line x1="1482.5" y1="435.6" x2="1486" y2="435.6" stroke="#000" stroke-width="1.3"/>
<line x1="1482.5" y1="420.75" x2="1486" y2="420.75" stroke="#000" stroke-width="1.3"/>
<line x1="1482.5" y1="405.9" x2="1486" y2="405.9" stroke="#000" stroke-width="1.3"/>
<line x1="1480" y1="391.05" x2="1486" y2="391.05" stroke="#000" stroke-width="1.3"/>
<line x1="1482.5" y1="376.2" x2="1486" y2="376.2" stroke="#000" stroke-width="1.3"/>
<line x1="1482.5" y1="361.35" x2="1486" y2="361.35" stroke="#000" stroke-width="1.3"/>
<line x1="1482.5" y1="346.5" x2="1486" y2="346.5" stroke="#000" stroke-width="1.3"/>
<line x1="1482.5" y1="331.65" x2="1486" y2="331.65" stroke="#000" stroke-width="1.3"/>
<line x1="1480" y1="316.8" x2="1486" y2="316.8" stroke="#000" stroke-width="1.3"/>
<line x1="1480" y1="465.3" x2="1486" y2="465.3" stroke="#000" stroke-width="1.3"/>
<line x1="1497.7" y1="465.3" x2="1497.7" y2="471.3" stroke="#000" stroke-width="1.3"/>
<line x1="1515.35" y1="465.3" x2="1515.35" y2="471.3" stroke="#000" stroke-width="1.3"/>
<line x1="1533" y1="465.3" x2="1533" y2="471.3" stroke="#000" stroke-width="1.3"/>
<line x1="1550.65" y1="465.3" x2="1550.65" y2="471.3" stroke="#000" stroke-width="1.3"/>
<line x1="1568.3" y1="465.3" x2="1568.3" y2="471.3" stroke="#000" stroke-width="1.3"/>
<text transform="translate(1501.6,483) rotate(-45)" font-size="15.3" text-anchor="end">VC339</text>
<text transform="translate(1519.25,483) rotate(-45)" font-size="15.3" text-anchor="end">VC340</text>
<text transform="translate(1536.9,483) rotate(-45)" font-size="15.3" text-anchor="end">VC341</text>
<text transform="translate(1554.55,483) rotate(-45)" font-size="15.3" text-anchor="end">VC342</text>
<text transform="translate(1572.2,483) rotate(-45)" font-size="15.3" text-anchor="end">VC347</text>
<text x="829.7" y="295" font-size="16" text-anchor="middle">Wu/BA.1biv (vii)</text>
<text x="965.5" y="295" font-size="16" text-anchor="middle">Om.BT+biv (viii)</text>
<text x="1120.8" y="295" font-size="16" text-anchor="middle">Wu/BA.1biv (vii)</text>
<text x="1247.5" y="295" font-size="16" text-anchor="middle">Om.BT+biv (viii)</text>
<text x="1412.4" y="295" font-size="16" text-anchor="middle">Wu/BA.1biv (vii)</text>
<text x="1538.5" y="295" font-size="16" text-anchor="middle">Om.BT+biv (viii)</text>
<text transform="translate(718.1,380.2) rotate(-90)" font-size="15" text-anchor="middle" xml:space="preserve">MBC frequency  (%)</text>
<rect x="1616" y="329" width="22" height="9" fill="#959595" stroke="#000" stroke-width="1.1"/>
<text x="1649" y="339" font-size="16">Wu-specific</text>
<rect x="1616" y="350.7" width="22" height="9" fill="#0d94f4" stroke="#000" stroke-width="1.1"/>
<text x="1649" y="360.7" font-size="16">Wu/BA.1-cr.</text>
<rect x="1616" y="371.6" width="22" height="9" fill="#fdb300" stroke="#000" stroke-width="1.1"/>
<text x="1649" y="381.6" font-size="16">Wu/BQ.1.1-cr.</text>
<rect x="1616" y="394" width="22" height="9" fill="#c66fe2" stroke="#000" stroke-width="1.1"/>
<text x="1649" y="404" font-size="16">Wu/XBB.1-cr.</text>
<rect x="1616" y="416.4" width="22" height="9" fill="#f0301a" stroke="#000" stroke-width="1.1"/>
<text x="1649" y="426.4" font-size="16">BA.1-specific</text>
<text x="1649" y="438" font-size="16">BQ.1.1-specific</text>
<text x="1649" y="452" font-size="16">XBB.1-specific</text>
<text x="1751" y="294" font-size="31" font-weight="bold">e</text>
<rect x="1809.4" y="372.89" width="16" height="93.81" fill="#0d94f4" stroke="#000" stroke-width="1.2"/>
<rect x="1809.4" y="343.1" width="16" height="29.79" fill="#959595" stroke="#000" stroke-width="1.2"/>
<rect x="1834.82" y="376.1" width="16" height="90.6" fill="#0d94f4" stroke="#000" stroke-width="1.2"/>
<rect x="1834.82" y="343.1" width="16" height="33" fill="#959595" stroke="#000" stroke-width="1.2"/>
<rect x="1860.24" y="393.16" width="16" height="73.54" fill="#fdb300" stroke="#000" stroke-width="1.2"/>
<rect x="1860.24" y="343.1" width="16" height="50.06" fill="#959595" stroke="#000" stroke-width="1.2"/>
<rect x="1885.66" y="396.74" width="16" height="69.96" fill="#fdb300" stroke="#000" stroke-width="1.2"/>
<rect x="1885.66" y="343.1" width="16" height="53.64" fill="#959595" stroke="#000" stroke-width="1.2"/>
<rect x="1911.08" y="398.1" width="16" height="68.6" fill="#c66fe2" stroke="#000" stroke-width="1.2"/>
<rect x="1911.08" y="343.1" width="16" height="55" fill="#959595" stroke="#000" stroke-width="1.2"/>
<rect x="1936.5" y="396.37" width="16" height="70.33" fill="#c66fe2" stroke="#000" stroke-width="1.2"/>
<rect x="1936.5" y="343.1" width="16" height="53.27" fill="#959595" stroke="#000" stroke-width="1.2"/>
<line x1="1817.4" y1="343.1" x2="1817.4" y2="322.09" stroke="#000" stroke-width="1.0"/>
<line x1="1812.4" y1="322.09" x2="1822.4" y2="322.09" stroke="#000" stroke-width="1.0"/>
<line x1="1817.4" y1="372.89" x2="1817.4" y2="351.63" stroke="#000" stroke-width="1.0"/>
<line x1="1812.4" y1="351.63" x2="1822.4" y2="351.63" stroke="#000" stroke-width="1.0"/>
<line x1="1842.82" y1="343.1" x2="1842.82" y2="316.16" stroke="#000" stroke-width="1.0"/>
<line x1="1837.82" y1="316.16" x2="1847.82" y2="316.16" stroke="#000" stroke-width="1.0"/>
<line x1="1842.82" y1="376.1" x2="1842.82" y2="348.79" stroke="#000" stroke-width="1.0"/>
<line x1="1837.82" y1="348.79" x2="1847.82" y2="348.79" stroke="#000" stroke-width="1.0"/>
<line x1="1868.24" y1="343.1" x2="1868.24" y2="317.89" stroke="#000" stroke-width="1.0"/>
<line x1="1863.24" y1="317.89" x2="1873.24" y2="317.89" stroke="#000" stroke-width="1.0"/>
<line x1="1868.24" y1="393.16" x2="1868.24" y2="367.57" stroke="#000" stroke-width="1.0"/>
<line x1="1863.24" y1="367.57" x2="1873.24" y2="367.57" stroke="#000" stroke-width="1.0"/>
<line x1="1893.66" y1="343.1" x2="1893.66" y2="313.31" stroke="#000" stroke-width="1.0"/>
<line x1="1888.66" y1="313.31" x2="1898.66" y2="313.31" stroke="#000" stroke-width="1.0"/>
<line x1="1893.66" y1="396.74" x2="1893.66" y2="366.58" stroke="#000" stroke-width="1.0"/>
<line x1="1888.66" y1="366.58" x2="1898.66" y2="366.58" stroke="#000" stroke-width="1.0"/>
<line x1="1919.08" y1="343.1" x2="1919.08" y2="323.94" stroke="#000" stroke-width="1.0"/>
<line x1="1914.08" y1="323.94" x2="1924.08" y2="323.94" stroke="#000" stroke-width="1.0"/>
<line x1="1919.08" y1="398.1" x2="1919.08" y2="378.94" stroke="#000" stroke-width="1.0"/>
<line x1="1914.08" y1="378.94" x2="1924.08" y2="378.94" stroke="#000" stroke-width="1.0"/>
<line x1="1944.5" y1="343.1" x2="1944.5" y2="312.57" stroke="#000" stroke-width="1.0"/>
<line x1="1939.5" y1="312.57" x2="1949.5" y2="312.57" stroke="#000" stroke-width="1.0"/>
<line x1="1944.5" y1="396.37" x2="1944.5" y2="365.84" stroke="#000" stroke-width="1.0"/>
<line x1="1939.5" y1="365.84" x2="1949.5" y2="365.84" stroke="#000" stroke-width="1.0"/>
<rect x="1800.7" y="305.5" width="160.9" height="161.2" fill="none" stroke="#000" stroke-width="1.5"/>
<line x1="1794.7" y1="466.7" x2="1800.7" y2="466.7" stroke="#000" stroke-width="1.3"/>
<text x="1792.7" y="471.74" font-size="14" text-anchor="end">0</text>
<line x1="1797.2" y1="454.34" x2="1800.7" y2="454.34" stroke="#000" stroke-width="1.3"/>
<line x1="1797.2" y1="441.98" x2="1800.7" y2="441.98" stroke="#000" stroke-width="1.3"/>
<line x1="1797.2" y1="429.62" x2="1800.7" y2="429.62" stroke="#000" stroke-width="1.3"/>
<line x1="1797.2" y1="417.26" x2="1800.7" y2="417.26" stroke="#000" stroke-width="1.3"/>
<line x1="1794.7" y1="404.9" x2="1800.7" y2="404.9" stroke="#000" stroke-width="1.3"/>
<text x="1792.7" y="409.94" font-size="14" text-anchor="end">50</text>
<line x1="1797.2" y1="392.54" x2="1800.7" y2="392.54" stroke="#000" stroke-width="1.3"/>
<line x1="1797.2" y1="380.18" x2="1800.7" y2="380.18" stroke="#000" stroke-width="1.3"/>
<line x1="1797.2" y1="367.82" x2="1800.7" y2="367.82" stroke="#000" stroke-width="1.3"/>
<line x1="1797.2" y1="355.46" x2="1800.7" y2="355.46" stroke="#000" stroke-width="1.3"/>
<line x1="1794.7" y1="343.1" x2="1800.7" y2="343.1" stroke="#000" stroke-width="1.3"/>
<text x="1792.7" y="348.14" font-size="14" text-anchor="end">100</text>
<line x1="1797.2" y1="330.74" x2="1800.7" y2="330.74" stroke="#000" stroke-width="1.3"/>
<line x1="1797.2" y1="318.38" x2="1800.7" y2="318.38" stroke="#000" stroke-width="1.3"/>
<line x1="1797.2" y1="306.02" x2="1800.7" y2="306.02" stroke="#000" stroke-width="1.3"/>
<line x1="1794.7" y1="466.7" x2="1800.7" y2="466.7" stroke="#000" stroke-width="1.3"/>
<line x1="1817.4" y1="466.7" x2="1817.4" y2="472.7" stroke="#000" stroke-width="1.3"/>
<line x1="1842.82" y1="466.7" x2="1842.82" y2="472.7" stroke="#000" stroke-width="1.3"/>
<line x1="1868.24" y1="466.7" x2="1868.24" y2="472.7" stroke="#000" stroke-width="1.3"/>
<line x1="1893.66" y1="466.7" x2="1893.66" y2="472.7" stroke="#000" stroke-width="1.3"/>
<line x1="1919.08" y1="466.7" x2="1919.08" y2="472.7" stroke="#000" stroke-width="1.3"/>
<line x1="1944.5" y1="466.7" x2="1944.5" y2="472.7" stroke="#000" stroke-width="1.3"/>
<text transform="translate(1821.3,484.4) rotate(-45)" font-size="15.3" text-anchor="end">Wu/BA.1biv</text>
<text transform="translate(1846.72,484.4) rotate(-45)" font-size="15.3" text-anchor="end">Om.BT.+biv</text>
<text transform="translate(1872.14,484.4) rotate(-45)" font-size="15.3" text-anchor="end">Wu/BA.1biv</text>
<text transform="translate(1897.56,484.4) rotate(-45)" font-size="15.3" text-anchor="end">Om.BT+biv</text>
<text transform="translate(1922.98,484.4) rotate(-45)" font-size="15.3" text-anchor="end">Wu/BA.1biv</text>
<text transform="translate(1948.4,484.4) rotate(-45)" font-size="15.3" text-anchor="end">Om.BT+biv</text>
<text x="1882.7" y="291" font-size="16" text-anchor="middle">All donors</text>
<text x="679" y="570" font-size="31" font-weight="bold">f</text>
<rect x="765.2" y="727.34" width="11" height="6.96" fill="#f0301a" stroke="#000" stroke-width="1.2"/>
<rect x="765.2" y="610.93" width="11" height="116.41" fill="#0d94f4" stroke="#000" stroke-width="1.2"/>
<rect x="765.2" y="586.2" width="11" height="24.73" fill="#959595" stroke="#000" stroke-width="1.2"/>
<rect x="783.25" y="726.6" width="11" height="7.7" fill="#f0301a" stroke="#000" stroke-width="1.2"/>
<rect x="783.25" y="620.86" width="11" height="105.74" fill="#0d94f4" stroke="#000" stroke-width="1.2"/>
<rect x="783.25" y="586.2" width="11" height="34.66" fill="#959595" stroke="#000" stroke-width="1.2"/>
<rect x="801.3" y="733.71" width="11" height="0.59" fill="#f0301a" stroke="#000" stroke-width="1.2"/>
<rect x="801.3" y="619.52" width="11" height="114.19" fill="#0d94f4" stroke="#000" stroke-width="1.2"/>
<rect x="801.3" y="586.2" width="11" height="33.32" fill="#959595" stroke="#000" stroke-width="1.2"/>
<rect x="819.35" y="731.63" width="11" height="2.67" fill="#f0301a" stroke="#000" stroke-width="1.2"/>
<rect x="819.35" y="611.82" width="11" height="119.81" fill="#0d94f4" stroke="#000" stroke-width="1.2"/>
<rect x="819.35" y="586.2" width="11" height="25.62" fill="#959595" stroke="#000" stroke-width="1.2"/>
<rect x="837.4" y="730.3" width="11" height="4" fill="#f0301a" stroke="#000" stroke-width="1.2"/>
<rect x="837.4" y="606.93" width="11" height="123.37" fill="#0d94f4" stroke="#000" stroke-width="1.2"/>
<rect x="837.4" y="586.2" width="11" height="20.73" fill="#959595" stroke="#000" stroke-width="1.2"/>
<rect x="855.45" y="732.67" width="11" height="1.63" fill="#f0301a" stroke="#000" stroke-width="1.2"/>
<rect x="855.45" y="616.86" width="11" height="115.81" fill="#0d94f4" stroke="#000" stroke-width="1.2"/>
<rect x="855.45" y="586.2" width="11" height="30.66" fill="#959595" stroke="#000" stroke-width="1.2"/>
<rect x="873.5" y="730.6" width="11" height="3.7" fill="#f0301a" stroke="#000" stroke-width="1.2"/>
<rect x="873.5" y="606.19" width="11" height="124.4" fill="#0d94f4" stroke="#000" stroke-width="1.2"/>
<rect x="873.5" y="586.2" width="11" height="19.99" fill="#959595" stroke="#000" stroke-width="1.2"/>
<rect x="758.3" y="572" width="132.4" height="162.3" fill="none" stroke="#000" stroke-width="1.5"/>
<line x1="752.3" y1="734.3" x2="758.3" y2="734.3" stroke="#000" stroke-width="1.3"/>
<text x="750.3" y="739.34" font-size="14" text-anchor="end">0</text>
<line x1="754.8" y1="719.49" x2="758.3" y2="719.49" stroke="#000" stroke-width="1.3"/>
<line x1="754.8" y1="704.68" x2="758.3" y2="704.68" stroke="#000" stroke-width="1.3"/>
<line x1="754.8" y1="689.87" x2="758.3" y2="689.87" stroke="#000" stroke-width="1.3"/>
<line x1="754.8" y1="675.06" x2="758.3" y2="675.06" stroke="#000" stroke-width="1.3"/>
<line x1="752.3" y1="660.25" x2="758.3" y2="660.25" stroke="#000" stroke-width="1.3"/>
<text x="750.3" y="665.29" font-size="14" text-anchor="end">50</text>
<line x1="754.8" y1="645.44" x2="758.3" y2="645.44" stroke="#000" stroke-width="1.3"/>
<line x1="754.8" y1="630.63" x2="758.3" y2="630.63" stroke="#000" stroke-width="1.3"/>
<line x1="754.8" y1="615.82" x2="758.3" y2="615.82" stroke="#000" stroke-width="1.3"/>
<line x1="754.8" y1="601.01" x2="758.3" y2="601.01" stroke="#000" stroke-width="1.3"/>
<line x1="752.3" y1="586.2" x2="758.3" y2="586.2" stroke="#000" stroke-width="1.3"/>
<text x="750.3" y="591.24" font-size="14" text-anchor="end">100</text>
<line x1="752.3" y1="734.3" x2="758.3" y2="734.3" stroke="#000" stroke-width="1.3"/>
<line x1="770.7" y1="734.3" x2="770.7" y2="740.3" stroke="#000" stroke-width="1.3"/>
<line x1="788.75" y1="734.3" x2="788.75" y2="740.3" stroke="#000" stroke-width="1.3"/>
<line x1="806.8" y1="734.3" x2="806.8" y2="740.3" stroke="#000" stroke-width="1.3"/>
<line x1="824.85" y1="734.3" x2="824.85" y2="740.3" stroke="#000" stroke-width="1.3"/>
<line x1="842.9" y1="734.3" x2="842.9" y2="740.3" stroke="#000" stroke-width="1.3"/>
<line x1="860.95" y1="734.3" x2="860.95" y2="740.3" stroke="#000" stroke-width="1.3"/>
<line x1="879" y1="734.3" x2="879" y2="740.3" stroke="#000" stroke-width="1.3"/>
<text transform="translate(774.6,752) rotate(-45)" font-size="15.3" text-anchor="end">VC343</text>
<text transform="translate(792.65,752) rotate(-45)" font-size="15.3" text-anchor="end">VC338</text>
<text transform="translate(810.7,752) rotate(-45)" font-size="15.3" text-anchor="end">VC345</text>
<text transform="translate(828.75,752) rotate(-45)" font-size="15.3" text-anchor="end">VC349</text>
<text transform="translate(846.8,752) rotate(-45)" font-size="15.3" text-anchor="end">VC346</text>
<text transform="translate(864.85,752) rotate(-45)" font-size="15.3" text-anchor="end">VC348</text>
<text transform="translate(882.9,752) rotate(-45)" font-size="15.3" text-anchor="end">VC344</text>
<rect x="912.2" y="727.64" width="11" height="6.66" fill="#f0301a" stroke="#000" stroke-width="1.2"/>
<rect x="912.2" y="610.93" width="11" height="116.7" fill="#0d94f4" stroke="#000" stroke-width="1.2"/>
<rect x="912.2" y="586.2" width="11" height="24.73" fill="#959595" stroke="#000" stroke-width="1.2"/>
<rect x="930.07" y="726.3" width="11" height="8" fill="#f0301a" stroke="#000" stroke-width="1.2"/>
<rect x="930.07" y="606.19" width="11" height="120.11" fill="#0d94f4" stroke="#000" stroke-width="1.2"/>
<rect x="930.07" y="586.2" width="11" height="19.99" fill="#959595" stroke="#000" stroke-width="1.2"/>
<rect x="947.94" y="732.23" width="11" height="2.07" fill="#f0301a" stroke="#000" stroke-width="1.2"/>
<rect x="947.94" y="615.23" width="11" height="117" fill="#0d94f4" stroke="#000" stroke-width="1.2"/>
<rect x="947.94" y="586.2" width="11" height="29.03" fill="#959595" stroke="#000" stroke-width="1.2"/>
<rect x="965.81" y="720.97" width="11" height="13.33" fill="#f0301a" stroke="#000" stroke-width="1.2"/>
<rect x="965.81" y="634.18" width="11" height="86.79" fill="#0d94f4" stroke="#000" stroke-width="1.2"/>
<rect x="965.81" y="586.2" width="11" height="47.98" fill="#959595" stroke="#000" stroke-width="1.2"/>
<rect x="983.68" y="613.6" width="11" height="120.7" fill="#0d94f4" stroke="#000" stroke-width="1.2"/>
<rect x="983.68" y="586.2" width="11" height="27.4" fill="#959595" stroke="#000" stroke-width="1.2"/>
<rect x="906.7" y="572" width="94.1" height="162.3" fill="none" stroke="#000" stroke-width="1.5"/>
<line x1="900.7" y1="734.3" x2="906.7" y2="734.3" stroke="#000" stroke-width="1.3"/>
<line x1="903.2" y1="719.49" x2="906.7" y2="719.49" stroke="#000" stroke-width="1.3"/>
<line x1="903.2" y1="704.68" x2="906.7" y2="704.68" stroke="#000" stroke-width="1.3"/>
<line x1="903.2" y1="689.87" x2="906.7" y2="689.87" stroke="#000" stroke-width="1.3"/>
<line x1="903.2" y1="675.06" x2="906.7" y2="675.06" stroke="#000" stroke-width="1.3"/>
<line x1="900.7" y1="660.25" x2="906.7" y2="660.25" stroke="#000" stroke-width="1.3"/>
<line x1="903.2" y1="645.44" x2="906.7" y2="645.44" stroke="#000" stroke-width="1.3"/>
<line x1="903.2" y1="630.63" x2="906.7" y2="630.63" stroke="#000" stroke-width="1.3"/>
<line x1="903.2" y1="615.82" x2="906.7" y2="615.82" stroke="#000" stroke-width="1.3"/>
<line x1="903.2" y1="601.01" x2="906.7" y2="601.01" stroke="#000" stroke-width="1.3"/>
<line x1="900.7" y1="586.2" x2="906.7" y2="586.2" stroke="#000" stroke-width="1.3"/>
<line x1="900.7" y1="734.3" x2="906.7" y2="734.3" stroke="#000" stroke-width="1.3"/>
<line x1="917.7" y1="734.3" x2="917.7" y2="740.3" stroke="#000" stroke-width="1.3"/>
<line x1="935.57" y1="734.3" x2="935.57" y2="740.3" stroke="#000" stroke-width="1.3"/>
<line x1="953.44" y1="734.3" x2="953.44" y2="740.3" stroke="#000" stroke-width="1.3"/>
<line x1="971.31" y1="734.3" x2="971.31" y2="740.3" stroke="#000" stroke-width="1.3"/>
<line x1="989.18" y1="734.3" x2="989.18" y2="740.3" stroke="#000" stroke-width="1.3"/>
<text transform="translate(921.6,752) rotate(-45)" font-size="15.3" text-anchor="end">VC339</text>
<text transform="translate(939.47,752) rotate(-45)" font-size="15.3" text-anchor="end">VC340</text>
<text transform="translate(957.34,752) rotate(-45)" font-size="15.3" text-anchor="end">VC341</text>
<text transform="translate(975.21,752) rotate(-45)" font-size="15.3" text-anchor="end">VC342</text>
<text transform="translate(993.08,752) rotate(-45)" font-size="15.3" text-anchor="end">VC347</text>
<text x="830" y="563.3" font-size="16" text-anchor="middle">Wu/BA.1biv (vii)</text>
<text x="967.5" y="563.3" font-size="16" text-anchor="middle">Om.BT+biv (viii)</text>
<text transform="translate(718.1,649) rotate(-90)" font-size="15" text-anchor="middle" xml:space="preserve">MBC frequency  (%)</text>
<rect x="1008.5" y="589.5" width="22" height="9" fill="#959595" stroke="#000" stroke-width="1.1"/>
<text x="1037.5" y="598.5" font-size="16">Wu-specific</text>
<rect x="1008.5" y="607.9" width="22" height="9" fill="#0d94f4" stroke="#000" stroke-width="1.1"/>
<text x="1037.5" y="616.9" font-size="16">Cross-Reactive</text>
<rect x="1008.5" y="626.2" width="22" height="9" fill="#f0301a" stroke="#000" stroke-width="1.1"/>
<text x="1037.5" y="635.2" font-size="16">Omicron-Specific</text>
<text x="1181" y="576.8" font-size="31" font-weight="bold">g</text>
<rect x="1239.3" y="733.03" width="16" height="2.97" fill="#f0301a" stroke="#000" stroke-width="1.2"/>
<rect x="1239.3" y="635.31" width="16" height="97.72" fill="#0d94f4" stroke="#000" stroke-width="1.2"/>
<rect x="1239.3" y="612.3" width="16" height="23.01" fill="#959595" stroke="#000" stroke-width="1.2"/>
<rect x="1264.7" y="731.05" width="16" height="4.95" fill="#f0301a" stroke="#000" stroke-width="1.2"/>
<rect x="1264.7" y="637.29" width="16" height="93.76" fill="#0d94f4" stroke="#000" stroke-width="1.2"/>
<rect x="1264.7" y="612.3" width="16" height="24.99" fill="#959595" stroke="#000" stroke-width="1.2"/>
<line x1="1247.3" y1="612.3" x2="1247.3" y2="606.61" stroke="#000" stroke-width="1.0"/>
<line x1="1242.3" y1="606.61" x2="1252.3" y2="606.61" stroke="#000" stroke-width="1.0"/>
<line x1="1247.3" y1="635.31" x2="1247.3" y2="629" stroke="#000" stroke-width="1.0"/>
<line x1="1242.3" y1="629" x2="1252.3" y2="629" stroke="#000" stroke-width="1.0"/>
<line x1="1247.3" y1="733.03" x2="1247.3" y2="730.31" stroke="#000" stroke-width="1.0"/>
<line x1="1242.3" y1="730.31" x2="1252.3" y2="730.31" stroke="#000" stroke-width="1.0"/>
<line x1="1272.7" y1="612.3" x2="1272.7" y2="602.65" stroke="#000" stroke-width="1.0"/>
<line x1="1267.7" y1="602.65" x2="1277.7" y2="602.65" stroke="#000" stroke-width="1.0"/>
<line x1="1272.7" y1="637.29" x2="1272.7" y2="624.3" stroke="#000" stroke-width="1.0"/>
<line x1="1267.7" y1="624.3" x2="1277.7" y2="624.3" stroke="#000" stroke-width="1.0"/>
<line x1="1272.7" y1="731.05" x2="1272.7" y2="725.98" stroke="#000" stroke-width="1.0"/>
<line x1="1267.7" y1="725.98" x2="1277.7" y2="725.98" stroke="#000" stroke-width="1.0"/>
<rect x="1230.7" y="574.6" width="59.3" height="161.4" fill="none" stroke="#000" stroke-width="1.5"/>
<line x1="1224.7" y1="736" x2="1230.7" y2="736" stroke="#000" stroke-width="1.3"/>
<text x="1222.7" y="741.04" font-size="14" text-anchor="end">0</text>
<line x1="1227.2" y1="723.63" x2="1230.7" y2="723.63" stroke="#000" stroke-width="1.3"/>
<line x1="1227.2" y1="711.26" x2="1230.7" y2="711.26" stroke="#000" stroke-width="1.3"/>
<line x1="1227.2" y1="698.89" x2="1230.7" y2="698.89" stroke="#000" stroke-width="1.3"/>
<line x1="1227.2" y1="686.52" x2="1230.7" y2="686.52" stroke="#000" stroke-width="1.3"/>
<line x1="1224.7" y1="674.15" x2="1230.7" y2="674.15" stroke="#000" stroke-width="1.3"/>
<text x="1222.7" y="679.19" font-size="14" text-anchor="end">50</text>
<line x1="1227.2" y1="661.78" x2="1230.7" y2="661.78" stroke="#000" stroke-width="1.3"/>
<line x1="1227.2" y1="649.41" x2="1230.7" y2="649.41" stroke="#000" stroke-width="1.3"/>
<line x1="1227.2" y1="637.04" x2="1230.7" y2="637.04" stroke="#000" stroke-width="1.3"/>
<line x1="1227.2" y1="624.67" x2="1230.7" y2="624.67" stroke="#000" stroke-width="1.3"/>
<line x1="1224.7" y1="612.3" x2="1230.7" y2="612.3" stroke="#000" stroke-width="1.3"/>
<text x="1222.7" y="617.34" font-size="14" text-anchor="end">100</text>
<line x1="1227.2" y1="599.93" x2="1230.7" y2="599.93" stroke="#000" stroke-width="1.3"/>
<line x1="1227.2" y1="587.56" x2="1230.7" y2="587.56" stroke="#000" stroke-width="1.3"/>
<line x1="1227.2" y1="575.19" x2="1230.7" y2="575.19" stroke="#000" stroke-width="1.3"/>
<line x1="1224.7" y1="736" x2="1230.7" y2="736" stroke="#000" stroke-width="1.3"/>
<line x1="1247.3" y1="736" x2="1247.3" y2="742" stroke="#000" stroke-width="1.3"/>
<line x1="1272.7" y1="736" x2="1272.7" y2="742" stroke="#000" stroke-width="1.3"/>
<text transform="translate(1251.2,753.7) rotate(-45)" font-size="15.3" text-anchor="end">Wu/BA.1biv</text>
<text transform="translate(1276.6,753.7) rotate(-45)" font-size="15.3" text-anchor="end">Om.BT.+biv</text>
<text x="1260.8" y="566.7" font-size="16" text-anchor="middle">All donors</text>
<text x="1345" y="578.4" font-size="32" font-weight="bold">h</text>
<rect x="1437.9" y="728.85" width="20" height="7.35" fill="#fdb300" stroke="#000" stroke-width="1.0"/>
<rect x="1437.9" y="607.3" width="20" height="121.55" fill="#959595" stroke="#000" stroke-width="1.0"/>
<rect x="1468.1" y="607.3" width="20" height="128.9" fill="#959595" stroke="#000" stroke-width="1.0"/>
<rect x="1529.1" y="685.41" width="20" height="50.79" fill="#fdb300" stroke="#000" stroke-width="1.0"/>
<rect x="1529.1" y="607.3" width="20" height="78.11" fill="#959595" stroke="#000" stroke-width="1.0"/>
<rect x="1559.2" y="695.73" width="20" height="40.47" fill="#fdb300" stroke="#000" stroke-width="1.0"/>
<rect x="1559.2" y="607.3" width="20" height="88.43" fill="#959595" stroke="#000" stroke-width="1.0"/>
<line x1="1447.7" y1="607.3" x2="1447.7" y2="599.05" stroke="#222" stroke-width="1.0"/>
<line x1="1442.7" y1="599.05" x2="1452.7" y2="599.05" stroke="#222" stroke-width="1.0"/>
<line x1="1447.7" y1="728.85" x2="1447.7" y2="720.22" stroke="#222" stroke-width="1.0"/>
<line x1="1442.7" y1="720.22" x2="1452.7" y2="720.22" stroke="#222" stroke-width="1.0"/>
<line x1="1539" y1="607.3" x2="1539" y2="595.96" stroke="#222" stroke-width="1.0"/>
<line x1="1534" y1="595.96" x2="1544" y2="595.96" stroke="#222" stroke-width="1.0"/>
<line x1="1539" y1="685.41" x2="1539" y2="674.07" stroke="#222" stroke-width="1.0"/>
<line x1="1534" y1="674.07" x2="1544" y2="674.07" stroke="#222" stroke-width="1.0"/>
<line x1="1569.3" y1="607.3" x2="1569.3" y2="595.05" stroke="#222" stroke-width="1.0"/>
<line x1="1564.3" y1="595.05" x2="1574.3" y2="595.05" stroke="#222" stroke-width="1.0"/>
<line x1="1569.3" y1="695.73" x2="1569.3" y2="683.35" stroke="#222" stroke-width="1.0"/>
<line x1="1564.3" y1="683.35" x2="1574.3" y2="683.35" stroke="#222" stroke-width="1.0"/>
<rect x="1427.4" y="574.3" width="162.1" height="161.9" fill="none" stroke="#555" stroke-width="1.2"/>
<line x1="1423.1" y1="736.2" x2="1427.4" y2="736.2" stroke="#555" stroke-width="1.1"/>
<text x="1418.8" y="741.24" font-size="14" text-anchor="end">0</text>
<line x1="1424.4" y1="723.31" x2="1427.4" y2="723.31" stroke="#555" stroke-width="1.1"/>
<line x1="1424.4" y1="710.42" x2="1427.4" y2="710.42" stroke="#555" stroke-width="1.1"/>
<line x1="1424.4" y1="697.53" x2="1427.4" y2="697.53" stroke="#555" stroke-width="1.1"/>
<line x1="1424.4" y1="684.64" x2="1427.4" y2="684.64" stroke="#555" stroke-width="1.1"/>
<line x1="1423.1" y1="671.75" x2="1427.4" y2="671.75" stroke="#555" stroke-width="1.1"/>
<text x="1418.8" y="676.79" font-size="14" text-anchor="end">50</text>
<line x1="1424.4" y1="658.86" x2="1427.4" y2="658.86" stroke="#555" stroke-width="1.1"/>
<line x1="1424.4" y1="645.97" x2="1427.4" y2="645.97" stroke="#555" stroke-width="1.1"/>
<line x1="1424.4" y1="633.08" x2="1427.4" y2="633.08" stroke="#555" stroke-width="1.1"/>
<line x1="1424.4" y1="620.19" x2="1427.4" y2="620.19" stroke="#555" stroke-width="1.1"/>
<line x1="1423.1" y1="607.3" x2="1427.4" y2="607.3" stroke="#555" stroke-width="1.1"/>
<text x="1418.8" y="612.34" font-size="14" text-anchor="end">100</text>
<line x1="1424.4" y1="594.41" x2="1427.4" y2="594.41" stroke="#555" stroke-width="1.1"/>
<line x1="1424.4" y1="581.52" x2="1427.4" y2="581.52" stroke="#555" stroke-width="1.1"/>
<line x1="1423.1" y1="736.2" x2="1427.4" y2="736.2" stroke="#555" stroke-width="1.1"/>
<line x1="1447.9" y1="736.2" x2="1447.9" y2="742.2" stroke="#555" stroke-width="1.1"/>
<line x1="1478.1" y1="736.2" x2="1478.1" y2="742.2" stroke="#555" stroke-width="1.1"/>
<line x1="1539.1" y1="736.2" x2="1539.1" y2="742.2" stroke="#555" stroke-width="1.1"/>
<line x1="1569.2" y1="736.2" x2="1569.2" y2="742.2" stroke="#555" stroke-width="1.1"/>
<line x1="1508.5" y1="736.2" x2="1508.5" y2="742.2" stroke="#555" stroke-width="1.1"/>
<text transform="translate(1451.8,753.9) rotate(-45)" font-size="15" text-anchor="end">Wu/BA.1biv</text>
<text transform="translate(1482,753.9) rotate(-45)" font-size="15" text-anchor="end">Om.BT.+biv</text>
<text transform="translate(1543,753.9) rotate(-45)" font-size="15" text-anchor="end">Wu/BA.1biv</text>
<text transform="translate(1573.1,753.9) rotate(-45)" font-size="15" text-anchor="end">Om.BT.+biv</text>
<text x="1460.7" y="550.7" font-size="16" text-anchor="middle">Om.pool-</text>
<text x="1460.7" y="566" font-size="16" text-anchor="middle">specific</text>
<text x="1553" y="550.7" font-size="16" text-anchor="middle">Wu/Om.pool-</text>
<text x="1553" y="566" font-size="16" text-anchor="middle">cross-reactive</text>
<text transform="translate(1387.5,652.9) rotate(-90)" font-size="15" text-anchor="middle" xml:space="preserve">MBC frequency  (%)</text>
<rect x="1621" y="589.5" width="22" height="9" fill="#959595" stroke="#000" stroke-width="1.1"/>
<text x="1647" y="598.5" font-size="16">Om.pool</text>
<rect x="1621" y="607.8" width="22" height="9" fill="#fdb300" stroke="#000" stroke-width="1.1"/>
<text x="1647" y="616.8" font-size="16">Om.pool/BQ.1.1</text>
<rect x="1621" y="628.2" width="22" height="9" fill="#f0301a" stroke="#000" stroke-width="1.1"/>
<text x="1647" y="637.2" font-size="16">BQ.1.1-specific</text>
<text x="4" y="866" font-size="31" font-weight="bold">i</text>
<rect x="87.15" y="925.81" width="10.5" height="98.99" fill="#0d94f4" stroke="#000" stroke-width="1.2"/>
<rect x="87.15" y="880.5" width="10.5" height="45.31" fill="#959595" stroke="#000" stroke-width="1.2"/>
<rect x="103.35" y="916.72" width="10.5" height="108.08" fill="#0d94f4" stroke="#000" stroke-width="1.2"/>
<rect x="103.35" y="880.5" width="10.5" height="36.22" fill="#959595" stroke="#000" stroke-width="1.2"/>
<rect x="119.55" y="937.21" width="10.5" height="87.59" fill="#0d94f4" stroke="#000" stroke-width="1.2"/>
<rect x="119.55" y="880.5" width="10.5" height="56.71" fill="#959595" stroke="#000" stroke-width="1.2"/>
<rect x="135.75" y="931.29" width="10.5" height="93.51" fill="#0d94f4" stroke="#000" stroke-width="1.2"/>
<rect x="135.75" y="880.5" width="10.5" height="50.79" fill="#959595" stroke="#000" stroke-width="1.2"/>
<rect x="151.95" y="913.83" width="10.5" height="110.97" fill="#0d94f4" stroke="#000" stroke-width="1.2"/>
<rect x="151.95" y="880.5" width="10.5" height="33.33" fill="#959595" stroke="#000" stroke-width="1.2"/>
<rect x="168.15" y="947.31" width="10.5" height="77.49" fill="#0d94f4" stroke="#000" stroke-width="1.2"/>
<rect x="168.15" y="880.5" width="10.5" height="66.81" fill="#959595" stroke="#000" stroke-width="1.2"/>
<rect x="184.35" y="934.18" width="10.5" height="90.62" fill="#0d94f4" stroke="#000" stroke-width="1.2"/>
<rect x="184.35" y="880.5" width="10.5" height="53.68" fill="#959595" stroke="#000" stroke-width="1.2"/>
<rect x="81.7" y="862.9" width="118.8" height="161.9" fill="none" stroke="#000" stroke-width="1.5"/>
<line x1="75.7" y1="1024.8" x2="81.7" y2="1024.8" stroke="#000" stroke-width="1.3"/>
<text x="73.7" y="1029.84" font-size="14" text-anchor="end">0</text>
<line x1="78.2" y1="1010.37" x2="81.7" y2="1010.37" stroke="#000" stroke-width="1.3"/>
<line x1="78.2" y1="995.94" x2="81.7" y2="995.94" stroke="#000" stroke-width="1.3"/>
<line x1="78.2" y1="981.51" x2="81.7" y2="981.51" stroke="#000" stroke-width="1.3"/>
<line x1="78.2" y1="967.08" x2="81.7" y2="967.08" stroke="#000" stroke-width="1.3"/>
<line x1="75.7" y1="952.65" x2="81.7" y2="952.65" stroke="#000" stroke-width="1.3"/>
<text x="73.7" y="957.69" font-size="14" text-anchor="end">50</text>
<line x1="78.2" y1="938.22" x2="81.7" y2="938.22" stroke="#000" stroke-width="1.3"/>
<line x1="78.2" y1="923.79" x2="81.7" y2="923.79" stroke="#000" stroke-width="1.3"/>
<line x1="78.2" y1="909.36" x2="81.7" y2="909.36" stroke="#000" stroke-width="1.3"/>
<line x1="78.2" y1="894.93" x2="81.7" y2="894.93" stroke="#000" stroke-width="1.3"/>
<line x1="75.7" y1="880.5" x2="81.7" y2="880.5" stroke="#000" stroke-width="1.3"/>
<text x="73.7" y="885.54" font-size="14" text-anchor="end">100</text>
<line x1="78.2" y1="866.07" x2="81.7" y2="866.07" stroke="#000" stroke-width="1.3"/>
<line x1="75.7" y1="1024.8" x2="81.7" y2="1024.8" stroke="#000" stroke-width="1.3"/>
<line x1="92.4" y1="1024.8" x2="92.4" y2="1030.8" stroke="#000" stroke-width="1.3"/>
<line x1="108.6" y1="1024.8" x2="108.6" y2="1030.8" stroke="#000" stroke-width="1.3"/>
<line x1="124.8" y1="1024.8" x2="124.8" y2="1030.8" stroke="#000" stroke-width="1.3"/>
<line x1="141" y1="1024.8" x2="141" y2="1030.8" stroke="#000" stroke-width="1.3"/>
<line x1="157.2" y1="1024.8" x2="157.2" y2="1030.8" stroke="#000" stroke-width="1.3"/>
<line x1="173.4" y1="1024.8" x2="173.4" y2="1030.8" stroke="#000" stroke-width="1.3"/>
<line x1="189.6" y1="1024.8" x2="189.6" y2="1030.8" stroke="#000" stroke-width="1.3"/>
<text transform="translate(96.3,1042.5) rotate(-45)" font-size="15.3" text-anchor="end">17H</text>
<text transform="translate(112.5,1042.5) rotate(-45)" font-size="15.3" text-anchor="end">25H</text>
<text transform="translate(128.7,1042.5) rotate(-45)" font-size="15.3" text-anchor="end">27H</text>
<text transform="translate(144.9,1042.5) rotate(-45)" font-size="15.3" text-anchor="end">30H 4X</text>
<text transform="translate(161.1,1042.5) rotate(-45)" font-size="15.3" text-anchor="end">71H 4X</text>
<text transform="translate(177.3,1042.5) rotate(-45)" font-size="15.3" text-anchor="end">76H 4X</text>
<text transform="translate(193.5,1042.5) rotate(-45)" font-size="15.3" text-anchor="end">8H</text>
<rect x="219.05" y="999.19" width="10.5" height="23.41" fill="#0d94f4" stroke="#000" stroke-width="1.2"/>
<rect x="219.05" y="879" width="10.5" height="120.19" fill="#959595" stroke="#000" stroke-width="1.2"/>
<rect x="235.25" y="920.64" width="10.5" height="101.96" fill="#0d94f4" stroke="#000" stroke-width="1.2"/>
<rect x="235.25" y="879" width="10.5" height="41.64" fill="#959595" stroke="#000" stroke-width="1.2"/>
<rect x="251.45" y="903.56" width="10.5" height="119.04" fill="#0d94f4" stroke="#000" stroke-width="1.2"/>
<rect x="251.45" y="879" width="10.5" height="24.56" fill="#959595" stroke="#000" stroke-width="1.2"/>
<rect x="267.65" y="929.55" width="10.5" height="93.05" fill="#0d94f4" stroke="#000" stroke-width="1.2"/>
<rect x="267.65" y="879" width="10.5" height="50.55" fill="#959595" stroke="#000" stroke-width="1.2"/>
<rect x="283.85" y="987.42" width="10.5" height="35.18" fill="#0d94f4" stroke="#000" stroke-width="1.2"/>
<rect x="283.85" y="879" width="10.5" height="108.42" fill="#959595" stroke="#000" stroke-width="1.2"/>
<rect x="300.05" y="911.17" width="10.5" height="111.43" fill="#0d94f4" stroke="#000" stroke-width="1.2"/>
<rect x="300.05" y="879" width="10.5" height="32.17" fill="#959595" stroke="#000" stroke-width="1.2"/>
<rect x="316.25" y="902.41" width="10.5" height="120.19" fill="#0d94f4" stroke="#000" stroke-width="1.2"/>
<rect x="316.25" y="879" width="10.5" height="23.41" fill="#959595" stroke="#000" stroke-width="1.2"/>
<rect x="332.45" y="896.38" width="10.5" height="126.22" fill="#0d94f4" stroke="#000" stroke-width="1.2"/>
<rect x="332.45" y="879" width="10.5" height="17.38" fill="#959595" stroke="#000" stroke-width="1.2"/>
<rect x="348.65" y="911.17" width="10.5" height="111.43" fill="#0d94f4" stroke="#000" stroke-width="1.2"/>
<rect x="348.65" y="879" width="10.5" height="32.17" fill="#959595" stroke="#000" stroke-width="1.2"/>
<rect x="213.6" y="860.7" width="150.7" height="161.9" fill="none" stroke="#000" stroke-width="1.5"/>
<line x1="207.6" y1="1022.6" x2="213.6" y2="1022.6" stroke="#000" stroke-width="1.3"/>
<line x1="210.1" y1="1008.24" x2="213.6" y2="1008.24" stroke="#000" stroke-width="1.3"/>
<line x1="210.1" y1="993.88" x2="213.6" y2="993.88" stroke="#000" stroke-width="1.3"/>
<line x1="210.1" y1="979.52" x2="213.6" y2="979.52" stroke="#000" stroke-width="1.3"/>
<line x1="210.1" y1="965.16" x2="213.6" y2="965.16" stroke="#000" stroke-width="1.3"/>
<line x1="207.6" y1="950.8" x2="213.6" y2="950.8" stroke="#000" stroke-width="1.3"/>
<line x1="210.1" y1="936.44" x2="213.6" y2="936.44" stroke="#000" stroke-width="1.3"/>
<line x1="210.1" y1="922.08" x2="213.6" y2="922.08" stroke="#000" stroke-width="1.3"/>
<line x1="210.1" y1="907.72" x2="213.6" y2="907.72" stroke="#000" stroke-width="1.3"/>
<line x1="210.1" y1="893.36" x2="213.6" y2="893.36" stroke="#000" stroke-width="1.3"/>
<line x1="207.6" y1="879" x2="213.6" y2="879" stroke="#000" stroke-width="1.3"/>
<line x1="210.1" y1="864.64" x2="213.6" y2="864.64" stroke="#000" stroke-width="1.3"/>
<line x1="207.6" y1="1022.6" x2="213.6" y2="1022.6" stroke="#000" stroke-width="1.3"/>
<line x1="224.3" y1="1022.6" x2="224.3" y2="1028.6" stroke="#000" stroke-width="1.3"/>
<line x1="240.5" y1="1022.6" x2="240.5" y2="1028.6" stroke="#000" stroke-width="1.3"/>
<line x1="256.7" y1="1022.6" x2="256.7" y2="1028.6" stroke="#000" stroke-width="1.3"/>
<line x1="272.9" y1="1022.6" x2="272.9" y2="1028.6" stroke="#000" stroke-width="1.3"/>
<line x1="289.1" y1="1022.6" x2="289.1" y2="1028.6" stroke="#000" stroke-width="1.3"/>
<line x1="305.3" y1="1022.6" x2="305.3" y2="1028.6" stroke="#000" stroke-width="1.3"/>
<line x1="321.5" y1="1022.6" x2="321.5" y2="1028.6" stroke="#000" stroke-width="1.3"/>
<line x1="337.7" y1="1022.6" x2="337.7" y2="1028.6" stroke="#000" stroke-width="1.3"/>
<line x1="353.9" y1="1022.6" x2="353.9" y2="1028.6" stroke="#000" stroke-width="1.3"/>
<text transform="translate(228.2,1040.3) rotate(-45)" font-size="15.3" text-anchor="end">12H</text>
<text transform="translate(244.4,1040.3) rotate(-45)" font-size="15.3" text-anchor="end">16H</text>
<text transform="translate(260.6,1040.3) rotate(-45)" font-size="15.3" text-anchor="end">30H-5X</text>
<text transform="translate(276.8,1040.3) rotate(-45)" font-size="15.3" text-anchor="end">31H</text>
<text transform="translate(293,1040.3) rotate(-45)" font-size="15.3" text-anchor="end">46H</text>
<text transform="translate(309.2,1040.3) rotate(-45)" font-size="15.3" text-anchor="end">54H</text>
<text transform="translate(325.4,1040.3) rotate(-45)" font-size="15.3" text-anchor="end">57H</text>
<text transform="translate(341.6,1040.3) rotate(-45)" font-size="15.3" text-anchor="end">71H 5X</text>
<text transform="translate(357.8,1040.3) rotate(-45)" font-size="15.3" text-anchor="end">76H 5X</text>
<rect x="380" y="925.89" width="11.4" height="95.31" fill="#0d94f4" stroke="#000" stroke-width="1.2"/>
<rect x="380" y="878.3" width="11.4" height="47.59" fill="#959595" stroke="#000" stroke-width="1.2"/>
<rect x="399.6" y="911.17" width="11.4" height="110.03" fill="#0d94f4" stroke="#000" stroke-width="1.2"/>
<rect x="399.6" y="878.3" width="11.4" height="32.87" fill="#959595" stroke="#000" stroke-width="1.2"/>
<rect x="419.2" y="947.32" width="11.4" height="73.88" fill="#0d94f4" stroke="#000" stroke-width="1.2"/>
<rect x="419.2" y="878.3" width="11.4" height="69.02" fill="#959595" stroke="#000" stroke-width="1.2"/>
<rect x="438.8" y="925.89" width="11.4" height="95.31" fill="#0d94f4" stroke="#000" stroke-width="1.2"/>
<rect x="438.8" y="878.3" width="11.4" height="47.59" fill="#959595" stroke="#000" stroke-width="1.2"/>
<rect x="372.6" y="860" width="85" height="161.2" fill="none" stroke="#000" stroke-width="1.5"/>
<line x1="366.6" y1="1021.2" x2="372.6" y2="1021.2" stroke="#000" stroke-width="1.3"/>
<line x1="369.1" y1="1006.91" x2="372.6" y2="1006.91" stroke="#000" stroke-width="1.3"/>
<line x1="369.1" y1="992.62" x2="372.6" y2="992.62" stroke="#000" stroke-width="1.3"/>
<line x1="369.1" y1="978.33" x2="372.6" y2="978.33" stroke="#000" stroke-width="1.3"/>
<line x1="369.1" y1="964.04" x2="372.6" y2="964.04" stroke="#000" stroke-width="1.3"/>
<line x1="366.6" y1="949.75" x2="372.6" y2="949.75" stroke="#000" stroke-width="1.3"/>
<line x1="369.1" y1="935.46" x2="372.6" y2="935.46" stroke="#000" stroke-width="1.3"/>
<line x1="369.1" y1="921.17" x2="372.6" y2="921.17" stroke="#000" stroke-width="1.3"/>
<line x1="369.1" y1="906.88" x2="372.6" y2="906.88" stroke="#000" stroke-width="1.3"/>
<line x1="369.1" y1="892.59" x2="372.6" y2="892.59" stroke="#000" stroke-width="1.3"/>
<line x1="366.6" y1="878.3" x2="372.6" y2="878.3" stroke="#000" stroke-width="1.3"/>
<line x1="369.1" y1="864.01" x2="372.6" y2="864.01" stroke="#000" stroke-width="1.3"/>
<line x1="366.6" y1="1021.2" x2="372.6" y2="1021.2" stroke="#000" stroke-width="1.3"/>
<line x1="385.7" y1="1021.2" x2="385.7" y2="1027.2" stroke="#000" stroke-width="1.3"/>
<line x1="405.3" y1="1021.2" x2="405.3" y2="1027.2" stroke="#000" stroke-width="1.3"/>
<line x1="424.9" y1="1021.2" x2="424.9" y2="1027.2" stroke="#000" stroke-width="1.3"/>
<line x1="444.5" y1="1021.2" x2="444.5" y2="1027.2" stroke="#000" stroke-width="1.3"/>
<text transform="translate(389.6,1038.9) rotate(-45)" font-size="15.3" text-anchor="end">110C</text>
<text transform="translate(409.2,1038.9) rotate(-45)" font-size="15.3" text-anchor="end">63C</text>
<text transform="translate(428.8,1038.9) rotate(-45)" font-size="15.3" text-anchor="end">71C</text>
<text transform="translate(448.4,1038.9) rotate(-45)" font-size="15.3" text-anchor="end">87C</text>
<rect x="85.25" y="1165.91" width="10.5" height="111.89" fill="#0d94f4" stroke="#000" stroke-width="1.2"/>
<rect x="85.25" y="1133.8" width="10.5" height="32.11" fill="#959595" stroke="#000" stroke-width="1.2"/>
<rect x="101.6" y="1141" width="10.5" height="136.8" fill="#0d94f4" stroke="#000" stroke-width="1.2"/>
<rect x="101.6" y="1133.8" width="10.5" height="7.2" fill="#959595" stroke="#000" stroke-width="1.2"/>
<rect x="117.95" y="1176.14" width="10.5" height="101.66" fill="#0d94f4" stroke="#000" stroke-width="1.2"/>
<rect x="117.95" y="1133.8" width="10.5" height="42.34" fill="#959595" stroke="#000" stroke-width="1.2"/>
<rect x="134.3" y="1173.26" width="10.5" height="104.54" fill="#0d94f4" stroke="#000" stroke-width="1.2"/>
<rect x="134.3" y="1133.8" width="10.5" height="39.46" fill="#959595" stroke="#000" stroke-width="1.2"/>
<rect x="150.65" y="1177.29" width="10.5" height="100.51" fill="#0d94f4" stroke="#000" stroke-width="1.2"/>
<rect x="150.65" y="1133.8" width="10.5" height="43.49" fill="#959595" stroke="#000" stroke-width="1.2"/>
<rect x="167" y="1163.03" width="10.5" height="114.77" fill="#0d94f4" stroke="#000" stroke-width="1.2"/>
<rect x="167" y="1133.8" width="10.5" height="29.23" fill="#959595" stroke="#000" stroke-width="1.2"/>
<rect x="183.35" y="1145.18" width="10.5" height="132.62" fill="#0d94f4" stroke="#000" stroke-width="1.2"/>
<rect x="183.35" y="1133.8" width="10.5" height="11.38" fill="#959595" stroke="#000" stroke-width="1.2"/>
<rect x="199.7" y="1174.98" width="10.5" height="102.82" fill="#0d94f4" stroke="#000" stroke-width="1.2"/>
<rect x="199.7" y="1133.8" width="10.5" height="41.18" fill="#959595" stroke="#000" stroke-width="1.2"/>
<rect x="216.05" y="1164.47" width="10.5" height="113.33" fill="#0d94f4" stroke="#000" stroke-width="1.2"/>
<rect x="216.05" y="1133.8" width="10.5" height="30.67" fill="#959595" stroke="#000" stroke-width="1.2"/>
<rect x="232.4" y="1158.28" width="10.5" height="119.52" fill="#0d94f4" stroke="#000" stroke-width="1.2"/>
<rect x="232.4" y="1133.8" width="10.5" height="24.48" fill="#959595" stroke="#000" stroke-width="1.2"/>
<rect x="248.75" y="1264.26" width="10.5" height="13.54" fill="#f0301a" stroke="#000" stroke-width="1.2"/>
<rect x="248.75" y="1206.66" width="10.5" height="57.6" fill="#0d94f4" stroke="#000" stroke-width="1.2"/>
<rect x="248.75" y="1133.8" width="10.5" height="72.86" fill="#959595" stroke="#000" stroke-width="1.2"/>
<rect x="265.1" y="1180.46" width="10.5" height="97.34" fill="#0d94f4" stroke="#000" stroke-width="1.2"/>
<rect x="265.1" y="1133.8" width="10.5" height="46.66" fill="#959595" stroke="#000" stroke-width="1.2"/>
<rect x="281.45" y="1206.66" width="10.5" height="71.14" fill="#0d94f4" stroke="#000" stroke-width="1.2"/>
<rect x="281.45" y="1133.8" width="10.5" height="72.86" fill="#959595" stroke="#000" stroke-width="1.2"/>
<rect x="297.8" y="1163.03" width="10.5" height="114.77" fill="#0d94f4" stroke="#000" stroke-width="1.2"/>
<rect x="297.8" y="1133.8" width="10.5" height="29.23" fill="#959595" stroke="#000" stroke-width="1.2"/>
<rect x="314.15" y="1133.8" width="10.5" height="144" fill="#0d94f4" stroke="#000" stroke-width="1.2"/>
<rect x="330.5" y="1158.86" width="10.5" height="118.94" fill="#0d94f4" stroke="#000" stroke-width="1.2"/>
<rect x="330.5" y="1133.8" width="10.5" height="25.06" fill="#959595" stroke="#000" stroke-width="1.2"/>
<rect x="79.8" y="1116.2" width="266.6" height="161.6" fill="none" stroke="#000" stroke-width="1.5"/>
<line x1="73.8" y1="1277.8" x2="79.8" y2="1277.8" stroke="#000" stroke-width="1.3"/>
<text x="71.8" y="1282.84" font-size="14" text-anchor="end">0</text>
<line x1="76.3" y1="1263.4" x2="79.8" y2="1263.4" stroke="#000" stroke-width="1.3"/>
<line x1="76.3" y1="1249" x2="79.8" y2="1249" stroke="#000" stroke-width="1.3"/>
<line x1="76.3" y1="1234.6" x2="79.8" y2="1234.6" stroke="#000" stroke-width="1.3"/>
<line x1="76.3" y1="1220.2" x2="79.8" y2="1220.2" stroke="#000" stroke-width="1.3"/>
<line x1="73.8" y1="1205.8" x2="79.8" y2="1205.8" stroke="#000" stroke-width="1.3"/>
<text x="71.8" y="1210.84" font-size="14" text-anchor="end">50</text>
<line x1="76.3" y1="1191.4" x2="79.8" y2="1191.4" stroke="#000" stroke-width="1.3"/>
<line x1="76.3" y1="1177" x2="79.8" y2="1177" stroke="#000" stroke-width="1.3"/>
<line x1="76.3" y1="1162.6" x2="79.8" y2="1162.6" stroke="#000" stroke-width="1.3"/>
<line x1="76.3" y1="1148.2" x2="79.8" y2="1148.2" stroke="#000" stroke-width="1.3"/>
<line x1="73.8" y1="1133.8" x2="79.8" y2="1133.8" stroke="#000" stroke-width="1.3"/>
<text x="71.8" y="1138.84" font-size="14" text-anchor="end">100</text>
<line x1="76.3" y1="1119.4" x2="79.8" y2="1119.4" stroke="#000" stroke-width="1.3"/>
<line x1="73.8" y1="1277.8" x2="79.8" y2="1277.8" stroke="#000" stroke-width="1.3"/>
<line x1="90.5" y1="1277.8" x2="90.5" y2="1283.8" stroke="#000" stroke-width="1.3"/>
<line x1="106.85" y1="1277.8" x2="106.85" y2="1283.8" stroke="#000" stroke-width="1.3"/>
<line x1="123.2" y1="1277.8" x2="123.2" y2="1283.8" stroke="#000" stroke-width="1.3"/>
<line x1="139.55" y1="1277.8" x2="139.55" y2="1283.8" stroke="#000" stroke-width="1.3"/>
<line x1="155.9" y1="1277.8" x2="155.9" y2="1283.8" stroke="#000" stroke-width="1.3"/>
<line x1="172.25" y1="1277.8" x2="172.25" y2="1283.8" stroke="#000" stroke-width="1.3"/>
<line x1="188.6" y1="1277.8" x2="188.6" y2="1283.8" stroke="#000" stroke-width="1.3"/>
<line x1="204.95" y1="1277.8" x2="204.95" y2="1283.8" stroke="#000" stroke-width="1.3"/>
<line x1="221.3" y1="1277.8" x2="221.3" y2="1283.8" stroke="#000" stroke-width="1.3"/>
<line x1="237.65" y1="1277.8" x2="237.65" y2="1283.8" stroke="#000" stroke-width="1.3"/>
<line x1="254" y1="1277.8" x2="254" y2="1283.8" stroke="#000" stroke-width="1.3"/>
<line x1="270.35" y1="1277.8" x2="270.35" y2="1283.8" stroke="#000" stroke-width="1.3"/>
<line x1="286.7" y1="1277.8" x2="286.7" y2="1283.8" stroke="#000" stroke-width="1.3"/>
<line x1="303.05" y1="1277.8" x2="303.05" y2="1283.8" stroke="#000" stroke-width="1.3"/>
<line x1="319.4" y1="1277.8" x2="319.4" y2="1283.8" stroke="#000" stroke-width="1.3"/>
<line x1="335.75" y1="1277.8" x2="335.75" y2="1283.8" stroke="#000" stroke-width="1.3"/>
<text transform="translate(94.4,1295.5) rotate(-45)" font-size="15.3" text-anchor="end">269C</text>
<text transform="translate(110.75,1295.5) rotate(-45)" font-size="15.3" text-anchor="end">318C</text>
<text transform="translate(127.1,1295.5) rotate(-45)" font-size="15.3" text-anchor="end">319C</text>
<text transform="translate(143.45,1295.5) rotate(-45)" font-size="15.3" text-anchor="end">324C</text>
<text transform="translate(159.8,1295.5) rotate(-45)" font-size="15.3" text-anchor="end">331C</text>
<text transform="translate(176.15,1295.5) rotate(-45)" font-size="15.3" text-anchor="end">345C</text>
<text transform="translate(192.5,1295.5) rotate(-45)" font-size="15.3" text-anchor="end">388C</text>
<text transform="translate(208.85,1295.5) rotate(-45)" font-size="15.3" text-anchor="end">400C</text>
<text transform="translate(225.2,1295.5) rotate(-45)" font-size="15.3" text-anchor="end">403C</text>
<text transform="translate(241.55,1295.5) rotate(-45)" font-size="15.3" text-anchor="end">407C</text>
<text transform="translate(257.9,1295.5) rotate(-45)" font-size="15.3" text-anchor="end">414C</text>
<text transform="translate(274.25,1295.5) rotate(-45)" font-size="15.3" text-anchor="end">415C</text>
<text transform="translate(290.6,1295.5) rotate(-45)" font-size="15.3" text-anchor="end">424C</text>
<text transform="translate(306.95,1295.5) rotate(-45)" font-size="15.3" text-anchor="end">425C</text>
<text transform="translate(323.3,1295.5) rotate(-45)" font-size="15.3" text-anchor="end">445C</text>
<text transform="translate(339.65,1295.5) rotate(-45)" font-size="15.3" text-anchor="end">56H</text>
<text x="143.5" y="849.3" font-size="16" text-anchor="middle" xml:space="preserve">Wu<tspan font-size="11" dx="-1.8" dy="4">4</tspan><tspan dx="1.2" dy="-4">vacc  (i)</tspan></text>
<text x="294.6" y="851.7" font-size="16" text-anchor="middle" xml:space="preserve">Wu/BA.5biv  (ii)</text>
<text x="420" y="851.7" font-size="16" text-anchor="middle">preOm+biv (iii)</text>
<text x="218" y="1107.4" font-size="16" text-anchor="middle">Om.BT+biv (iv)</text>
<rect x="520.25" y="935.19" width="10.5" height="89.61" fill="#fdb300" stroke="#000" stroke-width="1.2"/>
<rect x="520.25" y="880.5" width="10.5" height="54.69" fill="#959595" stroke="#000" stroke-width="1.2"/>
<rect x="536.45" y="935.19" width="10.5" height="89.61" fill="#fdb300" stroke="#000" stroke-width="1.2"/>
<rect x="536.45" y="880.5" width="10.5" height="54.69" fill="#959595" stroke="#000" stroke-width="1.2"/>
<rect x="552.65" y="949.91" width="10.5" height="74.89" fill="#fdb300" stroke="#000" stroke-width="1.2"/>
<rect x="552.65" y="880.5" width="10.5" height="69.41" fill="#959595" stroke="#000" stroke-width="1.2"/>
<rect x="568.85" y="953.95" width="10.5" height="70.85" fill="#fdb300" stroke="#000" stroke-width="1.2"/>
<rect x="568.85" y="880.5" width="10.5" height="73.45" fill="#959595" stroke="#000" stroke-width="1.2"/>
<rect x="585.05" y="938.94" width="10.5" height="85.86" fill="#fdb300" stroke="#000" stroke-width="1.2"/>
<rect x="585.05" y="880.5" width="10.5" height="58.44" fill="#959595" stroke="#000" stroke-width="1.2"/>
<rect x="601.25" y="971.26" width="10.5" height="53.54" fill="#fdb300" stroke="#000" stroke-width="1.2"/>
<rect x="601.25" y="880.5" width="10.5" height="90.76" fill="#959595" stroke="#000" stroke-width="1.2"/>
<rect x="617.45" y="953.95" width="10.5" height="70.85" fill="#fdb300" stroke="#000" stroke-width="1.2"/>
<rect x="617.45" y="880.5" width="10.5" height="73.45" fill="#959595" stroke="#000" stroke-width="1.2"/>
<rect x="514.8" y="862.9" width="119" height="161.9" fill="none" stroke="#000" stroke-width="1.5"/>
<line x1="508.8" y1="1024.8" x2="514.8" y2="1024.8" stroke="#000" stroke-width="1.3"/>
<text x="506.8" y="1029.84" font-size="14" text-anchor="end">0</text>
<line x1="511.3" y1="1010.37" x2="514.8" y2="1010.37" stroke="#000" stroke-width="1.3"/>
<line x1="511.3" y1="995.94" x2="514.8" y2="995.94" stroke="#000" stroke-width="1.3"/>
<line x1="511.3" y1="981.51" x2="514.8" y2="981.51" stroke="#000" stroke-width="1.3"/>
<line x1="511.3" y1="967.08" x2="514.8" y2="967.08" stroke="#000" stroke-width="1.3"/>
<line x1="508.8" y1="952.65" x2="514.8" y2="952.65" stroke="#000" stroke-width="1.3"/>
<text x="506.8" y="957.69" font-size="14" text-anchor="end">50</text>
<line x1="511.3" y1="938.22" x2="514.8" y2="938.22" stroke="#000" stroke-width="1.3"/>
<line x1="511.3" y1="923.79" x2="514.8" y2="923.79" stroke="#000" stroke-width="1.3"/>
<line x1="511.3" y1="909.36" x2="514.8" y2="909.36" stroke="#000" stroke-width="1.3"/>
<line x1="511.3" y1="894.93" x2="514.8" y2="894.93" stroke="#000" stroke-width="1.3"/>
<line x1="508.8" y1="880.5" x2="514.8" y2="880.5" stroke="#000" stroke-width="1.3"/>
<text x="506.8" y="885.54" font-size="14" text-anchor="end">100</text>
<line x1="511.3" y1="866.07" x2="514.8" y2="866.07" stroke="#000" stroke-width="1.3"/>
<line x1="508.8" y1="1024.8" x2="514.8" y2="1024.8" stroke="#000" stroke-width="1.3"/>
<line x1="525.5" y1="1024.8" x2="525.5" y2="1030.8" stroke="#000" stroke-width="1.3"/>
<line x1="541.7" y1="1024.8" x2="541.7" y2="1030.8" stroke="#000" stroke-width="1.3"/>
<line x1="557.9" y1="1024.8" x2="557.9" y2="1030.8" stroke="#000" stroke-width="1.3"/>
<line x1="574.1" y1="1024.8" x2="574.1" y2="1030.8" stroke="#000" stroke-width="1.3"/>
<line x1="590.3" y1="1024.8" x2="590.3" y2="1030.8" stroke="#000" stroke-width="1.3"/>
<line x1="606.5" y1="1024.8" x2="606.5" y2="1030.8" stroke="#000" stroke-width="1.3"/>
<line x1="622.7" y1="1024.8" x2="622.7" y2="1030.8" stroke="#000" stroke-width="1.3"/>
<text transform="translate(529.4,1042.5) rotate(-45)" font-size="15.3" text-anchor="end">17H</text>
<text transform="translate(545.6,1042.5) rotate(-45)" font-size="15.3" text-anchor="end">25H</text>
<text transform="translate(561.8,1042.5) rotate(-45)" font-size="15.3" text-anchor="end">27H</text>
<text transform="translate(578,1042.5) rotate(-45)" font-size="15.3" text-anchor="end">30H 4X</text>
<text transform="translate(594.2,1042.5) rotate(-45)" font-size="15.3" text-anchor="end">71H 4X</text>
<text transform="translate(610.4,1042.5) rotate(-45)" font-size="15.3" text-anchor="end">76H 4X</text>
<text transform="translate(626.6,1042.5) rotate(-45)" font-size="15.3" text-anchor="end">8H</text>
<rect x="654.25" y="999.77" width="10.5" height="22.83" fill="#fdb300" stroke="#000" stroke-width="1.2"/>
<rect x="654.25" y="879" width="10.5" height="120.77" fill="#959595" stroke="#000" stroke-width="1.2"/>
<rect x="670.45" y="951.81" width="10.5" height="70.79" fill="#fdb300" stroke="#000" stroke-width="1.2"/>
<rect x="670.45" y="879" width="10.5" height="72.81" fill="#959595" stroke="#000" stroke-width="1.2"/>
<rect x="686.65" y="951.81" width="10.5" height="70.79" fill="#fdb300" stroke="#000" stroke-width="1.2"/>
<rect x="686.65" y="879" width="10.5" height="72.81" fill="#959595" stroke="#000" stroke-width="1.2"/>
<rect x="702.85" y="965.02" width="10.5" height="57.58" fill="#fdb300" stroke="#000" stroke-width="1.2"/>
<rect x="702.85" y="879" width="10.5" height="86.02" fill="#959595" stroke="#000" stroke-width="1.2"/>
<rect x="719.05" y="987.56" width="10.5" height="35.04" fill="#fdb300" stroke="#000" stroke-width="1.2"/>
<rect x="719.05" y="879" width="10.5" height="108.56" fill="#959595" stroke="#000" stroke-width="1.2"/>
<rect x="735.25" y="924.52" width="10.5" height="98.08" fill="#fdb300" stroke="#000" stroke-width="1.2"/>
<rect x="735.25" y="879" width="10.5" height="45.52" fill="#959595" stroke="#000" stroke-width="1.2"/>
<rect x="751.45" y="920.21" width="10.5" height="102.39" fill="#fdb300" stroke="#000" stroke-width="1.2"/>
<rect x="751.45" y="879" width="10.5" height="41.21" fill="#959595" stroke="#000" stroke-width="1.2"/>
<rect x="767.65" y="1018.29" width="10.5" height="4.31" fill="#f0301a" stroke="#000" stroke-width="1.2"/>
<rect x="767.65" y="901.4" width="10.5" height="116.89" fill="#fdb300" stroke="#000" stroke-width="1.2"/>
<rect x="767.65" y="879" width="10.5" height="22.4" fill="#959595" stroke="#000" stroke-width="1.2"/>
<rect x="783.85" y="927.39" width="10.5" height="95.21" fill="#fdb300" stroke="#000" stroke-width="1.2"/>
<rect x="783.85" y="879" width="10.5" height="48.39" fill="#959595" stroke="#000" stroke-width="1.2"/>
<rect x="649" y="860.7" width="151" height="161.9" fill="none" stroke="#000" stroke-width="1.5"/>
<line x1="643" y1="1022.6" x2="649" y2="1022.6" stroke="#000" stroke-width="1.3"/>
<line x1="645.5" y1="1008.24" x2="649" y2="1008.24" stroke="#000" stroke-width="1.3"/>
<line x1="645.5" y1="993.88" x2="649" y2="993.88" stroke="#000" stroke-width="1.3"/>
<line x1="645.5" y1="979.52" x2="649" y2="979.52" stroke="#000" stroke-width="1.3"/>
<line x1="645.5" y1="965.16" x2="649" y2="965.16" stroke="#000" stroke-width="1.3"/>
<line x1="643" y1="950.8" x2="649" y2="950.8" stroke="#000" stroke-width="1.3"/>
<line x1="645.5" y1="936.44" x2="649" y2="936.44" stroke="#000" stroke-width="1.3"/>
<line x1="645.5" y1="922.08" x2="649" y2="922.08" stroke="#000" stroke-width="1.3"/>
<line x1="645.5" y1="907.72" x2="649" y2="907.72" stroke="#000" stroke-width="1.3"/>
<line x1="645.5" y1="893.36" x2="649" y2="893.36" stroke="#000" stroke-width="1.3"/>
<line x1="643" y1="879" x2="649" y2="879" stroke="#000" stroke-width="1.3"/>
<line x1="645.5" y1="864.64" x2="649" y2="864.64" stroke="#000" stroke-width="1.3"/>
<line x1="643" y1="1022.6" x2="649" y2="1022.6" stroke="#000" stroke-width="1.3"/>
<line x1="659.5" y1="1022.6" x2="659.5" y2="1028.6" stroke="#000" stroke-width="1.3"/>
<line x1="675.7" y1="1022.6" x2="675.7" y2="1028.6" stroke="#000" stroke-width="1.3"/>
<line x1="691.9" y1="1022.6" x2="691.9" y2="1028.6" stroke="#000" stroke-width="1.3"/>
<line x1="708.1" y1="1022.6" x2="708.1" y2="1028.6" stroke="#000" stroke-width="1.3"/>
<line x1="724.3" y1="1022.6" x2="724.3" y2="1028.6" stroke="#000" stroke-width="1.3"/>
<line x1="740.5" y1="1022.6" x2="740.5" y2="1028.6" stroke="#000" stroke-width="1.3"/>
<line x1="756.7" y1="1022.6" x2="756.7" y2="1028.6" stroke="#000" stroke-width="1.3"/>
<line x1="772.9" y1="1022.6" x2="772.9" y2="1028.6" stroke="#000" stroke-width="1.3"/>
<line x1="789.1" y1="1022.6" x2="789.1" y2="1028.6" stroke="#000" stroke-width="1.3"/>
<text transform="translate(663.4,1040.3) rotate(-45)" font-size="15.3" text-anchor="end">12H</text>
<text transform="translate(679.6,1040.3) rotate(-45)" font-size="15.3" text-anchor="end">16H</text>
<text transform="translate(695.8,1040.3) rotate(-45)" font-size="15.3" text-anchor="end">30H-5X</text>
<text transform="translate(712,1040.3) rotate(-45)" font-size="15.3" text-anchor="end">31H</text>
<text transform="translate(728.2,1040.3) rotate(-45)" font-size="15.3" text-anchor="end">46H</text>
<text transform="translate(744.4,1040.3) rotate(-45)" font-size="15.3" text-anchor="end">54H</text>
<text transform="translate(760.6,1040.3) rotate(-45)" font-size="15.3" text-anchor="end">57H</text>
<text transform="translate(776.8,1040.3) rotate(-45)" font-size="15.3" text-anchor="end">71H 5X</text>
<text transform="translate(793,1040.3) rotate(-45)" font-size="15.3" text-anchor="end">76H 5X</text>
<rect x="820.7" y="975.04" width="11.4" height="46.16" fill="#fdb300" stroke="#000" stroke-width="1.2"/>
<rect x="820.7" y="878.3" width="11.4" height="96.74" fill="#959595" stroke="#000" stroke-width="1.2"/>
<rect x="840.3" y="943.61" width="11.4" height="77.59" fill="#fdb300" stroke="#000" stroke-width="1.2"/>
<rect x="840.3" y="878.3" width="11.4" height="65.31" fill="#959595" stroke="#000" stroke-width="1.2"/>
<rect x="859.9" y="972.33" width="11.4" height="48.87" fill="#fdb300" stroke="#000" stroke-width="1.2"/>
<rect x="859.9" y="878.3" width="11.4" height="94.03" fill="#959595" stroke="#000" stroke-width="1.2"/>
<rect x="879.5" y="926.17" width="11.4" height="95.03" fill="#fdb300" stroke="#000" stroke-width="1.2"/>
<rect x="879.5" y="878.3" width="11.4" height="47.87" fill="#959595" stroke="#000" stroke-width="1.2"/>
<rect x="813.6" y="860" width="85" height="161.2" fill="none" stroke="#000" stroke-width="1.5"/>
<line x1="807.6" y1="1021.2" x2="813.6" y2="1021.2" stroke="#000" stroke-width="1.3"/>
<line x1="810.1" y1="1006.91" x2="813.6" y2="1006.91" stroke="#000" stroke-width="1.3"/>
<line x1="810.1" y1="992.62" x2="813.6" y2="992.62" stroke="#000" stroke-width="1.3"/>
<line x1="810.1" y1="978.33" x2="813.6" y2="978.33" stroke="#000" stroke-width="1.3"/>
<line x1="810.1" y1="964.04" x2="813.6" y2="964.04" stroke="#000" stroke-width="1.3"/>
<line x1="807.6" y1="949.75" x2="813.6" y2="949.75" stroke="#000" stroke-width="1.3"/>
<line x1="810.1" y1="935.46" x2="813.6" y2="935.46" stroke="#000" stroke-width="1.3"/>
<line x1="810.1" y1="921.17" x2="813.6" y2="921.17" stroke="#000" stroke-width="1.3"/>
<line x1="810.1" y1="906.88" x2="813.6" y2="906.88" stroke="#000" stroke-width="1.3"/>
<line x1="810.1" y1="892.59" x2="813.6" y2="892.59" stroke="#000" stroke-width="1.3"/>
<line x1="807.6" y1="878.3" x2="813.6" y2="878.3" stroke="#000" stroke-width="1.3"/>
<line x1="810.1" y1="864.01" x2="813.6" y2="864.01" stroke="#000" stroke-width="1.3"/>
<line x1="807.6" y1="1021.2" x2="813.6" y2="1021.2" stroke="#000" stroke-width="1.3"/>
<line x1="826.4" y1="1021.2" x2="826.4" y2="1027.2" stroke="#000" stroke-width="1.3"/>
<line x1="846" y1="1021.2" x2="846" y2="1027.2" stroke="#000" stroke-width="1.3"/>
<line x1="865.6" y1="1021.2" x2="865.6" y2="1027.2" stroke="#000" stroke-width="1.3"/>
<line x1="885.2" y1="1021.2" x2="885.2" y2="1027.2" stroke="#000" stroke-width="1.3"/>
<text transform="translate(830.3,1038.9) rotate(-45)" font-size="15.3" text-anchor="end">110C</text>
<text transform="translate(849.9,1038.9) rotate(-45)" font-size="15.3" text-anchor="end">63C</text>
<text transform="translate(869.5,1038.9) rotate(-45)" font-size="15.3" text-anchor="end">71C</text>
<text transform="translate(889.1,1038.9) rotate(-45)" font-size="15.3" text-anchor="end">87C</text>
<rect x="520.45" y="1206.38" width="10.5" height="71.42" fill="#fdb300" stroke="#000" stroke-width="1.2"/>
<rect x="520.45" y="1133.8" width="10.5" height="72.58" fill="#959595" stroke="#000" stroke-width="1.2"/>
<rect x="536.8" y="1158.86" width="10.5" height="118.94" fill="#fdb300" stroke="#000" stroke-width="1.2"/>
<rect x="536.8" y="1133.8" width="10.5" height="25.06" fill="#959595" stroke="#000" stroke-width="1.2"/>
<rect x="553.15" y="1175.99" width="10.5" height="101.81" fill="#fdb300" stroke="#000" stroke-width="1.2"/>
<rect x="553.15" y="1133.8" width="10.5" height="42.19" fill="#959595" stroke="#000" stroke-width="1.2"/>
<rect x="569.5" y="1226.68" width="10.5" height="51.12" fill="#fdb300" stroke="#000" stroke-width="1.2"/>
<rect x="569.5" y="1133.8" width="10.5" height="92.88" fill="#959595" stroke="#000" stroke-width="1.2"/>
<rect x="585.85" y="1206.38" width="10.5" height="71.42" fill="#fdb300" stroke="#000" stroke-width="1.2"/>
<rect x="585.85" y="1133.8" width="10.5" height="72.58" fill="#959595" stroke="#000" stroke-width="1.2"/>
<rect x="602.2" y="1191.4" width="10.5" height="86.4" fill="#fdb300" stroke="#000" stroke-width="1.2"/>
<rect x="602.2" y="1133.8" width="10.5" height="57.6" fill="#959595" stroke="#000" stroke-width="1.2"/>
<rect x="618.55" y="1167.64" width="10.5" height="110.16" fill="#fdb300" stroke="#000" stroke-width="1.2"/>
<rect x="618.55" y="1133.8" width="10.5" height="33.84" fill="#959595" stroke="#000" stroke-width="1.2"/>
<rect x="634.9" y="1186.36" width="10.5" height="91.44" fill="#fdb300" stroke="#000" stroke-width="1.2"/>
<rect x="634.9" y="1133.8" width="10.5" height="52.56" fill="#959595" stroke="#000" stroke-width="1.2"/>
<rect x="651.25" y="1186.36" width="10.5" height="91.44" fill="#fdb300" stroke="#000" stroke-width="1.2"/>
<rect x="651.25" y="1133.8" width="10.5" height="52.56" fill="#959595" stroke="#000" stroke-width="1.2"/>
<rect x="667.6" y="1206.38" width="10.5" height="71.42" fill="#fdb300" stroke="#000" stroke-width="1.2"/>
<rect x="667.6" y="1133.8" width="10.5" height="72.58" fill="#959595" stroke="#000" stroke-width="1.2"/>
<rect x="683.95" y="1230.86" width="10.5" height="46.94" fill="#fdb300" stroke="#000" stroke-width="1.2"/>
<rect x="683.95" y="1133.8" width="10.5" height="97.06" fill="#959595" stroke="#000" stroke-width="1.2"/>
<rect x="700.3" y="1204.5" width="10.5" height="73.3" fill="#fdb300" stroke="#000" stroke-width="1.2"/>
<rect x="700.3" y="1133.8" width="10.5" height="70.7" fill="#959595" stroke="#000" stroke-width="1.2"/>
<rect x="716.65" y="1133.8" width="10.5" height="144" fill="#959595" stroke="#000" stroke-width="1.2"/>
<rect x="733" y="1220.63" width="10.5" height="57.17" fill="#fdb300" stroke="#000" stroke-width="1.2"/>
<rect x="733" y="1133.8" width="10.5" height="86.83" fill="#959595" stroke="#000" stroke-width="1.2"/>
<rect x="749.35" y="1160.01" width="10.5" height="117.79" fill="#fdb300" stroke="#000" stroke-width="1.2"/>
<rect x="749.35" y="1133.8" width="10.5" height="26.21" fill="#959595" stroke="#000" stroke-width="1.2"/>
<rect x="765.7" y="1230.86" width="10.5" height="46.94" fill="#fdb300" stroke="#000" stroke-width="1.2"/>
<rect x="765.7" y="1133.8" width="10.5" height="97.06" fill="#959595" stroke="#000" stroke-width="1.2"/>
<rect x="515.5" y="1116.2" width="266.6" height="161.6" fill="none" stroke="#000" stroke-width="1.5"/>
<line x1="509.5" y1="1277.8" x2="515.5" y2="1277.8" stroke="#000" stroke-width="1.3"/>
<text x="507.5" y="1282.84" font-size="14" text-anchor="end">0</text>
<line x1="512" y1="1263.4" x2="515.5" y2="1263.4" stroke="#000" stroke-width="1.3"/>
<line x1="512" y1="1249" x2="515.5" y2="1249" stroke="#000" stroke-width="1.3"/>
<line x1="512" y1="1234.6" x2="515.5" y2="1234.6" stroke="#000" stroke-width="1.3"/>
<line x1="512" y1="1220.2" x2="515.5" y2="1220.2" stroke="#000" stroke-width="1.3"/>
<line x1="509.5" y1="1205.8" x2="515.5" y2="1205.8" stroke="#000" stroke-width="1.3"/>
<text x="507.5" y="1210.84" font-size="14" text-anchor="end">50</text>
<line x1="512" y1="1191.4" x2="515.5" y2="1191.4" stroke="#000" stroke-width="1.3"/>
<line x1="512" y1="1177" x2="515.5" y2="1177" stroke="#000" stroke-width="1.3"/>
<line x1="512" y1="1162.6" x2="515.5" y2="1162.6" stroke="#000" stroke-width="1.3"/>
<line x1="512" y1="1148.2" x2="515.5" y2="1148.2" stroke="#000" stroke-width="1.3"/>
<line x1="509.5" y1="1133.8" x2="515.5" y2="1133.8" stroke="#000" stroke-width="1.3"/>
<text x="507.5" y="1138.84" font-size="14" text-anchor="end">100</text>
<line x1="512" y1="1119.4" x2="515.5" y2="1119.4" stroke="#000" stroke-width="1.3"/>
<line x1="509.5" y1="1277.8" x2="515.5" y2="1277.8" stroke="#000" stroke-width="1.3"/>
<line x1="525.7" y1="1277.8" x2="525.7" y2="1283.8" stroke="#000" stroke-width="1.3"/>
<line x1="542.05" y1="1277.8" x2="542.05" y2="1283.8" stroke="#000" stroke-width="1.3"/>
<line x1="558.4" y1="1277.8" x2="558.4" y2="1283.8" stroke="#000" stroke-width="1.3"/>
<line x1="574.75" y1="1277.8" x2="574.75" y2="1283.8" stroke="#000" stroke-width="1.3"/>
<line x1="591.1" y1="1277.8" x2="591.1" y2="1283.8" stroke="#000" stroke-width="1.3"/>
<line x1="607.45" y1="1277.8" x2="607.45" y2="1283.8" stroke="#000" stroke-width="1.3"/>
<line x1="623.8" y1="1277.8" x2="623.8" y2="1283.8" stroke="#000" stroke-width="1.3"/>
<line x1="640.15" y1="1277.8" x2="640.15" y2="1283.8" stroke="#000" stroke-width="1.3"/>
<line x1="656.5" y1="1277.8" x2="656.5" y2="1283.8" stroke="#000" stroke-width="1.3"/>
<line x1="672.85" y1="1277.8" x2="672.85" y2="1283.8" stroke="#000" stroke-width="1.3"/>
<line x1="689.2" y1="1277.8" x2="689.2" y2="1283.8" stroke="#000" stroke-width="1.3"/>
<line x1="705.55" y1="1277.8" x2="705.55" y2="1283.8" stroke="#000" stroke-width="1.3"/>
<line x1="721.9" y1="1277.8" x2="721.9" y2="1283.8" stroke="#000" stroke-width="1.3"/>
<line x1="738.25" y1="1277.8" x2="738.25" y2="1283.8" stroke="#000" stroke-width="1.3"/>
<line x1="754.6" y1="1277.8" x2="754.6" y2="1283.8" stroke="#000" stroke-width="1.3"/>
<line x1="770.95" y1="1277.8" x2="770.95" y2="1283.8" stroke="#000" stroke-width="1.3"/>
<text transform="translate(529.6,1295.5) rotate(-45)" font-size="15.3" text-anchor="end">269C</text>
<text transform="translate(545.95,1295.5) rotate(-45)" font-size="15.3" text-anchor="end">318C</text>
<text transform="translate(562.3,1295.5) rotate(-45)" font-size="15.3" text-anchor="end">319C</text>
<text transform="translate(578.65,1295.5) rotate(-45)" font-size="15.3" text-anchor="end">324C</text>
<text transform="translate(595,1295.5) rotate(-45)" font-size="15.3" text-anchor="end">331C</text>
<text transform="translate(611.35,1295.5) rotate(-45)" font-size="15.3" text-anchor="end">345C</text>
<text transform="translate(627.7,1295.5) rotate(-45)" font-size="15.3" text-anchor="end">388C</text>
<text transform="translate(644.05,1295.5) rotate(-45)" font-size="15.3" text-anchor="end">400C</text>
<text transform="translate(660.4,1295.5) rotate(-45)" font-size="15.3" text-anchor="end">403C</text>
<text transform="translate(676.75,1295.5) rotate(-45)" font-size="15.3" text-anchor="end">407C</text>
<text transform="translate(693.1,1295.5) rotate(-45)" font-size="15.3" text-anchor="end">414C</text>
<text transform="translate(709.45,1295.5) rotate(-45)" font-size="15.3" text-anchor="end">415C</text>
<text transform="translate(725.8,1295.5) rotate(-45)" font-size="15.3" text-anchor="end">424C</text>
<text transform="translate(742.15,1295.5) rotate(-45)" font-size="15.3" text-anchor="end">425C</text>
<text transform="translate(758.5,1295.5) rotate(-45)" font-size="15.3" text-anchor="end">445C</text>
<text transform="translate(774.85,1295.5) rotate(-45)" font-size="15.3" text-anchor="end">56H</text>
<text x="576.5" y="849.3" font-size="16" text-anchor="middle" xml:space="preserve">Wu<tspan font-size="11" dx="-1.8" dy="4">4</tspan><tspan dx="1.2" dy="-4">vacc  (i)</tspan></text>
<text x="729.2" y="851.7" font-size="16" text-anchor="middle" xml:space="preserve">Wu/BA.5biv  (ii)</text>
<text x="860.7" y="851.7" font-size="16" text-anchor="middle">preOm+biv (iii)</text>
<text x="653.5" y="1107.4" font-size="16" text-anchor="middle">Om.BT+biv (iv)</text>
<rect x="972.15" y="934.76" width="10.5" height="90.04" fill="#c66fe2" stroke="#000" stroke-width="1.2"/>
<rect x="972.15" y="880.5" width="10.5" height="54.26" fill="#959595" stroke="#000" stroke-width="1.2"/>
<rect x="988.35" y="934.76" width="10.5" height="90.04" fill="#c66fe2" stroke="#000" stroke-width="1.2"/>
<rect x="988.35" y="880.5" width="10.5" height="54.26" fill="#959595" stroke="#000" stroke-width="1.2"/>
<rect x="1004.55" y="940.67" width="10.5" height="84.13" fill="#c66fe2" stroke="#000" stroke-width="1.2"/>
<rect x="1004.55" y="880.5" width="10.5" height="60.17" fill="#959595" stroke="#000" stroke-width="1.2"/>
<rect x="1020.75" y="931.58" width="10.5" height="93.22" fill="#c66fe2" stroke="#000" stroke-width="1.2"/>
<rect x="1020.75" y="880.5" width="10.5" height="51.08" fill="#959595" stroke="#000" stroke-width="1.2"/>
<rect x="1036.95" y="926.39" width="10.5" height="98.41" fill="#c66fe2" stroke="#000" stroke-width="1.2"/>
<rect x="1036.95" y="880.5" width="10.5" height="45.89" fill="#959595" stroke="#000" stroke-width="1.2"/>
<rect x="1053.15" y="980.64" width="10.5" height="44.16" fill="#c66fe2" stroke="#000" stroke-width="1.2"/>
<rect x="1053.15" y="880.5" width="10.5" height="100.14" fill="#959595" stroke="#000" stroke-width="1.2"/>
<rect x="1069.35" y="953.52" width="10.5" height="71.28" fill="#c66fe2" stroke="#000" stroke-width="1.2"/>
<rect x="1069.35" y="880.5" width="10.5" height="73.02" fill="#959595" stroke="#000" stroke-width="1.2"/>
<rect x="966.7" y="862.9" width="118.5" height="161.9" fill="none" stroke="#000" stroke-width="1.5"/>
<line x1="960.7" y1="1024.8" x2="966.7" y2="1024.8" stroke="#000" stroke-width="1.3"/>
<text x="958.7" y="1029.84" font-size="14" text-anchor="end">0</text>
<line x1="963.2" y1="1010.37" x2="966.7" y2="1010.37" stroke="#000" stroke-width="1.3"/>
<line x1="963.2" y1="995.94" x2="966.7" y2="995.94" stroke="#000" stroke-width="1.3"/>
<line x1="963.2" y1="981.51" x2="966.7" y2="981.51" stroke="#000" stroke-width="1.3"/>
<line x1="963.2" y1="967.08" x2="966.7" y2="967.08" stroke="#000" stroke-width="1.3"/>
<line x1="960.7" y1="952.65" x2="966.7" y2="952.65" stroke="#000" stroke-width="1.3"/>
<text x="958.7" y="957.69" font-size="14" text-anchor="end">50</text>
<line x1="963.2" y1="938.22" x2="966.7" y2="938.22" stroke="#000" stroke-width="1.3"/>
<line x1="963.2" y1="923.79" x2="966.7" y2="923.79" stroke="#000" stroke-width="1.3"/>
<line x1="963.2" y1="909.36" x2="966.7" y2="909.36" stroke="#000" stroke-width="1.3"/>
<line x1="963.2" y1="894.93" x2="966.7" y2="894.93" stroke="#000" stroke-width="1.3"/>
<line x1="960.7" y1="880.5" x2="966.7" y2="880.5" stroke="#000" stroke-width="1.3"/>
<text x="958.7" y="885.54" font-size="14" text-anchor="end">100</text>
<line x1="963.2" y1="866.07" x2="966.7" y2="866.07" stroke="#000" stroke-width="1.3"/>
<line x1="960.7" y1="1024.8" x2="966.7" y2="1024.8" stroke="#000" stroke-width="1.3"/>
<line x1="977.4" y1="1024.8" x2="977.4" y2="1030.8" stroke="#000" stroke-width="1.3"/>
<line x1="993.6" y1="1024.8" x2="993.6" y2="1030.8" stroke="#000" stroke-width="1.3"/>
<line x1="1009.8" y1="1024.8" x2="1009.8" y2="1030.8" stroke="#000" stroke-width="1.3"/>
<line x1="1026" y1="1024.8" x2="1026" y2="1030.8" stroke="#000" stroke-width="1.3"/>
<line x1="1042.2" y1="1024.8" x2="1042.2" y2="1030.8" stroke="#000" stroke-width="1.3"/>
<line x1="1058.4" y1="1024.8" x2="1058.4" y2="1030.8" stroke="#000" stroke-width="1.3"/>
<line x1="1074.6" y1="1024.8" x2="1074.6" y2="1030.8" stroke="#000" stroke-width="1.3"/>
<text transform="translate(981.3,1042.5) rotate(-45)" font-size="15.3" text-anchor="end">17H</text>
<text transform="translate(997.5,1042.5) rotate(-45)" font-size="15.3" text-anchor="end">25H</text>
<text transform="translate(1013.7,1042.5) rotate(-45)" font-size="15.3" text-anchor="end">27H</text>
<text transform="translate(1029.9,1042.5) rotate(-45)" font-size="15.3" text-anchor="end">30H 4X</text>
<text transform="translate(1046.1,1042.5) rotate(-45)" font-size="15.3" text-anchor="end">71H 4X</text>
<text transform="translate(1062.3,1042.5) rotate(-45)" font-size="15.3" text-anchor="end">76H 4X</text>
<text transform="translate(1078.5,1042.5) rotate(-45)" font-size="15.3" text-anchor="end">8H</text>
<rect x="1109.05" y="998.91" width="10.5" height="23.69" fill="#c66fe2" stroke="#000" stroke-width="1.2"/>
<rect x="1109.05" y="879" width="10.5" height="119.91" fill="#959595" stroke="#000" stroke-width="1.2"/>
<rect x="1125.25" y="940.75" width="10.5" height="81.85" fill="#c66fe2" stroke="#000" stroke-width="1.2"/>
<rect x="1125.25" y="879" width="10.5" height="61.75" fill="#959595" stroke="#000" stroke-width="1.2"/>
<rect x="1141.45" y="915.04" width="10.5" height="107.56" fill="#c66fe2" stroke="#000" stroke-width="1.2"/>
<rect x="1141.45" y="879" width="10.5" height="36.04" fill="#959595" stroke="#000" stroke-width="1.2"/>
<rect x="1157.65" y="973.2" width="10.5" height="49.4" fill="#c66fe2" stroke="#000" stroke-width="1.2"/>
<rect x="1157.65" y="879" width="10.5" height="94.2" fill="#959595" stroke="#000" stroke-width="1.2"/>
<rect x="1173.85" y="987.42" width="10.5" height="35.18" fill="#c66fe2" stroke="#000" stroke-width="1.2"/>
<rect x="1173.85" y="879" width="10.5" height="108.42" fill="#959595" stroke="#000" stroke-width="1.2"/>
<rect x="1190.05" y="924.09" width="10.5" height="98.51" fill="#c66fe2" stroke="#000" stroke-width="1.2"/>
<rect x="1190.05" y="879" width="10.5" height="45.09" fill="#959595" stroke="#000" stroke-width="1.2"/>
<rect x="1206.25" y="925.1" width="10.5" height="97.5" fill="#c66fe2" stroke="#000" stroke-width="1.2"/>
<rect x="1206.25" y="879" width="10.5" height="46.1" fill="#959595" stroke="#000" stroke-width="1.2"/>
<rect x="1222.45" y="1017.86" width="10.5" height="4.74" fill="#f0301a" stroke="#000" stroke-width="1.2"/>
<rect x="1222.45" y="895.37" width="10.5" height="122.49" fill="#c66fe2" stroke="#000" stroke-width="1.2"/>
<rect x="1222.45" y="879" width="10.5" height="16.37" fill="#959595" stroke="#000" stroke-width="1.2"/>
<rect x="1238.65" y="942.9" width="10.5" height="79.7" fill="#c66fe2" stroke="#000" stroke-width="1.2"/>
<rect x="1238.65" y="879" width="10.5" height="63.9" fill="#959595" stroke="#000" stroke-width="1.2"/>
<rect x="1103.6" y="860.7" width="151.2" height="161.9" fill="none" stroke="#000" stroke-width="1.5"/>
<line x1="1097.6" y1="1022.6" x2="1103.6" y2="1022.6" stroke="#000" stroke-width="1.3"/>
<line x1="1100.1" y1="1008.24" x2="1103.6" y2="1008.24" stroke="#000" stroke-width="1.3"/>
<line x1="1100.1" y1="993.88" x2="1103.6" y2="993.88" stroke="#000" stroke-width="1.3"/>
<line x1="1100.1" y1="979.52" x2="1103.6" y2="979.52" stroke="#000" stroke-width="1.3"/>
<line x1="1100.1" y1="965.16" x2="1103.6" y2="965.16" stroke="#000" stroke-width="1.3"/>
<line x1="1097.6" y1="950.8" x2="1103.6" y2="950.8" stroke="#000" stroke-width="1.3"/>
<line x1="1100.1" y1="936.44" x2="1103.6" y2="936.44" stroke="#000" stroke-width="1.3"/>
<line x1="1100.1" y1="922.08" x2="1103.6" y2="922.08" stroke="#000" stroke-width="1.3"/>
<line x1="1100.1" y1="907.72" x2="1103.6" y2="907.72" stroke="#000" stroke-width="1.3"/>
<line x1="1100.1" y1="893.36" x2="1103.6" y2="893.36" stroke="#000" stroke-width="1.3"/>
<line x1="1097.6" y1="879" x2="1103.6" y2="879" stroke="#000" stroke-width="1.3"/>
<line x1="1100.1" y1="864.64" x2="1103.6" y2="864.64" stroke="#000" stroke-width="1.3"/>
<line x1="1097.6" y1="1022.6" x2="1103.6" y2="1022.6" stroke="#000" stroke-width="1.3"/>
<line x1="1114.3" y1="1022.6" x2="1114.3" y2="1028.6" stroke="#000" stroke-width="1.3"/>
<line x1="1130.5" y1="1022.6" x2="1130.5" y2="1028.6" stroke="#000" stroke-width="1.3"/>
<line x1="1146.7" y1="1022.6" x2="1146.7" y2="1028.6" stroke="#000" stroke-width="1.3"/>
<line x1="1162.9" y1="1022.6" x2="1162.9" y2="1028.6" stroke="#000" stroke-width="1.3"/>
<line x1="1179.1" y1="1022.6" x2="1179.1" y2="1028.6" stroke="#000" stroke-width="1.3"/>
<line x1="1195.3" y1="1022.6" x2="1195.3" y2="1028.6" stroke="#000" stroke-width="1.3"/>
<line x1="1211.5" y1="1022.6" x2="1211.5" y2="1028.6" stroke="#000" stroke-width="1.3"/>
<line x1="1227.7" y1="1022.6" x2="1227.7" y2="1028.6" stroke="#000" stroke-width="1.3"/>
<line x1="1243.9" y1="1022.6" x2="1243.9" y2="1028.6" stroke="#000" stroke-width="1.3"/>
<text transform="translate(1118.2,1040.3) rotate(-45)" font-size="15.3" text-anchor="end">12H</text>
<text transform="translate(1134.4,1040.3) rotate(-45)" font-size="15.3" text-anchor="end">16H</text>
<text transform="translate(1150.6,1040.3) rotate(-45)" font-size="15.3" text-anchor="end">30H 5X</text>
<text transform="translate(1166.8,1040.3) rotate(-45)" font-size="15.3" text-anchor="end">31H</text>
<text transform="translate(1183,1040.3) rotate(-45)" font-size="15.3" text-anchor="end">46H</text>
<text transform="translate(1199.2,1040.3) rotate(-45)" font-size="15.3" text-anchor="end">54H</text>
<text transform="translate(1215.4,1040.3) rotate(-45)" font-size="15.3" text-anchor="end">57H</text>
<text transform="translate(1231.6,1040.3) rotate(-45)" font-size="15.3" text-anchor="end">71H 5X</text>
<text transform="translate(1247.8,1040.3) rotate(-45)" font-size="15.3" text-anchor="end">76H 5X</text>
<rect x="1277.2" y="926.17" width="11.4" height="95.03" fill="#c66fe2" stroke="#000" stroke-width="1.2"/>
<rect x="1277.2" y="878.3" width="11.4" height="47.87" fill="#959595" stroke="#000" stroke-width="1.2"/>
<rect x="1296.8" y="930.17" width="11.4" height="91.03" fill="#c66fe2" stroke="#000" stroke-width="1.2"/>
<rect x="1296.8" y="878.3" width="11.4" height="51.87" fill="#959595" stroke="#000" stroke-width="1.2"/>
<rect x="1316.4" y="953.32" width="11.4" height="67.88" fill="#c66fe2" stroke="#000" stroke-width="1.2"/>
<rect x="1316.4" y="878.3" width="11.4" height="75.02" fill="#959595" stroke="#000" stroke-width="1.2"/>
<rect x="1336" y="925.89" width="11.4" height="95.31" fill="#c66fe2" stroke="#000" stroke-width="1.2"/>
<rect x="1336" y="878.3" width="11.4" height="47.59" fill="#959595" stroke="#000" stroke-width="1.2"/>
<rect x="1270.2" y="860" width="84.6" height="161.2" fill="none" stroke="#000" stroke-width="1.5"/>
<line x1="1264.2" y1="1021.2" x2="1270.2" y2="1021.2" stroke="#000" stroke-width="1.3"/>
<line x1="1266.7" y1="1006.91" x2="1270.2" y2="1006.91" stroke="#000" stroke-width="1.3"/>
<line x1="1266.7" y1="992.62" x2="1270.2" y2="992.62" stroke="#000" stroke-width="1.3"/>
<line x1="1266.7" y1="978.33" x2="1270.2" y2="978.33" stroke="#000" stroke-width="1.3"/>
<line x1="1266.7" y1="964.04" x2="1270.2" y2="964.04" stroke="#000" stroke-width="1.3"/>
<line x1="1264.2" y1="949.75" x2="1270.2" y2="949.75" stroke="#000" stroke-width="1.3"/>
<line x1="1266.7" y1="935.46" x2="1270.2" y2="935.46" stroke="#000" stroke-width="1.3"/>
<line x1="1266.7" y1="921.17" x2="1270.2" y2="921.17" stroke="#000" stroke-width="1.3"/>
<line x1="1266.7" y1="906.88" x2="1270.2" y2="906.88" stroke="#000" stroke-width="1.3"/>
<line x1="1266.7" y1="892.59" x2="1270.2" y2="892.59" stroke="#000" stroke-width="1.3"/>
<line x1="1264.2" y1="878.3" x2="1270.2" y2="878.3" stroke="#000" stroke-width="1.3"/>
<line x1="1266.7" y1="864.01" x2="1270.2" y2="864.01" stroke="#000" stroke-width="1.3"/>
<line x1="1264.2" y1="1021.2" x2="1270.2" y2="1021.2" stroke="#000" stroke-width="1.3"/>
<line x1="1282.9" y1="1021.2" x2="1282.9" y2="1027.2" stroke="#000" stroke-width="1.3"/>
<line x1="1302.5" y1="1021.2" x2="1302.5" y2="1027.2" stroke="#000" stroke-width="1.3"/>
<line x1="1322.1" y1="1021.2" x2="1322.1" y2="1027.2" stroke="#000" stroke-width="1.3"/>
<line x1="1341.7" y1="1021.2" x2="1341.7" y2="1027.2" stroke="#000" stroke-width="1.3"/>
<text transform="translate(1286.8,1038.9) rotate(-45)" font-size="15.3" text-anchor="end">110C</text>
<text transform="translate(1306.4,1038.9) rotate(-45)" font-size="15.3" text-anchor="end">63C</text>
<text transform="translate(1326,1038.9) rotate(-45)" font-size="15.3" text-anchor="end">71C</text>
<text transform="translate(1345.6,1038.9) rotate(-45)" font-size="15.3" text-anchor="end">87C</text>
<rect x="972.15" y="1181.46" width="10.5" height="96.34" fill="#c66fe2" stroke="#000" stroke-width="1.2"/>
<rect x="972.15" y="1133.8" width="10.5" height="47.66" fill="#959595" stroke="#000" stroke-width="1.2"/>
<rect x="988.5" y="1142.58" width="10.5" height="135.22" fill="#c66fe2" stroke="#000" stroke-width="1.2"/>
<rect x="988.5" y="1133.8" width="10.5" height="8.78" fill="#959595" stroke="#000" stroke-width="1.2"/>
<rect x="1004.85" y="1164.04" width="10.5" height="113.76" fill="#c66fe2" stroke="#000" stroke-width="1.2"/>
<rect x="1004.85" y="1133.8" width="10.5" height="30.24" fill="#959595" stroke="#000" stroke-width="1.2"/>
<rect x="1021.2" y="1199.32" width="10.5" height="78.48" fill="#c66fe2" stroke="#000" stroke-width="1.2"/>
<rect x="1021.2" y="1133.8" width="10.5" height="65.52" fill="#959595" stroke="#000" stroke-width="1.2"/>
<rect x="1037.55" y="1177.29" width="10.5" height="100.51" fill="#c66fe2" stroke="#000" stroke-width="1.2"/>
<rect x="1037.55" y="1133.8" width="10.5" height="43.49" fill="#959595" stroke="#000" stroke-width="1.2"/>
<rect x="1053.9" y="1191.4" width="10.5" height="86.4" fill="#c66fe2" stroke="#000" stroke-width="1.2"/>
<rect x="1053.9" y="1133.8" width="10.5" height="57.6" fill="#959595" stroke="#000" stroke-width="1.2"/>
<rect x="1070.25" y="1161.16" width="10.5" height="116.64" fill="#c66fe2" stroke="#000" stroke-width="1.2"/>
<rect x="1070.25" y="1133.8" width="10.5" height="27.36" fill="#959595" stroke="#000" stroke-width="1.2"/>
<rect x="1086.6" y="1180.17" width="10.5" height="97.63" fill="#c66fe2" stroke="#000" stroke-width="1.2"/>
<rect x="1086.6" y="1133.8" width="10.5" height="46.37" fill="#959595" stroke="#000" stroke-width="1.2"/>
<rect x="1102.95" y="1174.7" width="10.5" height="103.1" fill="#c66fe2" stroke="#000" stroke-width="1.2"/>
<rect x="1102.95" y="1133.8" width="10.5" height="40.9" fill="#959595" stroke="#000" stroke-width="1.2"/>
<rect x="1119.3" y="1206.38" width="10.5" height="71.42" fill="#c66fe2" stroke="#000" stroke-width="1.2"/>
<rect x="1119.3" y="1133.8" width="10.5" height="72.58" fill="#959595" stroke="#000" stroke-width="1.2"/>
<rect x="1135.65" y="1230.86" width="10.5" height="46.94" fill="#c66fe2" stroke="#000" stroke-width="1.2"/>
<rect x="1135.65" y="1133.8" width="10.5" height="97.06" fill="#959595" stroke="#000" stroke-width="1.2"/>
<rect x="1152" y="1202.06" width="10.5" height="75.74" fill="#c66fe2" stroke="#000" stroke-width="1.2"/>
<rect x="1152" y="1133.8" width="10.5" height="68.26" fill="#959595" stroke="#000" stroke-width="1.2"/>
<rect x="1168.35" y="1133.8" width="10.5" height="144" fill="#959595" stroke="#000" stroke-width="1.2"/>
<rect x="1184.7" y="1190.97" width="10.5" height="86.83" fill="#c66fe2" stroke="#000" stroke-width="1.2"/>
<rect x="1184.7" y="1133.8" width="10.5" height="57.17" fill="#959595" stroke="#000" stroke-width="1.2"/>
<rect x="1201.05" y="1133.8" width="10.5" height="144" fill="#c66fe2" stroke="#000" stroke-width="1.2"/>
<rect x="1217.4" y="1206.38" width="10.5" height="71.42" fill="#c66fe2" stroke="#000" stroke-width="1.2"/>
<rect x="1217.4" y="1133.8" width="10.5" height="72.58" fill="#959595" stroke="#000" stroke-width="1.2"/>
<rect x="966.7" y="1116.2" width="266.6" height="161.6" fill="none" stroke="#000" stroke-width="1.5"/>
<line x1="960.7" y1="1277.8" x2="966.7" y2="1277.8" stroke="#000" stroke-width="1.3"/>
<text x="958.7" y="1282.84" font-size="14" text-anchor="end">0</text>
<line x1="963.2" y1="1263.4" x2="966.7" y2="1263.4" stroke="#000" stroke-width="1.3"/>
<line x1="963.2" y1="1249" x2="966.7" y2="1249" stroke="#000" stroke-width="1.3"/>
<line x1="963.2" y1="1234.6" x2="966.7" y2="1234.6" stroke="#000" stroke-width="1.3"/>
<line x1="963.2" y1="1220.2" x2="966.7" y2="1220.2" stroke="#000" stroke-width="1.3"/>
<line x1="960.7" y1="1205.8" x2="966.7" y2="1205.8" stroke="#000" stroke-width="1.3"/>
<text x="958.7" y="1210.84" font-size="14" text-anchor="end">50</text>
<line x1="963.2" y1="1191.4" x2="966.7" y2="1191.4" stroke="#000" stroke-width="1.3"/>
<line x1="963.2" y1="1177" x2="966.7" y2="1177" stroke="#000" stroke-width="1.3"/>
<line x1="963.2" y1="1162.6" x2="966.7" y2="1162.6" stroke="#000" stroke-width="1.3"/>
<line x1="963.2" y1="1148.2" x2="966.7" y2="1148.2" stroke="#000" stroke-width="1.3"/>
<line x1="960.7" y1="1133.8" x2="966.7" y2="1133.8" stroke="#000" stroke-width="1.3"/>
<text x="958.7" y="1138.84" font-size="14" text-anchor="end">100</text>
<line x1="963.2" y1="1119.4" x2="966.7" y2="1119.4" stroke="#000" stroke-width="1.3"/>
<line x1="960.7" y1="1277.8" x2="966.7" y2="1277.8" stroke="#000" stroke-width="1.3"/>
<line x1="977.4" y1="1277.8" x2="977.4" y2="1283.8" stroke="#000" stroke-width="1.3"/>
<line x1="993.75" y1="1277.8" x2="993.75" y2="1283.8" stroke="#000" stroke-width="1.3"/>
<line x1="1010.1" y1="1277.8" x2="1010.1" y2="1283.8" stroke="#000" stroke-width="1.3"/>
<line x1="1026.45" y1="1277.8" x2="1026.45" y2="1283.8" stroke="#000" stroke-width="1.3"/>
<line x1="1042.8" y1="1277.8" x2="1042.8" y2="1283.8" stroke="#000" stroke-width="1.3"/>
<line x1="1059.15" y1="1277.8" x2="1059.15" y2="1283.8" stroke="#000" stroke-width="1.3"/>
<line x1="1075.5" y1="1277.8" x2="1075.5" y2="1283.8" stroke="#000" stroke-width="1.3"/>
<line x1="1091.85" y1="1277.8" x2="1091.85" y2="1283.8" stroke="#000" stroke-width="1.3"/>
<line x1="1108.2" y1="1277.8" x2="1108.2" y2="1283.8" stroke="#000" stroke-width="1.3"/>
<line x1="1124.55" y1="1277.8" x2="1124.55" y2="1283.8" stroke="#000" stroke-width="1.3"/>
<line x1="1140.9" y1="1277.8" x2="1140.9" y2="1283.8" stroke="#000" stroke-width="1.3"/>
<line x1="1157.25" y1="1277.8" x2="1157.25" y2="1283.8" stroke="#000" stroke-width="1.3"/>
<line x1="1173.6" y1="1277.8" x2="1173.6" y2="1283.8" stroke="#000" stroke-width="1.3"/>
<line x1="1189.95" y1="1277.8" x2="1189.95" y2="1283.8" stroke="#000" stroke-width="1.3"/>
<line x1="1206.3" y1="1277.8" x2="1206.3" y2="1283.8" stroke="#000" stroke-width="1.3"/>
<line x1="1222.65" y1="1277.8" x2="1222.65" y2="1283.8" stroke="#000" stroke-width="1.3"/>
<text transform="translate(981.3,1295.5) rotate(-45)" font-size="15.3" text-anchor="end">269C</text>
<text transform="translate(997.65,1295.5) rotate(-45)" font-size="15.3" text-anchor="end">318C</text>
<text transform="translate(1014,1295.5) rotate(-45)" font-size="15.3" text-anchor="end">319C</text>
<text transform="translate(1030.35,1295.5) rotate(-45)" font-size="15.3" text-anchor="end">324C</text>
<text transform="translate(1046.7,1295.5) rotate(-45)" font-size="15.3" text-anchor="end">331C</text>
<text transform="translate(1063.05,1295.5) rotate(-45)" font-size="15.3" text-anchor="end">345C</text>
<text transform="translate(1079.4,1295.5) rotate(-45)" font-size="15.3" text-anchor="end">388C</text>
<text transform="translate(1095.75,1295.5) rotate(-45)" font-size="15.3" text-anchor="end">400C</text>
<text transform="translate(1112.1,1295.5) rotate(-45)" font-size="15.3" text-anchor="end">403C</text>
<text transform="translate(1128.45,1295.5) rotate(-45)" font-size="15.3" text-anchor="end">407C</text>
<text transform="translate(1144.8,1295.5) rotate(-45)" font-size="15.3" text-anchor="end">414C</text>
<text transform="translate(1161.15,1295.5) rotate(-45)" font-size="15.3" text-anchor="end">415C</text>
<text transform="translate(1177.5,1295.5) rotate(-45)" font-size="15.3" text-anchor="end">424C</text>
<text transform="translate(1193.85,1295.5) rotate(-45)" font-size="15.3" text-anchor="end">425C</text>
<text transform="translate(1210.2,1295.5) rotate(-45)" font-size="15.3" text-anchor="end">445C</text>
<text transform="translate(1226.55,1295.5) rotate(-45)" font-size="15.3" text-anchor="end">56H</text>
<text x="1028.3" y="849.3" font-size="16" text-anchor="middle" xml:space="preserve">Wu<tspan font-size="11" dx="-1.8" dy="4">4</tspan><tspan dx="1.2" dy="-4">vacc  (i)</tspan></text>
<text x="1183.9" y="851.7" font-size="16" text-anchor="middle" xml:space="preserve">Wu/BA.5biv  (ii)</text>
<text x="1317.3" y="851.7" font-size="16" text-anchor="middle">preOm+biv (iii)</text>
<text x="1104.9" y="1107.4" font-size="16" text-anchor="middle">Om.BT+biv (iv)</text>
<text transform="translate(41.5,939.9) rotate(-90)" font-size="15" text-anchor="middle" xml:space="preserve">MBC frequency  (%)</text>
<text transform="translate(39.6,1193.2) rotate(-90)" font-size="15" text-anchor="middle" xml:space="preserve">MBC frequency  (%)</text>
<text x="1431" y="866" font-size="31" font-weight="bold">j</text>
<rect x="1521.1" y="946.53" width="16.2" height="78.27" fill="#0d94f4" stroke="#000" stroke-width="1.2"/>
<rect x="1521.1" y="905.3" width="16.2" height="41.23" fill="#959595" stroke="#000" stroke-width="1.2"/>
<rect x="1547.38" y="947.48" width="16.2" height="77.32" fill="#0d94f4" stroke="#000" stroke-width="1.2"/>
<rect x="1547.38" y="905.3" width="16.2" height="42.18" fill="#959595" stroke="#000" stroke-width="1.2"/>
<rect x="1573.66" y="946.89" width="16.2" height="77.91" fill="#0d94f4" stroke="#000" stroke-width="1.2"/>
<rect x="1573.66" y="905.3" width="16.2" height="41.59" fill="#959595" stroke="#000" stroke-width="1.2"/>
<rect x="1599.94" y="933.74" width="16.2" height="91.06" fill="#0d94f4" stroke="#000" stroke-width="1.2"/>
<rect x="1599.94" y="905.3" width="16.2" height="28.44" fill="#959595" stroke="#000" stroke-width="1.2"/>
<rect x="1626.22" y="961.23" width="16.2" height="63.57" fill="#fdb300" stroke="#000" stroke-width="1.2"/>
<rect x="1626.22" y="905.3" width="16.2" height="55.93" fill="#959595" stroke="#000" stroke-width="1.2"/>
<rect x="1652.5" y="962.42" width="16.2" height="62.38" fill="#fdb300" stroke="#000" stroke-width="1.2"/>
<rect x="1652.5" y="905.3" width="16.2" height="57.12" fill="#959595" stroke="#000" stroke-width="1.2"/>
<rect x="1678.78" y="968.87" width="16.2" height="55.93" fill="#fdb300" stroke="#000" stroke-width="1.2"/>
<rect x="1678.78" y="905.3" width="16.2" height="63.57" fill="#959595" stroke="#000" stroke-width="1.2"/>
<rect x="1705.06" y="962.78" width="16.2" height="62.02" fill="#fdb300" stroke="#000" stroke-width="1.2"/>
<rect x="1705.06" y="905.3" width="16.2" height="57.48" fill="#959595" stroke="#000" stroke-width="1.2"/>
<rect x="1731.34" y="957.28" width="16.2" height="67.52" fill="#c66fe2" stroke="#000" stroke-width="1.2"/>
<rect x="1731.34" y="905.3" width="16.2" height="51.98" fill="#959595" stroke="#000" stroke-width="1.2"/>
<rect x="1757.62" y="960.27" width="16.2" height="64.53" fill="#c66fe2" stroke="#000" stroke-width="1.2"/>
<rect x="1757.62" y="905.3" width="16.2" height="54.97" fill="#959595" stroke="#000" stroke-width="1.2"/>
<rect x="1783.9" y="952.02" width="16.2" height="72.78" fill="#c66fe2" stroke="#000" stroke-width="1.2"/>
<rect x="1783.9" y="905.3" width="16.2" height="46.72" fill="#959595" stroke="#000" stroke-width="1.2"/>
<rect x="1810.18" y="951.43" width="16.2" height="73.37" fill="#c66fe2" stroke="#000" stroke-width="1.2"/>
<rect x="1810.18" y="905.3" width="16.2" height="46.13" fill="#959595" stroke="#000" stroke-width="1.2"/>
<line x1="1529.2" y1="905.3" x2="1529.2" y2="895.26" stroke="#000" stroke-width="1.0"/>
<line x1="1524.2" y1="895.26" x2="1534.2" y2="895.26" stroke="#000" stroke-width="1.0"/>
<line x1="1529.2" y1="946.53" x2="1529.2" y2="935.29" stroke="#000" stroke-width="1.0"/>
<line x1="1524.2" y1="935.29" x2="1534.2" y2="935.29" stroke="#000" stroke-width="1.0"/>
<line x1="1555.48" y1="905.3" x2="1555.48" y2="873.15" stroke="#000" stroke-width="1.0"/>
<line x1="1550.48" y1="873.15" x2="1560.48" y2="873.15" stroke="#000" stroke-width="1.0"/>
<line x1="1555.48" y1="947.48" x2="1555.48" y2="915.34" stroke="#000" stroke-width="1.0"/>
<line x1="1550.48" y1="915.34" x2="1560.48" y2="915.34" stroke="#000" stroke-width="1.0"/>
<line x1="1581.76" y1="905.3" x2="1581.76" y2="892.51" stroke="#000" stroke-width="1.0"/>
<line x1="1576.76" y1="892.51" x2="1586.76" y2="892.51" stroke="#000" stroke-width="1.0"/>
<line x1="1581.76" y1="946.89" x2="1581.76" y2="933.74" stroke="#000" stroke-width="1.0"/>
<line x1="1576.76" y1="933.74" x2="1586.76" y2="933.74" stroke="#000" stroke-width="1.0"/>
<line x1="1608.04" y1="905.3" x2="1608.04" y2="888.45" stroke="#000" stroke-width="1.0"/>
<line x1="1603.04" y1="888.45" x2="1613.04" y2="888.45" stroke="#000" stroke-width="1.0"/>
<line x1="1608.04" y1="933.74" x2="1608.04" y2="915.34" stroke="#000" stroke-width="1.0"/>
<line x1="1603.04" y1="915.34" x2="1613.04" y2="915.34" stroke="#000" stroke-width="1.0"/>
<line x1="1634.32" y1="905.3" x2="1634.32" y2="894.31" stroke="#000" stroke-width="1.0"/>
<line x1="1629.32" y1="894.31" x2="1639.32" y2="894.31" stroke="#000" stroke-width="1.0"/>
<line x1="1634.32" y1="961.23" x2="1634.32" y2="949.63" stroke="#000" stroke-width="1.0"/>
<line x1="1629.32" y1="949.63" x2="1639.32" y2="949.63" stroke="#000" stroke-width="1.0"/>
<line x1="1660.6" y1="905.3" x2="1660.6" y2="877.81" stroke="#000" stroke-width="1.0"/>
<line x1="1655.6" y1="877.81" x2="1665.6" y2="877.81" stroke="#000" stroke-width="1.0"/>
<line x1="1660.6" y1="962.42" x2="1660.6" y2="935.29" stroke="#000" stroke-width="1.0"/>
<line x1="1655.6" y1="935.29" x2="1665.6" y2="935.29" stroke="#000" stroke-width="1.0"/>
<line x1="1686.88" y1="905.3" x2="1686.88" y2="885.46" stroke="#000" stroke-width="1.0"/>
<line x1="1681.88" y1="885.46" x2="1691.88" y2="885.46" stroke="#000" stroke-width="1.0"/>
<line x1="1686.88" y1="968.87" x2="1686.88" y2="948.44" stroke="#000" stroke-width="1.0"/>
<line x1="1681.88" y1="948.44" x2="1691.88" y2="948.44" stroke="#000" stroke-width="1.0"/>
<line x1="1713.16" y1="905.3" x2="1713.16" y2="879.01" stroke="#000" stroke-width="1.0"/>
<line x1="1708.16" y1="879.01" x2="1718.16" y2="879.01" stroke="#000" stroke-width="1.0"/>
<line x1="1713.16" y1="962.78" x2="1713.16" y2="935.89" stroke="#000" stroke-width="1.0"/>
<line x1="1708.16" y1="935.89" x2="1718.16" y2="935.89" stroke="#000" stroke-width="1.0"/>
<line x1="1739.44" y1="905.3" x2="1739.44" y2="889.41" stroke="#000" stroke-width="1.0"/>
<line x1="1734.44" y1="889.41" x2="1744.44" y2="889.41" stroke="#000" stroke-width="1.0"/>
<line x1="1739.44" y1="957.28" x2="1739.44" y2="940.79" stroke="#000" stroke-width="1.0"/>
<line x1="1734.44" y1="940.79" x2="1744.44" y2="940.79" stroke="#000" stroke-width="1.0"/>
<line x1="1765.72" y1="905.3" x2="1765.72" y2="875.9" stroke="#000" stroke-width="1.0"/>
<line x1="1760.72" y1="875.9" x2="1770.72" y2="875.9" stroke="#000" stroke-width="1.0"/>
<line x1="1765.72" y1="960.27" x2="1765.72" y2="931.23" stroke="#000" stroke-width="1.0"/>
<line x1="1760.72" y1="931.23" x2="1770.72" y2="931.23" stroke="#000" stroke-width="1.0"/>
<line x1="1792" y1="905.3" x2="1792" y2="893.95" stroke="#000" stroke-width="1.0"/>
<line x1="1787" y1="893.95" x2="1797" y2="893.95" stroke="#000" stroke-width="1.0"/>
<line x1="1792" y1="952.02" x2="1792" y2="940.43" stroke="#000" stroke-width="1.0"/>
<line x1="1787" y1="940.43" x2="1797" y2="940.43" stroke="#000" stroke-width="1.0"/>
<line x1="1818.28" y1="905.3" x2="1818.28" y2="875.9" stroke="#000" stroke-width="1.0"/>
<line x1="1813.28" y1="875.9" x2="1823.28" y2="875.9" stroke="#000" stroke-width="1.0"/>
<line x1="1818.28" y1="951.43" x2="1818.28" y2="922.15" stroke="#000" stroke-width="1.0"/>
<line x1="1813.28" y1="922.15" x2="1823.28" y2="922.15" stroke="#000" stroke-width="1.0"/>
<rect x="1511.5" y="862.9" width="323.9" height="161.9" fill="none" stroke="#000" stroke-width="1.5"/>
<line x1="1505.5" y1="1024.8" x2="1511.5" y2="1024.8" stroke="#000" stroke-width="1.3"/>
<text x="1503.5" y="1029.84" font-size="14" text-anchor="end">0</text>
<line x1="1508" y1="1012.85" x2="1511.5" y2="1012.85" stroke="#000" stroke-width="1.3"/>
<line x1="1508" y1="1000.9" x2="1511.5" y2="1000.9" stroke="#000" stroke-width="1.3"/>
<line x1="1508" y1="988.95" x2="1511.5" y2="988.95" stroke="#000" stroke-width="1.3"/>
<line x1="1508" y1="977" x2="1511.5" y2="977" stroke="#000" stroke-width="1.3"/>
<line x1="1505.5" y1="965.05" x2="1511.5" y2="965.05" stroke="#000" stroke-width="1.3"/>
<text x="1503.5" y="970.09" font-size="14" text-anchor="end">50</text>
<line x1="1508" y1="953.1" x2="1511.5" y2="953.1" stroke="#000" stroke-width="1.3"/>
<line x1="1508" y1="941.15" x2="1511.5" y2="941.15" stroke="#000" stroke-width="1.3"/>
<line x1="1508" y1="929.2" x2="1511.5" y2="929.2" stroke="#000" stroke-width="1.3"/>
<line x1="1508" y1="917.25" x2="1511.5" y2="917.25" stroke="#000" stroke-width="1.3"/>
<line x1="1505.5" y1="905.3" x2="1511.5" y2="905.3" stroke="#000" stroke-width="1.3"/>
<text x="1503.5" y="910.34" font-size="14" text-anchor="end">100</text>
<line x1="1508" y1="893.35" x2="1511.5" y2="893.35" stroke="#000" stroke-width="1.3"/>
<line x1="1508" y1="881.4" x2="1511.5" y2="881.4" stroke="#000" stroke-width="1.3"/>
<line x1="1508" y1="869.45" x2="1511.5" y2="869.45" stroke="#000" stroke-width="1.3"/>
<line x1="1505.5" y1="1024.8" x2="1511.5" y2="1024.8" stroke="#000" stroke-width="1.3"/>
<line x1="1529.2" y1="1024.8" x2="1529.2" y2="1030.8" stroke="#000" stroke-width="1.3"/>
<line x1="1555.48" y1="1024.8" x2="1555.48" y2="1030.8" stroke="#000" stroke-width="1.3"/>
<line x1="1581.76" y1="1024.8" x2="1581.76" y2="1030.8" stroke="#000" stroke-width="1.3"/>
<line x1="1608.04" y1="1024.8" x2="1608.04" y2="1030.8" stroke="#000" stroke-width="1.3"/>
<line x1="1634.32" y1="1024.8" x2="1634.32" y2="1030.8" stroke="#000" stroke-width="1.3"/>
<line x1="1660.6" y1="1024.8" x2="1660.6" y2="1030.8" stroke="#000" stroke-width="1.3"/>
<line x1="1686.88" y1="1024.8" x2="1686.88" y2="1030.8" stroke="#000" stroke-width="1.3"/>
<line x1="1713.16" y1="1024.8" x2="1713.16" y2="1030.8" stroke="#000" stroke-width="1.3"/>
<line x1="1739.44" y1="1024.8" x2="1739.44" y2="1030.8" stroke="#000" stroke-width="1.3"/>
<line x1="1765.72" y1="1024.8" x2="1765.72" y2="1030.8" stroke="#000" stroke-width="1.3"/>
<line x1="1792" y1="1024.8" x2="1792" y2="1030.8" stroke="#000" stroke-width="1.3"/>
<line x1="1818.28" y1="1024.8" x2="1818.28" y2="1030.8" stroke="#000" stroke-width="1.3"/>
<text transform="translate(1533.1,1042.5) rotate(-45)" font-size="15.3" text-anchor="end">Wu<tspan font-size="11" dy="4">4</tspan><tspan dy="-4">vacc</tspan></text>
<text transform="translate(1559.38,1042.5) rotate(-45)" font-size="15.3" text-anchor="end">Wu/BA.5biv</text>
<text transform="translate(1585.66,1042.5) rotate(-45)" font-size="15.3" text-anchor="end">preOm+biv</text>
<text transform="translate(1611.94,1042.5) rotate(-45)" font-size="15.3" text-anchor="end">Om.BT+biv</text>
<text transform="translate(1638.22,1042.5) rotate(-45)" font-size="15.3" text-anchor="end">Wu<tspan font-size="11" dy="4">4</tspan><tspan dy="-4">vacc</tspan></text>
<text transform="translate(1664.5,1042.5) rotate(-45)" font-size="15.3" text-anchor="end">Wu/BA.5biv</text>
<text transform="translate(1690.78,1042.5) rotate(-45)" font-size="15.3" text-anchor="end">preOm+biv</text>
<text transform="translate(1717.06,1042.5) rotate(-45)" font-size="15.3" text-anchor="end">Om.BT+biv</text>
<text transform="translate(1743.34,1042.5) rotate(-45)" font-size="15.3" text-anchor="end">Wu<tspan font-size="11" dy="4">4</tspan><tspan dy="-4">vacc</tspan></text>
<text transform="translate(1769.62,1042.5) rotate(-45)" font-size="15.3" text-anchor="end">Wu/BA.5biv</text>
<text transform="translate(1795.9,1042.5) rotate(-45)" font-size="15.3" text-anchor="end">preOm+biv</text>
<text transform="translate(1822.18,1042.5) rotate(-45)" font-size="15.3" text-anchor="end">Om.BT+biv</text>
<text x="1675.7" y="849.1" font-size="16" text-anchor="middle">All donors</text>
<text transform="translate(1471.3,939.9) rotate(-90)" font-size="15" text-anchor="middle" xml:space="preserve">MBC frequency  (%)</text>
<rect x="1869" y="884.3" width="22" height="9" fill="#959595" stroke="#000" stroke-width="1.1"/>
<text x="1902" y="894" font-size="16">Wu-specific</text>
<rect x="1869" y="906.3" width="22" height="9" fill="#0d94f4" stroke="#000" stroke-width="1.1"/>
<text x="1902" y="916" font-size="16">Wu/BA.5cr.</text>
<rect x="1869" y="928.3" width="22" height="9" fill="#fdb300" stroke="#000" stroke-width="1.1"/>
<text x="1902" y="938" font-size="16">Wu/BQ.1.1-cr.</text>
<rect x="1869" y="950.6" width="22" height="9" fill="#c66fe2" stroke="#000" stroke-width="1.1"/>
<text x="1902" y="960.3" font-size="16">Wu/XBB.1-cr.</text>
<rect x="1869" y="972.6" width="22" height="9" fill="#f0301a" stroke="#000" stroke-width="1.1"/>
<text x="1902" y="982.3" font-size="16">BA.5-specific</text>
<text x="1901.7" y="995" font-size="16">BQ.1.1-specific</text>
<text x="1901.7" y="1009" font-size="16">XBB.1-specific</text>
</svg>
</body></html>
